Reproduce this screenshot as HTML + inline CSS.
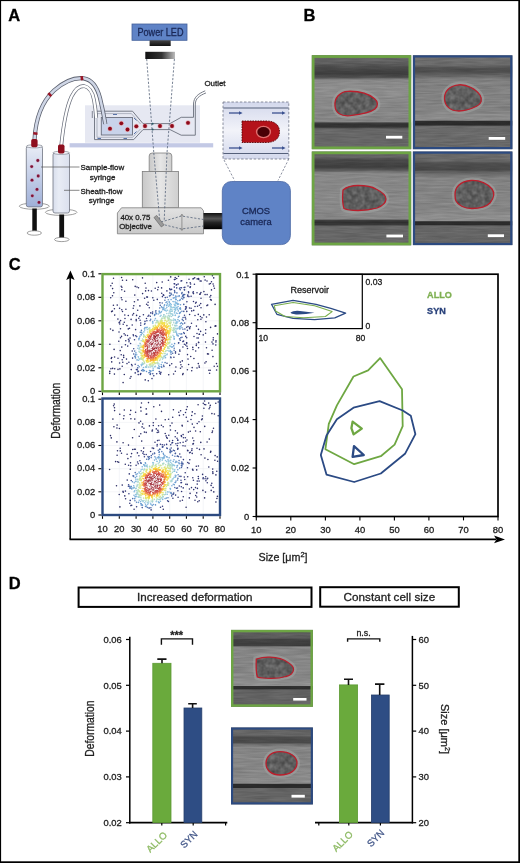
<!DOCTYPE html>
<html><head><meta charset="utf-8"><title>Figure</title>
<style>html,body{margin:0;padding:0;background:#fff;width:520px;height:863px;overflow:hidden}svg{display:block}text{font-family:"Liberation Sans", sans-serif}</style>
</head><body>
<svg width="520" height="863" viewBox="0 0 520 863" font-family='"Liberation Sans", sans-serif'>
<rect x="0" y="0" width="520" height="863" fill="#fff"/>
<defs>
<linearGradient id="lensg" x1="0" x2="1" y1="0" y2="0"><stop offset="0" stop-color="#111"/><stop offset="0.55" stop-color="#333"/><stop offset="1" stop-color="#bbb"/></linearGradient>
<linearGradient id="ledblk" x1="0" x2="0" y1="0" y2="1"><stop offset="0" stop-color="#444"/><stop offset="1" stop-color="#111"/></linearGradient>
<linearGradient id="syr1" x1="0" x2="0" y1="0" y2="1"><stop offset="0" stop-color="#e8ecf6"/><stop offset="1" stop-color="#9fb0d8"/></linearGradient>
<linearGradient id="syr2" x1="0" x2="1" y1="0" y2="0"><stop offset="0" stop-color="#d8deec"/><stop offset="0.35" stop-color="#e8ecf5"/><stop offset="1" stop-color="#dbe0ee"/></linearGradient>
<linearGradient id="objg" x1="0" x2="1" y1="0" y2="0"><stop offset="0" stop-color="#c8c8c8"/><stop offset="0.5" stop-color="#e6e6e6"/><stop offset="1" stop-color="#cfcfcf"/></linearGradient>
<linearGradient id="objb" x1="0" x2="0" y1="0" y2="1"><stop offset="0" stop-color="#e2e2e2"/><stop offset="1" stop-color="#c9c9c9"/></linearGradient>
<linearGradient id="conn" x1="0" x2="0" y1="0" y2="1"><stop offset="0" stop-color="#111"/><stop offset="0.35" stop-color="#555"/><stop offset="0.6" stop-color="#222"/><stop offset="1" stop-color="#000"/></linearGradient>
<linearGradient id="insetg" x1="0" x2="0" y1="0" y2="1"><stop offset="0" stop-color="#d3d8ec"/><stop offset="0.5" stop-color="#f2f3f9"/><stop offset="1" stop-color="#d3d8ec"/></linearGradient>
<radialGradient id="cellr" cx="0.5" cy="0.5" r="0.5"><stop offset="0" stop-color="#5a0008"/><stop offset="0.6" stop-color="#8a0a18"/><stop offset="1" stop-color="#c8404a"/></radialGradient>
</defs>
<rect x="132" y="24" width="55" height="16.3" fill="#5f83c6" stroke="#44609a" stroke-width="0.8"/>
<text x="160.5" y="35.5" font-size="10.2" text-anchor="middle" font-weight="normal" fill="#1a2856" textLength="46" lengthAdjust="spacingAndGlyphs" stroke="#1a2856" stroke-width="0.3">Power LED</text>
<rect x="149.6" y="40.3" width="21.1" height="5.7" fill="url(#ledblk)"/>
<rect x="145.3" y="51.8" width="29.7" height="7.2" fill="url(#lensg)"/>
<rect x="69.6" y="143.2" width="143.6" height="4.2" fill="#c3c9e5"/>
<rect x="85" y="105.3" width="115" height="37.5" fill="#e6e8f2"/>
<rect x="101.3" y="117.5" width="31.2" height="17.5" fill="#c9d3ea" stroke="#6a6f7c" stroke-width="0.9"/>
<path d="M94.5,111.2 L132.5,111.2 L143,123.6 L170,123.6 L181.2,117.3 L193.5,117.3 L193.5,104" stroke="#6a6f7c" stroke-width="0.9" fill="none"/>
<path d="M94.5,111.2 L94.5,139.6 L133.7,139.6 L143,129.6 L170,129.6 L181.2,135.2 L195.3,135.2 L195.3,104" stroke="#6a6f7c" stroke-width="0.9" fill="none"/>
<path d="M97,113.6 L131.4,113.6 L140.5,124 M97,113.6 L97,137.3 L132.6,137.3 L140.5,129" stroke="#8c92a0" stroke-width="0.6" fill="none"/>
<path d="M193.5,104 C193.8,97.5 197.5,94 205.2,90.8 M195.3,104 C195.6,98.5 199,95.8 206,92.9" stroke="#6a6f7c" stroke-width="0.9" fill="none"/>
<circle cx="110" cy="128.7" r="2.5" fill="#e4aab2"/><circle cx="110" cy="128.7" r="1.9" fill="#8e0a1a"/>
<circle cx="121.3" cy="123.3" r="2.5" fill="#e4aab2"/><circle cx="121.3" cy="123.3" r="1.9" fill="#8e0a1a"/>
<circle cx="127.5" cy="129.5" r="2.5" fill="#e4aab2"/><circle cx="127.5" cy="129.5" r="1.9" fill="#8e0a1a"/>
<circle cx="136.3" cy="126.3" r="2.5" fill="#e4aab2"/><circle cx="136.3" cy="126.3" r="1.9" fill="#8e0a1a"/>
<circle cx="145" cy="126" r="2.5" fill="#e4aab2"/><circle cx="145" cy="126" r="1.9" fill="#8e0a1a"/>
<circle cx="160" cy="126" r="2.5" fill="#e4aab2"/><circle cx="160" cy="126" r="1.9" fill="#8e0a1a"/>
<circle cx="172" cy="126" r="2.5" fill="#e4aab2"/><circle cx="172" cy="126" r="1.9" fill="#8e0a1a"/>
<circle cx="188" cy="122.8" r="2.5" fill="#e4aab2"/><circle cx="188" cy="122.8" r="1.9" fill="#8e0a1a"/>
<line x1="113" y1="114.5" x2="117" y2="114.5" stroke="#4a66a0" stroke-width="0.9"/>
<line x1="97.5" y1="138.5" x2="101" y2="138.5" stroke="#4a66a0" stroke-width="0.9"/>
<line x1="123.5" y1="138.5" x2="127" y2="138.5" stroke="#4a66a0" stroke-width="0.9"/>
<line x1="134" y1="118" x2="136.5" y2="120.5" stroke="#4a66a0" stroke-width="0.9"/>
<line x1="134" y1="134" x2="136.5" y2="131.5" stroke="#4a66a0" stroke-width="0.9"/>
<path d="M146.7,59 L153.8,153" stroke="#5d6a80" stroke-width="0.85" stroke-dasharray="2.2,1.6" fill="none"/>
<path d="M174.4,59 L167,153" stroke="#5d6a80" stroke-width="0.85" stroke-dasharray="2.2,1.6" fill="none"/>
<circle cx="152.6" cy="123.7" r="1" fill="#2a5a66"/><circle cx="152.6" cy="129.6" r="1" fill="#2a5a66"/>
<path d="M34.5,140 C35.5,121 40.5,103 54,90.5 C64,81.5 75,77.5 83.5,78.3 C91.5,79.5 97,86.5 100,98 C102.5,108 104,116 105.3,124" stroke="#5d6270" stroke-width="4.2" fill="none"/>
<path d="M34.5,140 C35.5,121 40.5,103 54,90.5 C64,81.5 75,77.5 83.5,78.3 C91.5,79.5 97,86.5 100,98 C102.5,108 104,116 105.3,124" stroke="#cfd6e6" stroke-width="2.6" fill="none"/>
<rect x="80.60000000000001" y="76.10000000000001" width="2.6" height="4.2" fill="#9a1424" transform="rotate(-8 81.9 78.2)"/>
<rect x="48.5" y="92.5" width="2.6" height="4.2" fill="#9a1424" transform="rotate(-45 49.8 94.6)"/>
<rect x="34.1" y="131.4" width="2.6" height="4.2" fill="#9a1424" transform="rotate(-85 35.4 133.5)"/>
<path d="M61.2,146 C63.2,126 66.2,108 71.5,96.5 C75,89.5 79.5,86 84,86 C89,87 92.5,92 94,100 C95.3,107 95.8,112 96.2,118" stroke="#6a6f7c" stroke-width="3.8" fill="none"/>
<path d="M61.2,146 C63.2,126 66.2,108 71.5,96.5 C75,89.5 79.5,86 84,86 C89,87 92.5,92 94,100 C95.3,107 95.8,112 96.2,118" stroke="#fff" stroke-width="2.3" fill="none"/>
<line x1="92.3" y1="111" x2="92.3" y2="118" stroke="#6a6f7c" stroke-width="0.8"/>
<ellipse cx="34.3" cy="206.2" rx="15" ry="3.1" fill="#fff" stroke="#777" stroke-width="0.7"/>
<rect x="32.3" y="208.5" width="4.5" height="24" fill="#111"/>
<ellipse cx="34.3" cy="233" rx="7.2" ry="2.2" fill="#fff" stroke="#777" stroke-width="0.7"/>
<rect x="26.3" y="146.3" width="16.2" height="60.6" rx="2" fill="url(#syr1)" stroke="#6f7480" stroke-width="0.8"/>
<ellipse cx="34.4" cy="146.3" rx="8.1" ry="1.6" fill="#f4f6fb" stroke="#6f7480" stroke-width="0.6"/>
<rect x="31.2" y="139" width="6.4" height="8.2" rx="1.8" fill="#8e0f1e"/>
<circle cx="37.8" cy="160.5" r="1.9" fill="#c88aa8" opacity="0.7"/><circle cx="37.8" cy="160.5" r="1.4" fill="#7e1236"/>
<circle cx="31.7" cy="166.6" r="1.9" fill="#c88aa8" opacity="0.7"/><circle cx="31.7" cy="166.6" r="1.4" fill="#7e1236"/>
<circle cx="38.2" cy="176" r="1.9" fill="#c88aa8" opacity="0.7"/><circle cx="38.2" cy="176" r="1.4" fill="#7e1236"/>
<circle cx="32" cy="180.2" r="1.9" fill="#c88aa8" opacity="0.7"/><circle cx="32" cy="180.2" r="1.4" fill="#7e1236"/>
<circle cx="37" cy="189.4" r="1.9" fill="#c88aa8" opacity="0.7"/><circle cx="37" cy="189.4" r="1.4" fill="#7e1236"/>
<circle cx="32.3" cy="195.8" r="1.9" fill="#c88aa8" opacity="0.7"/><circle cx="32.3" cy="195.8" r="1.4" fill="#7e1236"/>
<circle cx="39" cy="202.4" r="1.9" fill="#c88aa8" opacity="0.7"/><circle cx="39" cy="202.4" r="1.4" fill="#7e1236"/>
<ellipse cx="61.2" cy="212.3" rx="15.8" ry="3.1" fill="#fff" stroke="#777" stroke-width="0.7"/>
<rect x="59.3" y="214.5" width="4.8" height="24.5" fill="#111"/>
<ellipse cx="61.8" cy="239.5" rx="7.3" ry="2.1" fill="#fff" stroke="#777" stroke-width="0.7"/>
<rect x="53" y="152.8" width="16.5" height="60.2" rx="2" fill="url(#syr2)" stroke="#6f7480" stroke-width="0.8"/>
<ellipse cx="61.2" cy="152.8" rx="8.2" ry="1.6" fill="#f4f6fb" stroke="#6f7480" stroke-width="0.6"/>
<rect x="58" y="144.5" width="6.5" height="9" rx="1.8" fill="#8e0f1e"/>
<line x1="41" y1="167" x2="79.5" y2="167" stroke="#555" stroke-width="0.7"/>
<line x1="64" y1="190.3" x2="79.5" y2="190.3" stroke="#555" stroke-width="0.7"/>
<text x="80.5" y="169.7" font-size="7.95" text-anchor="start" font-weight="normal" fill="#222"  stroke="#222" stroke-width="0.3">Sample-flow</text>
<text x="102.5" y="180.2" font-size="7.95" text-anchor="middle" font-weight="normal" fill="#222"  stroke="#222" stroke-width="0.3">syringe</text>
<text x="80.5" y="193.6" font-size="7.95" text-anchor="start" font-weight="normal" fill="#222"  stroke="#222" stroke-width="0.3">Sheath-flow</text>
<text x="101.5" y="203.2" font-size="7.95" text-anchor="middle" font-weight="normal" fill="#222"  stroke="#222" stroke-width="0.3">syringe</text>
<text x="204.4" y="86" font-size="7.95" text-anchor="start" font-weight="normal" fill="#222"  stroke="#222" stroke-width="0.3">Outlet</text>
<path d="M149.2,171.5 L149.2,156 Q149.2,153 152.2,153 L168.8,153 Q171.8,153 171.8,156 L171.8,171.5 Z" fill="url(#objg)" stroke="#7d7d7d" stroke-width="0.8"/>
<rect x="142.3" y="171.5" width="36.2" height="36.3" fill="url(#objg)" stroke="#7d7d7d" stroke-width="0.8"/>
<path d="M117.4,213 L121.5,207.8 L201.2,207.8 L203.5,210.8 L203.5,233.8 L117.4,233.8 Z" fill="url(#objb)" stroke="#7d7d7d" stroke-width="0.8"/>
<path d="M153.8,153 L159.8,221 M167,153 L164.2,221" stroke="#5d6a80" stroke-width="0.85" stroke-dasharray="2.2,1.6" fill="none"/>
<path d="M161,222 L181.5,216 L203.5,219.5 M161,224 L181.5,229 L203.5,226" stroke="#5d6a80" stroke-width="0.85" stroke-dasharray="2.2,1.6" fill="none"/>
<rect x="153" y="219.5" width="12" height="3.4" fill="#9a9a9a" stroke="#666" stroke-width="0.6" transform="rotate(52 159 221.2)"/>
<path d="M181.9,214.2 L181.9,230.4 M180.4,216.5 L181.9,214.2 L183.4,216.5 M180.4,228.1 L181.9,230.4 L183.4,228.1" stroke="#8a8a8a" stroke-width="0.9" fill="none"/>
<text x="120.4" y="220.2" font-size="7.85" text-anchor="start" font-weight="normal" fill="#222"  stroke="#222" stroke-width="0.3">40x 0.75</text>
<text x="119.2" y="229.3" font-size="7.85" text-anchor="start" font-weight="normal" fill="#222"  stroke="#222" stroke-width="0.3">Objective</text>
<rect x="203.5" y="213" width="19.5" height="16.2" fill="url(#conn)"/>
<rect x="222.3" y="181.5" width="68.1" height="63.1" rx="9" fill="#5f83c6" stroke="#4a67a3" stroke-width="0.8"/>
<text x="256" y="213.7" font-size="9.4" text-anchor="middle" font-weight="normal" fill="#1a2856"  stroke="#1a2856" stroke-width="0.3">CMOS</text>
<text x="256" y="224.8" font-size="9.4" text-anchor="middle" font-weight="normal" fill="#1a2856"  stroke="#1a2856" stroke-width="0.3">camera</text>
<rect x="223" y="102" width="65.8" height="57" fill="url(#insetg)" stroke="#6e7486" stroke-width="0.8" stroke-dasharray="2.5,1.7"/>
<line x1="223.4" y1="108" x2="288.4" y2="108" stroke="#55607a" stroke-width="1.2"/>
<line x1="223.4" y1="153.5" x2="288.4" y2="153.5" stroke="#55607a" stroke-width="1.2"/>
<line x1="229" y1="113" x2="240" y2="113" stroke="#3b5190" stroke-width="1.3"/><path d="M239,111.2 L242.6,113 L239,114.8 Z" fill="#3b5190"/>
<line x1="272" y1="113" x2="283" y2="113" stroke="#3b5190" stroke-width="1.3"/><path d="M282,111.2 L285.6,113 L282,114.8 Z" fill="#3b5190"/>
<line x1="229" y1="148" x2="240" y2="148" stroke="#3b5190" stroke-width="1.3"/><path d="M239,146.2 L242.6,148 L239,149.8 Z" fill="#3b5190"/>
<line x1="272" y1="148" x2="283" y2="148" stroke="#3b5190" stroke-width="1.3"/><path d="M282,146.2 L285.6,148 L282,149.8 Z" fill="#3b5190"/>
<path d="M242,121 L266,121 C276,121 279.5,126 279.5,131.8 C279.5,137.5 276,142.5 266,142.5 L242,142.5 Z" fill="#b4121a" stroke="#5a0608" stroke-width="0.9" stroke-dasharray="1.6,1"/>
<ellipse cx="263.5" cy="132" rx="7.6" ry="6.2" fill="#e07070"/>
<ellipse cx="263.5" cy="132" rx="6.2" ry="5" fill="#4a0006"/>
<path d="M224,160 L234.6,180.5 M288.8,159 L278,180.5" stroke="#70768a" stroke-width="0.8" stroke-dasharray="2.2,1.6" fill="none"/>
<defs><filter id="nf" x="0" y="0" width="100%" height="100%" color-interpolation-filters="sRGB"><feTurbulence type="fractalNoise" baseFrequency="0.045 0.55" numOctaves="2" seed="3" stitchTiles="stitch"/><feColorMatrix type="matrix" values="0 0 0 1.6 -0.3  0 0 0 1.6 -0.3  0 0 0 1.6 -0.3  0 0 0 0 1"/></filter>
<filter id="nf2" x="0" y="0" width="100%" height="100%" color-interpolation-filters="sRGB"><feTurbulence type="fractalNoise" baseFrequency="0.2" numOctaves="2" seed="7" stitchTiles="stitch"/><feColorMatrix type="matrix" values="0 0 0 0.9 0.05  0 0 0 0.9 0.05  0 0 0 0.9 0.05  0 0 0 0 1"/></filter>
<pattern id="noisepat" patternUnits="userSpaceOnUse" width="520" height="863"><rect width="520" height="863" filter="url(#nf)"/></pattern>
<pattern id="cellpat" patternUnits="userSpaceOnUse" width="60" height="60"><rect width="60" height="60" filter="url(#nf2)"/></pattern></defs>
<defs><linearGradient id="tg1" gradientUnits="userSpaceOnUse" x1="0" y1="55.2" x2="0" y2="149.2"><stop offset="0.0298" stop-color="#646464"/><stop offset="0.0830" stop-color="#5e5e5e"/><stop offset="0.1255" stop-color="#4c4c4c"/><stop offset="0.2000" stop-color="#3c3c3c"/><stop offset="0.2372" stop-color="#525252"/><stop offset="0.2638" stop-color="#888888"/><stop offset="0.3383" stop-color="#8c8c8c"/><stop offset="0.5830" stop-color="#868686"/><stop offset="0.7053" stop-color="#848484"/><stop offset="0.7234" stop-color="#3a3a3a"/><stop offset="0.7404" stop-color="#303030"/><stop offset="0.7638" stop-color="#343434"/><stop offset="0.7851" stop-color="#666666"/><stop offset="0.9553" stop-color="#666666"/></linearGradient></defs>
<rect x="311.8" y="55.2" width="99.39999999999998" height="93.99999999999999" fill="url(#tg1)"/>
<rect x="311.8" y="55.2" width="99.39999999999998" height="93.99999999999999" fill="url(#noisepat)" opacity="0.09" style="mix-blend-mode:overlay"/>
<path d="M335,106 C334,98 340,91.5 348,91.3 C358,91 368,93 374.6,98.8 C378,101.5 378.5,106 375,109 C370,113 360,114.5 350,115.7 C341,116.5 335.5,113 335,106 Z" fill="none" stroke="#a2a6a4" stroke-width="6" opacity="0.55"/>
<path d="M335,106 C334,98 340,91.5 348,91.3 C358,91 368,93 374.6,98.8 C378,101.5 378.5,106 375,109 C370,113 360,114.5 350,115.7 C341,116.5 335.5,113 335,106 Z" fill="#505050"/>
<path d="M335,106 C334,98 340,91.5 348,91.3 C358,91 368,93 374.6,98.8 C378,101.5 378.5,106 375,109 C370,113 360,114.5 350,115.7 C341,116.5 335.5,113 335,106 Z" fill="url(#cellpat)" opacity="0.3"/>
<path d="M335,106 C334,98 340,91.5 348,91.3 C358,91 368,93 374.6,98.8 C378,101.5 378.5,106 375,109 C370,113 360,114.5 350,115.7 C341,116.5 335.5,113 335,106 Z" fill="none" stroke="#bb1e2c" stroke-width="1.3"/>
<rect x="386" y="135.8" width="16.30000000000001" height="2.799999999999983" fill="#fff"/>
<rect x="313.15000000000003" y="56.550000000000004" width="96.69999999999997" height="91.29999999999998" fill="none" stroke="#6da544" stroke-width="2.7"/>
<defs><linearGradient id="tg2" gradientUnits="userSpaceOnUse" x1="0" y1="55.3" x2="0" y2="149.2"><stop offset="0.0213" stop-color="#6e6e6e"/><stop offset="0.1033" stop-color="#6a6a6a"/><stop offset="0.1459" stop-color="#4c4c4c"/><stop offset="0.1832" stop-color="#505050"/><stop offset="0.2204" stop-color="#666666"/><stop offset="0.2577" stop-color="#808080"/><stop offset="0.6038" stop-color="#828282"/><stop offset="0.6571" stop-color="#8c8c8c"/><stop offset="0.6912" stop-color="#888888"/><stop offset="0.7050" stop-color="#2c2c2c"/><stop offset="0.7401" stop-color="#2a2a2a"/><stop offset="0.7583" stop-color="#6a6a6a"/><stop offset="0.9798" stop-color="#686868"/></linearGradient></defs>
<rect x="412.9" y="55.3" width="99.5" height="93.89999999999999" fill="url(#tg2)"/>
<rect x="412.9" y="55.3" width="99.5" height="93.89999999999999" fill="url(#noisepat)" opacity="0.09" style="mix-blend-mode:overlay"/>
<path d="M444.5,99 C444,91 450,85.5 459,84.8 C467,84.3 476,89 480,95 C483,100 481,104 477,106 C471,109 466,111 459,111 C450,111 445,106 444.5,99 Z" fill="none" stroke="#a2a6a4" stroke-width="6" opacity="0.55"/>
<path d="M444.5,99 C444,91 450,85.5 459,84.8 C467,84.3 476,89 480,95 C483,100 481,104 477,106 C471,109 466,111 459,111 C450,111 445,106 444.5,99 Z" fill="#505050"/>
<path d="M444.5,99 C444,91 450,85.5 459,84.8 C467,84.3 476,89 480,95 C483,100 481,104 477,106 C471,109 466,111 459,111 C450,111 445,106 444.5,99 Z" fill="url(#cellpat)" opacity="0.3"/>
<path d="M444.5,99 C444,91 450,85.5 459,84.8 C467,84.3 476,89 480,95 C483,100 481,104 477,106 C471,109 466,111 459,111 C450,111 445,106 444.5,99 Z" fill="none" stroke="#bb1e2c" stroke-width="1.3"/>
<rect x="488.7" y="137" width="16.5" height="2.8000000000000114" fill="#fff"/>
<rect x="414.0" y="56.4" width="97.3" height="91.69999999999999" fill="none" stroke="#2c4a80" stroke-width="2.2"/>
<defs><linearGradient id="tg3" gradientUnits="userSpaceOnUse" x1="0" y1="151.5" x2="0" y2="245.3"><stop offset="0.0245" stop-color="#666666"/><stop offset="0.0640" stop-color="#606060"/><stop offset="0.0906" stop-color="#484848"/><stop offset="0.1652" stop-color="#3e3e3e"/><stop offset="0.1972" stop-color="#565656"/><stop offset="0.2292" stop-color="#868686"/><stop offset="0.5171" stop-color="#888888"/><stop offset="0.7196" stop-color="#868686"/><stop offset="0.7356" stop-color="#3c3c3c"/><stop offset="0.7569" stop-color="#303030"/><stop offset="0.7783" stop-color="#383838"/><stop offset="0.7996" stop-color="#666666"/><stop offset="0.9542" stop-color="#666666"/></linearGradient></defs>
<rect x="311.8" y="151.5" width="99.39999999999998" height="93.80000000000001" fill="url(#tg3)"/>
<rect x="311.8" y="151.5" width="99.39999999999998" height="93.80000000000001" fill="url(#noisepat)" opacity="0.09" style="mix-blend-mode:overlay"/>
<path d="M343,190 C348,186 352,185.5 358,185.5 C366,185.5 372,186.5 376,189 C382,192 386,196 386,199 C386,203 382,206 377,208 C370,210 364,210.5 358,210.5 C352,210.5 347,210 344,208.5 C342.5,204 342.5,195 343,190 Z" fill="none" stroke="#a2a6a4" stroke-width="6" opacity="0.55"/>
<path d="M343,190 C348,186 352,185.5 358,185.5 C366,185.5 372,186.5 376,189 C382,192 386,196 386,199 C386,203 382,206 377,208 C370,210 364,210.5 358,210.5 C352,210.5 347,210 344,208.5 C342.5,204 342.5,195 343,190 Z" fill="#505050"/>
<path d="M343,190 C348,186 352,185.5 358,185.5 C366,185.5 372,186.5 376,189 C382,192 386,196 386,199 C386,203 382,206 377,208 C370,210 364,210.5 358,210.5 C352,210.5 347,210 344,208.5 C342.5,204 342.5,195 343,190 Z" fill="url(#cellpat)" opacity="0.3"/>
<path d="M343,190 C348,186 352,185.5 358,185.5 C366,185.5 372,186.5 376,189 C382,192 386,196 386,199 C386,203 382,206 377,208 C370,210 364,210.5 358,210.5 C352,210.5 347,210 344,208.5 C342.5,204 342.5,195 343,190 Z" fill="none" stroke="#bb1e2c" stroke-width="1.3"/>
<rect x="386.4" y="234.6" width="16.600000000000023" height="2.8000000000000114" fill="#fff"/>
<rect x="313.15000000000003" y="152.85" width="96.69999999999997" height="91.10000000000001" fill="none" stroke="#6da544" stroke-width="2.7"/>
<defs><linearGradient id="tg4" gradientUnits="userSpaceOnUse" x1="0" y1="151.5" x2="0" y2="245.1"><stop offset="0.0224" stop-color="#6a6a6a"/><stop offset="0.1015" stop-color="#666666"/><stop offset="0.1229" stop-color="#4e4e4e"/><stop offset="0.1976" stop-color="#484848"/><stop offset="0.2190" stop-color="#606060"/><stop offset="0.2831" stop-color="#828282"/><stop offset="0.6464" stop-color="#848484"/><stop offset="0.6891" stop-color="#8e8e8e"/><stop offset="0.7372" stop-color="#8a8a8a"/><stop offset="0.7511" stop-color="#2c2c2c"/><stop offset="0.7799" stop-color="#2a2a2a"/><stop offset="0.7959" stop-color="#666666"/><stop offset="0.9722" stop-color="#646464"/></linearGradient></defs>
<rect x="412.9" y="151.5" width="99.5" height="93.6" fill="url(#tg4)"/>
<rect x="412.9" y="151.5" width="99.5" height="93.6" fill="url(#noisepat)" opacity="0.09" style="mix-blend-mode:overlay"/>
<path d="M455,195 C454.5,188 460,181 471,180.5 C480,180 488,184 492,189 C495,193 494,198 490,203 C486,207 479,208.5 472,208.5 C464,208.5 458,205 456,201 C455,199 455,197 455,195 Z" fill="none" stroke="#a2a6a4" stroke-width="6" opacity="0.55"/>
<path d="M455,195 C454.5,188 460,181 471,180.5 C480,180 488,184 492,189 C495,193 494,198 490,203 C486,207 479,208.5 472,208.5 C464,208.5 458,205 456,201 C455,199 455,197 455,195 Z" fill="#505050"/>
<path d="M455,195 C454.5,188 460,181 471,180.5 C480,180 488,184 492,189 C495,193 494,198 490,203 C486,207 479,208.5 472,208.5 C464,208.5 458,205 456,201 C455,199 455,197 455,195 Z" fill="url(#cellpat)" opacity="0.3"/>
<path d="M455,195 C454.5,188 460,181 471,180.5 C480,180 488,184 492,189 C495,193 494,198 490,203 C486,207 479,208.5 472,208.5 C464,208.5 458,205 456,201 C455,199 455,197 455,195 Z" fill="none" stroke="#bb1e2c" stroke-width="1.3"/>
<rect x="487.8" y="234.3" width="16.19999999999999" height="2.799999999999983" fill="#fff"/>
<rect x="414.0" y="152.6" width="97.3" height="91.39999999999999" fill="none" stroke="#2c4a80" stroke-width="2.2"/>
<line x1="70.2" y1="278" x2="70.2" y2="539.3" stroke="#000" stroke-width="1.5"/>
<path d="M70.4,270.4 L74.6,280 L70.4,278 L66.2,280 Z" fill="#000"/>
<line x1="69.5" y1="539.4" x2="496" y2="539.4" stroke="#000" stroke-width="1.7"/>
<path d="M505,539.4 L494,535.6 L496.5,539.4 L494,543.2 Z" fill="#000"/>
<line x1="119.3" y1="273.6" x2="119.3" y2="391.3" stroke="#eceff4" stroke-width="0.6"/>
<line x1="136.1" y1="273.6" x2="136.1" y2="391.3" stroke="#eceff4" stroke-width="0.6"/>
<line x1="152.9" y1="273.6" x2="152.9" y2="391.3" stroke="#eceff4" stroke-width="0.6"/>
<line x1="169.7" y1="273.6" x2="169.7" y2="391.3" stroke="#eceff4" stroke-width="0.6"/>
<line x1="186.4" y1="273.6" x2="186.4" y2="391.3" stroke="#eceff4" stroke-width="0.6"/>
<line x1="203.2" y1="273.6" x2="203.2" y2="391.3" stroke="#eceff4" stroke-width="0.6"/>
<line x1="220.0" y1="273.6" x2="220.0" y2="391.3" stroke="#eceff4" stroke-width="0.6"/>
<line x1="102.5" y1="367.8" x2="219.5" y2="367.8" stroke="#eceff4" stroke-width="0.6"/>
<line x1="102.5" y1="344.3" x2="219.5" y2="344.3" stroke="#eceff4" stroke-width="0.6"/>
<line x1="102.5" y1="320.8" x2="219.5" y2="320.8" stroke="#eceff4" stroke-width="0.6"/>
<line x1="102.5" y1="297.3" x2="219.5" y2="297.3" stroke="#eceff4" stroke-width="0.6"/>
<g><circle cx="123.1" cy="382.6" r="0.78" fill="#2a2a60"/><circle cx="109.9" cy="344.3" r="0.78" fill="#2a2a60"/><circle cx="142.5" cy="277.9" r="0.78" fill="#2a2a60"/><circle cx="132.7" cy="279.7" r="0.78" fill="#2a2a61"/><circle cx="110.5" cy="329.0" r="0.78" fill="#2a2a61"/><circle cx="113.5" cy="278.3" r="0.78" fill="#2a2a61"/><circle cx="215.1" cy="304.4" r="0.78" fill="#2a2b62"/><circle cx="121.6" cy="277.5" r="0.78" fill="#2a2b62"/><circle cx="112.9" cy="330.4" r="0.78" fill="#2a2b63"/><circle cx="126.5" cy="280.3" r="0.78" fill="#2a2b63"/><circle cx="110.7" cy="297.8" r="0.78" fill="#2a2b63"/><circle cx="114.1" cy="349.4" r="0.78" fill="#2a2b63"/><circle cx="134.8" cy="295.1" r="0.78" fill="#2a2b63"/><circle cx="124.3" cy="374.5" r="0.78" fill="#2a2b63"/><circle cx="209.6" cy="373.2" r="0.78" fill="#2a2b63"/><circle cx="145.2" cy="283.2" r="0.78" fill="#2a2b63"/><circle cx="168.7" cy="374.8" r="0.78" fill="#2a2b63"/><circle cx="212.9" cy="356.6" r="0.78" fill="#2a2b63"/><circle cx="112.2" cy="283.2" r="0.78" fill="#2a2b63"/><circle cx="110.8" cy="285.8" r="0.78" fill="#2b2c64"/><circle cx="173.6" cy="374.0" r="0.78" fill="#2b2c64"/><circle cx="216.6" cy="370.0" r="0.78" fill="#2b2c64"/><circle cx="135.2" cy="286.4" r="0.78" fill="#2b2c64"/><circle cx="156.7" cy="282.6" r="0.78" fill="#2b2c64"/><circle cx="125.9" cy="301.3" r="0.78" fill="#2b2c64"/><circle cx="209.2" cy="314.7" r="0.78" fill="#2b2c64"/><circle cx="130.1" cy="378.2" r="0.78" fill="#2b2c64"/><circle cx="216.5" cy="363.6" r="0.78" fill="#2b2c64"/><circle cx="217.4" cy="366.3" r="0.78" fill="#2b2c64"/><circle cx="217.5" cy="333.9" r="0.78" fill="#2b2c64"/><circle cx="162.2" cy="282.0" r="0.78" fill="#2b2c64"/><circle cx="122.5" cy="280.2" r="0.78" fill="#2b2c64"/><circle cx="182.7" cy="374.6" r="0.78" fill="#2b2c64"/><circle cx="112.5" cy="295.7" r="0.78" fill="#2b2c64"/><circle cx="215.9" cy="326.0" r="0.78" fill="#2b2c64"/><circle cx="124.6" cy="291.3" r="0.78" fill="#2b2c64"/><circle cx="215.4" cy="325.7" r="0.78" fill="#2b2c64"/><circle cx="206.1" cy="361.7" r="0.78" fill="#2b2c64"/><circle cx="212.4" cy="275.7" r="0.78" fill="#2b2c64"/><circle cx="137.0" cy="287.0" r="0.78" fill="#2b2c65"/><circle cx="191.7" cy="370.8" r="0.78" fill="#2b2c65"/><circle cx="204.9" cy="363.0" r="0.78" fill="#2b2c65"/><circle cx="208.9" cy="370.3" r="0.78" fill="#2b2c65"/><circle cx="215.1" cy="326.3" r="0.78" fill="#2b2c65"/><circle cx="112.6" cy="288.6" r="0.78" fill="#2b2c65"/><circle cx="121.3" cy="297.7" r="0.78" fill="#2b2c65"/><circle cx="109.7" cy="373.4" r="0.78" fill="#2b2c65"/><circle cx="113.8" cy="292.7" r="0.78" fill="#2b2c65"/><circle cx="207.5" cy="353.9" r="0.78" fill="#2b2c65"/><circle cx="122.0" cy="299.7" r="0.78" fill="#2b2c65"/><circle cx="210.6" cy="327.4" r="0.78" fill="#2b2c65"/><circle cx="210.2" cy="370.3" r="0.78" fill="#2b2c65"/><circle cx="208.5" cy="354.0" r="0.78" fill="#2b2c65"/><circle cx="183.1" cy="373.5" r="0.78" fill="#2b2c65"/><circle cx="138.5" cy="287.8" r="0.78" fill="#2b2c65"/><circle cx="134.4" cy="301.7" r="0.78" fill="#2b2c65"/><circle cx="111.6" cy="311.6" r="0.78" fill="#2b2c65"/><circle cx="206.5" cy="347.7" r="0.78" fill="#2b2c65"/><circle cx="137.9" cy="299.9" r="0.78" fill="#2b2c65"/><circle cx="114.4" cy="374.1" r="0.78" fill="#2b2d66"/><circle cx="214.2" cy="366.3" r="0.78" fill="#2b2d66"/><circle cx="193.9" cy="358.5" r="0.78" fill="#2b2d66"/><circle cx="212.1" cy="350.2" r="0.78" fill="#2b2d66"/><circle cx="213.7" cy="277.9" r="0.78" fill="#2b2d66"/><circle cx="121.8" cy="289.8" r="0.78" fill="#2b2d66"/><circle cx="131.0" cy="376.6" r="0.78" fill="#2b2d66"/><circle cx="175.3" cy="371.3" r="0.78" fill="#2b2d66"/><circle cx="113.4" cy="305.3" r="0.78" fill="#2b2d66"/><circle cx="121.2" cy="286.2" r="0.78" fill="#2b2d66"/><circle cx="111.7" cy="357.5" r="0.78" fill="#2b2d66"/><circle cx="111.3" cy="358.4" r="0.78" fill="#2b2d66"/><circle cx="121.9" cy="287.3" r="0.78" fill="#2b2d66"/><circle cx="199.3" cy="367.2" r="0.78" fill="#2b2d66"/><circle cx="118.8" cy="341.2" r="0.78" fill="#2b2d66"/><circle cx="109.8" cy="371.4" r="0.78" fill="#2b2d66"/><circle cx="197.0" cy="368.0" r="0.78" fill="#2b2d66"/><circle cx="112.4" cy="311.1" r="0.78" fill="#2b2d66"/><circle cx="198.3" cy="363.6" r="0.78" fill="#2b2d66"/><circle cx="187.4" cy="369.7" r="0.78" fill="#2b2d66"/><circle cx="192.2" cy="367.6" r="0.78" fill="#2b2d66"/><circle cx="199.1" cy="366.0" r="0.78" fill="#2b2d67"/><circle cx="139.9" cy="305.9" r="0.78" fill="#2b2d67"/><circle cx="205.9" cy="321.8" r="0.78" fill="#2b2d67"/><circle cx="205.5" cy="342.0" r="0.78" fill="#2b2d67"/><circle cx="114.7" cy="315.1" r="0.78" fill="#2b2d67"/><circle cx="133.8" cy="305.8" r="0.78" fill="#2b2d67"/><circle cx="207.7" cy="305.1" r="0.78" fill="#2b2d67"/><circle cx="205.7" cy="329.8" r="0.78" fill="#2b2d67"/><circle cx="206.9" cy="305.6" r="0.78" fill="#2b2d67"/><circle cx="206.5" cy="317.0" r="0.78" fill="#2b2d67"/><circle cx="117.2" cy="305.1" r="0.78" fill="#2b2d67"/><circle cx="188.6" cy="364.5" r="0.78" fill="#2b2d67"/><circle cx="204.3" cy="276.7" r="0.78" fill="#2b2d67"/><circle cx="188.0" cy="359.1" r="0.78" fill="#2b2d67"/><circle cx="111.7" cy="361.9" r="0.78" fill="#2b2d67"/><circle cx="146.0" cy="288.1" r="0.78" fill="#2b2d67"/><circle cx="190.7" cy="356.5" r="0.78" fill="#2b2d67"/><circle cx="168.4" cy="280.2" r="0.78" fill="#2c2e68"/><circle cx="125.9" cy="309.3" r="0.78" fill="#2c2e68"/><circle cx="215.8" cy="345.0" r="0.78" fill="#2c2e68"/><circle cx="170.7" cy="276.9" r="0.78" fill="#2c2e68"/><circle cx="214.4" cy="288.2" r="0.78" fill="#2c2e68"/><circle cx="155.2" cy="288.3" r="0.78" fill="#2c2e68"/><circle cx="120.2" cy="350.6" r="0.78" fill="#2c2e68"/><circle cx="114.4" cy="308.7" r="0.78" fill="#2c2e68"/><circle cx="142.6" cy="293.6" r="0.78" fill="#2c2e68"/><circle cx="110.9" cy="368.7" r="0.78" fill="#2c2e68"/><circle cx="205.6" cy="333.2" r="0.78" fill="#2c2e68"/><circle cx="121.8" cy="347.1" r="0.78" fill="#2c2e68"/><circle cx="114.6" cy="357.0" r="0.78" fill="#2c2e68"/><circle cx="211.3" cy="300.1" r="0.78" fill="#2c2e68"/><circle cx="133.2" cy="308.3" r="0.78" fill="#2c2e68"/><circle cx="151.4" cy="291.0" r="0.78" fill="#2c2e68"/><circle cx="195.7" cy="351.0" r="0.78" fill="#2c2e68"/><circle cx="175.9" cy="367.0" r="0.78" fill="#2c2e69"/><circle cx="187.5" cy="354.6" r="0.78" fill="#2c2e69"/><circle cx="119.0" cy="332.0" r="0.78" fill="#2c2e69"/><circle cx="158.3" cy="287.2" r="0.78" fill="#2c2e69"/><circle cx="119.9" cy="368.9" r="0.78" fill="#2c2e69"/><circle cx="213.3" cy="337.8" r="0.78" fill="#2c2e69"/><circle cx="119.6" cy="308.3" r="0.78" fill="#2c2e69"/><circle cx="118.0" cy="369.4" r="0.78" fill="#2c2e69"/><circle cx="216.0" cy="340.7" r="0.78" fill="#2c2e69"/><circle cx="182.3" cy="360.9" r="0.78" fill="#2c2e69"/><circle cx="148.5" cy="290.6" r="0.78" fill="#2c2e69"/><circle cx="215.9" cy="342.0" r="0.78" fill="#2c2e69"/><circle cx="121.8" cy="309.7" r="0.78" fill="#2c2e69"/><circle cx="210.5" cy="299.6" r="0.78" fill="#2c2e69"/><circle cx="145.6" cy="290.9" r="0.78" fill="#2c2e69"/><circle cx="148.3" cy="380.7" r="0.78" fill="#2c2e69"/><circle cx="180.5" cy="368.2" r="0.78" fill="#2c2e69"/><circle cx="112.6" cy="368.4" r="0.78" fill="#2c2e69"/><circle cx="198.6" cy="347.7" r="0.78" fill="#2c2e69"/><circle cx="213.7" cy="286.0" r="0.78" fill="#2c2e69"/><circle cx="152.8" cy="297.7" r="0.78" fill="#2c2f6a"/><circle cx="210.8" cy="295.6" r="0.78" fill="#2c2f6a"/><circle cx="182.0" cy="366.8" r="0.78" fill="#2c2f6a"/><circle cx="137.7" cy="310.3" r="0.78" fill="#2c2f6a"/><circle cx="122.5" cy="311.5" r="0.78" fill="#2c2f6a"/><circle cx="196.4" cy="326.1" r="0.78" fill="#2c2f6a"/><circle cx="180.3" cy="362.1" r="0.78" fill="#2c2f6a"/><circle cx="120.5" cy="337.8" r="0.78" fill="#2c2f6a"/><circle cx="144.6" cy="298.2" r="0.78" fill="#2c2f6a"/><circle cx="203.8" cy="314.9" r="0.78" fill="#2c2f6a"/><circle cx="157.7" cy="289.7" r="0.78" fill="#2c2f6a"/><circle cx="114.7" cy="368.8" r="0.78" fill="#2c2f6a"/><circle cx="145.2" cy="379.9" r="0.78" fill="#2c2f6a"/><circle cx="213.0" cy="343.9" r="0.78" fill="#2c2f6a"/><circle cx="211.5" cy="289.9" r="0.78" fill="#2c2f6a"/><circle cx="180.9" cy="364.8" r="0.78" fill="#2c2f6a"/><circle cx="212.0" cy="342.1" r="0.78" fill="#2c2f6a"/><circle cx="213.2" cy="339.9" r="0.78" fill="#2c2f6a"/><circle cx="197.8" cy="319.8" r="0.78" fill="#2c2f6a"/><circle cx="205.1" cy="280.1" r="0.78" fill="#2c2f6a"/><circle cx="146.6" cy="304.2" r="0.78" fill="#2c2f6a"/><circle cx="117.9" cy="319.1" r="0.78" fill="#2c2f6a"/><circle cx="209.9" cy="297.0" r="0.78" fill="#2c2f6a"/><circle cx="122.2" cy="366.2" r="0.78" fill="#2c2f6a"/><circle cx="213.1" cy="284.0" r="0.78" fill="#2c2f6b"/><circle cx="200.9" cy="319.3" r="0.78" fill="#2c2f6b"/><circle cx="161.6" cy="287.9" r="0.78" fill="#2c2f6b"/><circle cx="207.0" cy="281.0" r="0.78" fill="#2c2f6b"/><circle cx="128.3" cy="315.5" r="0.78" fill="#2c2f6b"/><circle cx="153.8" cy="300.3" r="0.78" fill="#2c2f6b"/><circle cx="118.0" cy="358.3" r="0.78" fill="#2c2f6b"/><circle cx="178.5" cy="276.3" r="0.78" fill="#2c2f6b"/><circle cx="121.2" cy="354.7" r="0.78" fill="#2c2f6b"/><circle cx="193.0" cy="349.5" r="0.78" fill="#2c2f6b"/><circle cx="202.0" cy="317.7" r="0.78" fill="#2c2f6b"/><circle cx="203.2" cy="334.9" r="0.78" fill="#2c2f6b"/><circle cx="203.9" cy="291.6" r="0.78" fill="#2c2f6b"/><circle cx="148.1" cy="302.2" r="0.78" fill="#2c2f6b"/><circle cx="124.8" cy="315.0" r="0.78" fill="#2c2f6b"/><circle cx="146.7" cy="297.0" r="0.78" fill="#2c2f6b"/><circle cx="147.4" cy="297.1" r="0.78" fill="#2c2f6b"/><circle cx="211.5" cy="281.7" r="0.78" fill="#2c2f6b"/><circle cx="147.9" cy="305.3" r="0.78" fill="#2c2f6b"/><circle cx="120.5" cy="328.8" r="0.78" fill="#2c2f6b"/><circle cx="121.5" cy="336.4" r="0.78" fill="#2c2f6b"/><circle cx="132.2" cy="325.0" r="0.78" fill="#2c2f6b"/><circle cx="207.1" cy="294.6" r="0.78" fill="#2c2f6b"/><circle cx="201.0" cy="307.8" r="0.78" fill="#2c2f6b"/><circle cx="198.5" cy="329.4" r="0.78" fill="#2c2f6b"/><circle cx="195.0" cy="315.5" r="0.78" fill="#2d306c"/><circle cx="200.4" cy="316.5" r="0.78" fill="#2d306c"/><circle cx="131.1" cy="319.4" r="0.78" fill="#2d306c"/><circle cx="123.6" cy="355.4" r="0.78" fill="#2d306c"/><circle cx="201.1" cy="281.1" r="0.78" fill="#2d306c"/><circle cx="205.1" cy="294.6" r="0.78" fill="#2d306c"/><circle cx="133.6" cy="313.6" r="0.78" fill="#2d306c"/><circle cx="119.6" cy="363.0" r="0.78" fill="#2d306c"/><circle cx="209.3" cy="284.0" r="0.78" fill="#2d306c"/><circle cx="132.6" cy="315.0" r="0.78" fill="#2d306c"/><circle cx="210.4" cy="283.5" r="0.78" fill="#2d306c"/><circle cx="198.3" cy="314.4" r="0.78" fill="#2d306c"/><circle cx="129.5" cy="328.2" r="0.78" fill="#2d306c"/><circle cx="192.8" cy="347.4" r="0.78" fill="#2d306c"/><circle cx="189.0" cy="279.2" r="0.78" fill="#2d306c"/><circle cx="194.0" cy="336.5" r="0.78" fill="#2d306c"/><circle cx="194.7" cy="277.7" r="0.78" fill="#2d306c"/><circle cx="119.1" cy="322.8" r="0.78" fill="#2d306c"/><circle cx="200.6" cy="331.4" r="0.78" fill="#2d306c"/><circle cx="200.9" cy="292.6" r="0.78" fill="#2d306c"/><circle cx="126.9" cy="325.6" r="0.78" fill="#2d306c"/><circle cx="200.1" cy="281.0" r="0.78" fill="#2d306c"/><circle cx="125.0" cy="318.5" r="0.78" fill="#2d306c"/><circle cx="200.7" cy="303.6" r="0.78" fill="#2d306c"/><circle cx="198.6" cy="278.5" r="0.78" fill="#2d306c"/><circle cx="125.4" cy="344.8" r="0.78" fill="#2d306d"/><circle cx="128.3" cy="328.9" r="0.78" fill="#2d306d"/><circle cx="196.3" cy="345.5" r="0.78" fill="#2d306d"/><circle cx="127.0" cy="363.6" r="0.78" fill="#2d306d"/><circle cx="119.6" cy="322.1" r="0.78" fill="#2d306d"/><circle cx="119.8" cy="324.0" r="0.78" fill="#2d306d"/><circle cx="201.0" cy="298.2" r="0.78" fill="#2d306d"/><circle cx="123.7" cy="357.4" r="0.78" fill="#2d306d"/><circle cx="198.7" cy="342.6" r="0.78" fill="#2d306d"/><circle cx="122.8" cy="362.3" r="0.78" fill="#2d306d"/><circle cx="198.7" cy="279.5" r="0.78" fill="#2d306d"/><circle cx="200.3" cy="293.9" r="0.78" fill="#2d306d"/><circle cx="196.4" cy="344.0" r="0.78" fill="#2d306d"/><circle cx="198.5" cy="342.3" r="0.78" fill="#2d306d"/><circle cx="191.5" cy="323.2" r="0.78" fill="#2d306d"/><circle cx="193.7" cy="278.5" r="0.78" fill="#2d306d"/><circle cx="197.2" cy="278.9" r="0.78" fill="#2d306d"/><circle cx="120.6" cy="320.6" r="0.78" fill="#2d306d"/><circle cx="122.2" cy="359.8" r="0.78" fill="#2d306d"/><circle cx="127.7" cy="346.1" r="0.78" fill="#2d306d"/><circle cx="199.7" cy="294.3" r="0.78" fill="#2d316e"/><circle cx="199.4" cy="305.3" r="0.78" fill="#2d316e"/><circle cx="131.2" cy="369.6" r="0.78" fill="#2d316e"/><circle cx="126.5" cy="359.1" r="0.78" fill="#2d316e"/><circle cx="193.0" cy="278.9" r="0.78" fill="#2d316e"/><circle cx="124.1" cy="333.8" r="0.78" fill="#2d316e"/><circle cx="124.3" cy="322.3" r="0.78" fill="#2d316e"/><circle cx="197.0" cy="333.5" r="0.78" fill="#2d316e"/><circle cx="123.2" cy="324.3" r="0.78" fill="#2d316e"/><circle cx="136.6" cy="315.4" r="0.78" fill="#2d316e"/><circle cx="171.7" cy="363.7" r="0.78" fill="#2d316e"/><circle cx="149.3" cy="307.7" r="0.78" fill="#2d316e"/><circle cx="175.2" cy="277.5" r="0.78" fill="#2d316e"/><circle cx="187.5" cy="348.5" r="0.78" fill="#2d316e"/><circle cx="197.0" cy="292.7" r="0.78" fill="#2d316f"/><circle cx="199.4" cy="334.2" r="0.78" fill="#2d316f"/><circle cx="157.3" cy="299.4" r="0.78" fill="#2d316f"/><circle cx="197.0" cy="338.0" r="0.78" fill="#2d316f"/><circle cx="199.2" cy="334.3" r="0.78" fill="#2d316f"/><circle cx="198.3" cy="338.0" r="0.78" fill="#2d316f"/><circle cx="197.5" cy="306.2" r="0.78" fill="#2d316f"/><circle cx="143.4" cy="314.8" r="0.78" fill="#2d316f"/><circle cx="125.3" cy="335.1" r="0.78" fill="#2d316f"/><circle cx="169.7" cy="365.4" r="0.78" fill="#2d316f"/><circle cx="136.2" cy="320.7" r="0.78" fill="#2d316f"/><circle cx="128.9" cy="362.2" r="0.78" fill="#2d316f"/><circle cx="136.2" cy="319.5" r="0.78" fill="#2d316f"/><circle cx="196.2" cy="302.3" r="0.78" fill="#2e3270"/><circle cx="193.7" cy="310.4" r="0.78" fill="#2e3270"/><circle cx="139.8" cy="316.5" r="0.78" fill="#2e3270"/><circle cx="125.8" cy="340.7" r="0.78" fill="#2e3270"/><circle cx="195.6" cy="303.1" r="0.78" fill="#2e3270"/><circle cx="152.0" cy="378.6" r="0.78" fill="#2e3270"/><circle cx="178.9" cy="354.3" r="0.78" fill="#2e3270"/><circle cx="194.4" cy="284.2" r="0.78" fill="#2e3270"/><circle cx="195.0" cy="306.5" r="0.78" fill="#2e3270"/><circle cx="193.5" cy="301.5" r="0.78" fill="#2e3271"/><circle cx="127.5" cy="335.5" r="0.78" fill="#2e3271"/><circle cx="176.7" cy="278.5" r="0.78" fill="#2e3271"/><circle cx="161.7" cy="293.2" r="0.78" fill="#2e3271"/><circle cx="138.8" cy="318.3" r="0.78" fill="#2e3271"/><circle cx="181.7" cy="280.8" r="0.78" fill="#2e3271"/><circle cx="191.7" cy="310.9" r="0.78" fill="#2e3271"/><circle cx="187.0" cy="346.2" r="0.78" fill="#2e3271"/><circle cx="179.9" cy="351.3" r="0.78" fill="#2e3372"/><circle cx="190.3" cy="326.7" r="0.78" fill="#2e3372"/><circle cx="189.6" cy="314.5" r="0.78" fill="#2e3372"/><circle cx="174.4" cy="279.6" r="0.78" fill="#2e3372"/><circle cx="175.2" cy="279.3" r="0.78" fill="#2e3372"/><circle cx="135.6" cy="329.6" r="0.78" fill="#2e3372"/><circle cx="129.0" cy="341.7" r="0.78" fill="#2e3372"/><circle cx="190.2" cy="282.7" r="0.78" fill="#2e3372"/><circle cx="181.0" cy="281.0" r="0.78" fill="#2e3373"/><circle cx="128.4" cy="339.2" r="0.78" fill="#2e3373"/><circle cx="186.8" cy="282.8" r="0.78" fill="#2e3373"/><circle cx="129.1" cy="340.3" r="0.78" fill="#2e3373"/><circle cx="191.1" cy="308.3" r="0.78" fill="#2e3373"/><circle cx="130.6" cy="343.5" r="0.78" fill="#2e3373"/><circle cx="193.5" cy="293.6" r="0.78" fill="#2e3373"/><circle cx="189.7" cy="328.8" r="0.78" fill="#2e3373"/><circle cx="179.8" cy="350.1" r="0.78" fill="#2e3373"/><circle cx="193.3" cy="291.7" r="0.78" fill="#2e3373"/><circle cx="135.2" cy="372.9" r="0.78" fill="#2f3474"/><circle cx="130.0" cy="338.1" r="0.78" fill="#2f3474"/><circle cx="131.6" cy="364.5" r="0.78" fill="#2f3474"/><circle cx="190.6" cy="284.0" r="0.78" fill="#2f3474"/><circle cx="132.1" cy="365.7" r="0.78" fill="#2f3474"/><circle cx="140.1" cy="320.2" r="0.78" fill="#2f3474"/><circle cx="182.9" cy="347.0" r="0.78" fill="#2f3474"/><circle cx="193.0" cy="292.7" r="0.78" fill="#2f3474"/><circle cx="185.8" cy="345.1" r="0.78" fill="#2f3474"/><circle cx="160.5" cy="374.1" r="0.78" fill="#2f3474"/><circle cx="189.5" cy="327.9" r="0.78" fill="#2f3474"/><circle cx="186.7" cy="343.1" r="0.78" fill="#2f3474"/><circle cx="186.6" cy="342.9" r="0.78" fill="#2f3475"/><circle cx="133.2" cy="334.7" r="0.78" fill="#2f3475"/><circle cx="189.5" cy="308.0" r="0.78" fill="#2f3576"/><circle cx="138.2" cy="374.6" r="0.78" fill="#2f3576"/><circle cx="186.7" cy="337.7" r="0.78" fill="#2f3576"/><circle cx="190.4" cy="286.7" r="0.78" fill="#2f3577"/><circle cx="191.1" cy="296.2" r="0.78" fill="#2f3577"/><circle cx="133.5" cy="335.7" r="0.78" fill="#2f3577"/><circle cx="184.4" cy="344.3" r="0.78" fill="#2f3577"/><circle cx="190.1" cy="287.4" r="0.78" fill="#2f3577"/><circle cx="166.9" cy="290.9" r="0.78" fill="#303678"/><circle cx="163.3" cy="294.9" r="0.78" fill="#303678"/><circle cx="140.7" cy="323.0" r="0.78" fill="#303678"/><circle cx="188.0" cy="286.0" r="0.78" fill="#303679"/><circle cx="173.9" cy="357.2" r="0.78" fill="#303679"/><circle cx="188.0" cy="326.5" r="0.78" fill="#303679"/><circle cx="162.4" cy="296.6" r="0.78" fill="#303679"/><circle cx="174.2" cy="283.7" r="0.78" fill="#303679"/><circle cx="169.7" cy="288.9" r="0.78" fill="#30377a"/><circle cx="159.9" cy="373.2" r="0.78" fill="#30377a"/><circle cx="174.6" cy="283.7" r="0.78" fill="#30377a"/><circle cx="160.9" cy="372.4" r="0.78" fill="#30377a"/><circle cx="163.8" cy="295.3" r="0.78" fill="#30377a"/><circle cx="187.4" cy="330.3" r="0.78" fill="#30377a"/><circle cx="132.2" cy="351.0" r="0.78" fill="#30377a"/><circle cx="185.7" cy="336.4" r="0.78" fill="#30377b"/><circle cx="140.4" cy="374.4" r="0.78" fill="#30377b"/><circle cx="148.8" cy="315.2" r="0.78" fill="#30377b"/><circle cx="148.0" cy="316.3" r="0.78" fill="#30377b"/><circle cx="153.8" cy="375.7" r="0.78" fill="#30377b"/><circle cx="188.9" cy="296.6" r="0.78" fill="#31387c"/><circle cx="186.8" cy="311.4" r="0.78" fill="#31387c"/><circle cx="150.8" cy="312.9" r="0.78" fill="#31387c"/><circle cx="183.6" cy="341.1" r="0.78" fill="#31387c"/><circle cx="140.7" cy="325.3" r="0.78" fill="#31387c"/><circle cx="186.9" cy="301.8" r="0.78" fill="#31387c"/><circle cx="178.1" cy="284.1" r="0.78" fill="#31387d"/><circle cx="146.5" cy="318.5" r="0.78" fill="#31387d"/><circle cx="182.9" cy="341.6" r="0.78" fill="#31387d"/><circle cx="185.7" cy="319.0" r="0.78" fill="#31387d"/><circle cx="170.3" cy="289.7" r="0.78" fill="#31387d"/><circle cx="175.5" cy="353.1" r="0.78" fill="#31397e"/><circle cx="184.9" cy="287.2" r="0.78" fill="#31397e"/><circle cx="134.5" cy="339.7" r="0.78" fill="#31397e"/><circle cx="186.4" cy="307.1" r="0.78" fill="#31397e"/><circle cx="176.7" cy="284.8" r="0.78" fill="#31397e"/><circle cx="176.2" cy="285.0" r="0.78" fill="#31397e"/><circle cx="188.6" cy="292.7" r="0.78" fill="#31397e"/><circle cx="188.5" cy="291.7" r="0.78" fill="#31397e"/><circle cx="132.6" cy="358.1" r="0.78" fill="#31397e"/><circle cx="186.7" cy="327.2" r="0.78" fill="#31397e"/><circle cx="135.7" cy="335.7" r="0.78" fill="#31397e"/><circle cx="185.1" cy="317.4" r="0.78" fill="#31397f"/><circle cx="136.4" cy="369.5" r="0.78" fill="#31397f"/><circle cx="159.9" cy="302.8" r="0.78" fill="#31397f"/><circle cx="140.8" cy="373.6" r="0.78" fill="#31397f"/><circle cx="137.9" cy="371.7" r="0.78" fill="#31397f"/><circle cx="184.1" cy="287.5" r="0.78" fill="#31397f"/><circle cx="152.6" cy="312.0" r="0.78" fill="#31397f"/><circle cx="187.7" cy="296.1" r="0.78" fill="#323a80"/><circle cx="171.6" cy="289.4" r="0.78" fill="#323b80"/><circle cx="185.9" cy="308.4" r="0.78" fill="#323b81"/><circle cx="156.7" cy="373.7" r="0.78" fill="#333b81"/><circle cx="167.0" cy="363.2" r="0.78" fill="#333b81"/><circle cx="187.8" cy="295.1" r="0.78" fill="#333b81"/><circle cx="174.3" cy="287.1" r="0.78" fill="#333c82"/><circle cx="175.5" cy="351.9" r="0.78" fill="#333d82"/><circle cx="185.6" cy="306.8" r="0.78" fill="#353f84"/><circle cx="145.0" cy="321.4" r="0.78" fill="#353f84"/><circle cx="171.0" cy="357.8" r="0.78" fill="#364287"/><circle cx="185.4" cy="309.2" r="0.78" fill="#364387"/><circle cx="138.4" cy="371.3" r="0.78" fill="#374387"/><circle cx="133.7" cy="348.7" r="0.78" fill="#374388"/><circle cx="181.5" cy="287.7" r="0.78" fill="#374388"/><circle cx="137.3" cy="369.9" r="0.78" fill="#374488"/><circle cx="184.5" cy="315.3" r="0.78" fill="#374488"/><circle cx="178.7" cy="342.8" r="0.78" fill="#374488"/><circle cx="178.5" cy="343.0" r="0.78" fill="#374489"/><circle cx="150.3" cy="316.3" r="0.78" fill="#39478b"/><circle cx="180.1" cy="287.8" r="0.78" fill="#39488b"/><circle cx="184.4" cy="289.6" r="0.78" fill="#39488b"/><circle cx="184.3" cy="333.5" r="0.78" fill="#3a498d"/><circle cx="184.5" cy="289.9" r="0.78" fill="#3a498d"/><circle cx="176.7" cy="287.9" r="0.78" fill="#3a4a8d"/><circle cx="159.3" cy="371.6" r="0.78" fill="#3b4a8d"/><circle cx="135.2" cy="364.2" r="0.78" fill="#3b4a8e"/><circle cx="152.5" cy="313.6" r="0.78" fill="#3b4b8e"/><circle cx="180.3" cy="340.2" r="0.78" fill="#3c4c8f"/><circle cx="169.7" cy="293.0" r="0.78" fill="#3c4e90"/><circle cx="163.9" cy="366.5" r="0.78" fill="#3d4f91"/><circle cx="184.7" cy="323.1" r="0.78" fill="#3d4f92"/><circle cx="136.7" cy="336.6" r="0.78" fill="#3d4f92"/><circle cx="179.5" cy="288.7" r="0.78" fill="#3d5092"/><circle cx="146.9" cy="320.8" r="0.78" fill="#3e5092"/><circle cx="165.3" cy="297.6" r="0.78" fill="#3e5193"/><circle cx="184.9" cy="329.0" r="0.78" fill="#3f5394"/><circle cx="150.2" cy="374.4" r="0.78" fill="#3f5395"/><circle cx="182.0" cy="337.3" r="0.78" fill="#405596"/><circle cx="170.7" cy="357.1" r="0.78" fill="#405596"/><circle cx="180.3" cy="289.7" r="0.78" fill="#415798"/><circle cx="133.7" cy="354.0" r="0.78" fill="#425799"/><circle cx="155.9" cy="310.7" r="0.78" fill="#43599a"/><circle cx="183.8" cy="311.4" r="0.78" fill="#43599a"/><circle cx="144.9" cy="323.6" r="0.78" fill="#43599a"/><circle cx="174.5" cy="290.6" r="0.78" fill="#435a9a"/><circle cx="183.8" cy="304.4" r="0.78" fill="#445b9b"/><circle cx="183.1" cy="317.5" r="0.78" fill="#445b9c"/><circle cx="184.7" cy="294.6" r="0.78" fill="#445b9c"/><circle cx="183.7" cy="332.5" r="0.78" fill="#445b9c"/><circle cx="152.8" cy="373.7" r="0.78" fill="#455d9d"/><circle cx="144.5" cy="324.2" r="0.78" fill="#455d9d"/><circle cx="137.7" cy="367.9" r="0.78" fill="#455e9e"/><circle cx="160.3" cy="305.3" r="0.78" fill="#465f9f"/><circle cx="171.0" cy="293.3" r="0.78" fill="#465f9f"/><circle cx="180.8" cy="337.8" r="0.78" fill="#465f9f"/><circle cx="179.6" cy="338.9" r="0.78" fill="#4762a1"/><circle cx="183.2" cy="320.6" r="0.78" fill="#4863a2"/><circle cx="183.8" cy="297.4" r="0.78" fill="#4964a3"/><circle cx="150.6" cy="373.7" r="0.78" fill="#4964a3"/><circle cx="167.2" cy="297.2" r="0.78" fill="#4964a3"/><circle cx="183.8" cy="297.7" r="0.78" fill="#4965a4"/><circle cx="162.2" cy="303.0" r="0.78" fill="#4965a4"/><circle cx="183.5" cy="294.5" r="0.78" fill="#4a66a5"/><circle cx="182.1" cy="292.6" r="0.78" fill="#4a67a6"/><circle cx="174.1" cy="350.3" r="0.78" fill="#4a67a6"/><circle cx="174.7" cy="291.9" r="0.78" fill="#4a67a6"/><circle cx="155.6" cy="312.0" r="0.78" fill="#4b68a6"/><circle cx="172.7" cy="353.2" r="0.78" fill="#4b69a7"/><circle cx="183.4" cy="295.8" r="0.78" fill="#4c6aa8"/><circle cx="163.6" cy="365.3" r="0.78" fill="#4c6aa8"/><circle cx="164.9" cy="300.2" r="0.78" fill="#4e6eab"/><circle cx="169.5" cy="295.9" r="0.78" fill="#4e6eac"/><circle cx="182.7" cy="295.2" r="0.78" fill="#4e6fac"/><circle cx="181.7" cy="293.6" r="0.78" fill="#4f6fac"/><circle cx="174.7" cy="292.6" r="0.78" fill="#4f6fad"/><circle cx="171.5" cy="294.3" r="0.78" fill="#4f70ad"/><circle cx="182.3" cy="319.4" r="0.78" fill="#4f70ad"/><circle cx="134.7" cy="351.1" r="0.78" fill="#5071ae"/><circle cx="182.7" cy="299.1" r="0.78" fill="#5071ae"/><circle cx="165.1" cy="362.6" r="0.78" fill="#5173b0"/><circle cx="174.2" cy="348.3" r="0.78" fill="#5173b0"/><circle cx="170.5" cy="295.4" r="0.78" fill="#5174b0"/><circle cx="182.4" cy="296.6" r="0.78" fill="#5174b1"/><circle cx="161.7" cy="367.2" r="0.78" fill="#5275b1"/><circle cx="176.9" cy="292.9" r="0.78" fill="#5276b2"/><circle cx="150.7" cy="319.2" r="0.78" fill="#5376b2"/><circle cx="181.7" cy="333.9" r="0.78" fill="#5378b4"/><circle cx="159.7" cy="308.0" r="0.78" fill="#5478b4"/><circle cx="141.6" cy="370.5" r="0.78" fill="#5479b5"/><circle cx="140.3" cy="332.2" r="0.78" fill="#547ab5"/><circle cx="148.9" cy="372.8" r="0.78" fill="#557ab6"/><circle cx="154.6" cy="314.5" r="0.78" fill="#557ab6"/><circle cx="141.4" cy="330.4" r="0.78" fill="#557bb6"/><circle cx="182.7" cy="323.9" r="0.78" fill="#567db8"/><circle cx="143.0" cy="371.1" r="0.78" fill="#567db8"/><circle cx="171.1" cy="354.2" r="0.78" fill="#567db8"/><circle cx="182.9" cy="329.2" r="0.78" fill="#577eb9"/><circle cx="134.9" cy="356.2" r="0.78" fill="#577fb9"/><circle cx="181.9" cy="311.2" r="0.78" fill="#5880bb"/><circle cx="181.5" cy="298.2" r="0.78" fill="#5982bc"/><circle cx="135.1" cy="356.7" r="0.78" fill="#5983bd"/><circle cx="150.1" cy="320.6" r="0.78" fill="#5a84be"/><circle cx="138.1" cy="365.5" r="0.78" fill="#5a84be"/><circle cx="173.2" cy="295.1" r="0.78" fill="#5b85bf"/><circle cx="149.8" cy="372.4" r="0.78" fill="#5b86c0"/><circle cx="180.8" cy="334.0" r="0.78" fill="#5c87c0"/><circle cx="154.6" cy="315.4" r="0.78" fill="#5c89c2"/><circle cx="179.2" cy="295.7" r="0.78" fill="#5d8ac3"/><circle cx="161.4" cy="366.6" r="0.78" fill="#5e8bc4"/><circle cx="156.4" cy="313.4" r="0.78" fill="#5e8bc4"/><circle cx="135.5" cy="357.9" r="0.78" fill="#5e8cc4"/><circle cx="155.9" cy="314.0" r="0.78" fill="#5f8dc5"/><circle cx="161.5" cy="306.9" r="0.78" fill="#5f8ec6"/><circle cx="139.2" cy="366.7" r="0.78" fill="#608ec7"/><circle cx="174.6" cy="343.6" r="0.78" fill="#608fc7"/><circle cx="159.2" cy="368.5" r="0.78" fill="#6090c8"/><circle cx="179.0" cy="296.3" r="0.78" fill="#6090c8"/><circle cx="146.5" cy="371.5" r="0.78" fill="#6190c8"/><circle cx="171.8" cy="351.8" r="0.78" fill="#6192c9"/><circle cx="135.4" cy="354.9" r="0.78" fill="#6292ca"/><circle cx="143.8" cy="370.5" r="0.78" fill="#6395cc"/><circle cx="180.4" cy="299.7" r="0.78" fill="#6496cd"/><circle cx="181.4" cy="322.9" r="0.78" fill="#6496cd"/><circle cx="182.0" cy="327.8" r="0.78" fill="#6496cd"/><circle cx="173.7" cy="345.9" r="0.78" fill="#6496cd"/><circle cx="144.4" cy="370.6" r="0.78" fill="#6496cd"/><circle cx="177.0" cy="296.2" r="0.78" fill="#6497cd"/><circle cx="175.5" cy="296.1" r="0.78" fill="#6597cd"/><circle cx="142.6" cy="369.6" r="0.78" fill="#6597cd"/><circle cx="168.3" cy="299.8" r="0.78" fill="#6597ce"/><circle cx="180.4" cy="312.4" r="0.78" fill="#6598ce"/><circle cx="143.2" cy="369.9" r="0.78" fill="#6598ce"/><circle cx="170.8" cy="352.8" r="0.78" fill="#6699ce"/><circle cx="159.2" cy="311.1" r="0.78" fill="#6799cf"/><circle cx="180.1" cy="312.8" r="0.78" fill="#679acf"/><circle cx="178.2" cy="335.9" r="0.78" fill="#689acf"/><circle cx="166.0" cy="302.5" r="0.78" fill="#689bcf"/><circle cx="150.6" cy="371.4" r="0.78" fill="#699bcf"/><circle cx="179.7" cy="300.4" r="0.78" fill="#699bcf"/><circle cx="180.5" cy="304.7" r="0.78" fill="#699bcf"/><circle cx="180.6" cy="309.1" r="0.78" fill="#699bcf"/><circle cx="141.5" cy="332.4" r="0.78" fill="#699cd0"/><circle cx="135.9" cy="352.9" r="0.78" fill="#699cd0"/><circle cx="175.9" cy="297.2" r="0.78" fill="#6a9dd0"/><circle cx="145.0" cy="327.5" r="0.78" fill="#6a9dd0"/><circle cx="166.9" cy="301.9" r="0.78" fill="#6a9dd0"/><circle cx="181.2" cy="325.8" r="0.78" fill="#6a9dd0"/><circle cx="158.6" cy="368.1" r="0.78" fill="#6b9dd1"/><circle cx="179.4" cy="313.4" r="0.78" fill="#6b9ed1"/><circle cx="179.1" cy="316.4" r="0.78" fill="#6b9ed1"/><circle cx="180.3" cy="308.8" r="0.78" fill="#6c9fd1"/><circle cx="164.6" cy="304.8" r="0.78" fill="#6c9fd1"/><circle cx="180.3" cy="307.9" r="0.78" fill="#6c9fd1"/><circle cx="138.9" cy="338.5" r="0.78" fill="#6c9fd1"/><circle cx="174.2" cy="297.8" r="0.78" fill="#6c9fd1"/><circle cx="159.3" cy="311.9" r="0.78" fill="#6c9fd1"/><circle cx="179.1" cy="333.7" r="0.78" fill="#6c9fd2"/><circle cx="173.3" cy="298.1" r="0.78" fill="#6da0d2"/><circle cx="150.8" cy="370.9" r="0.78" fill="#6da0d2"/><circle cx="162.5" cy="307.9" r="0.78" fill="#6da0d2"/><circle cx="137.1" cy="359.9" r="0.78" fill="#6ea1d2"/><circle cx="152.9" cy="370.5" r="0.78" fill="#6ea1d3"/><circle cx="159.7" cy="366.7" r="0.78" fill="#6ea2d3"/><circle cx="139.9" cy="336.2" r="0.78" fill="#6fa2d3"/><circle cx="180.4" cy="323.6" r="0.78" fill="#6fa2d3"/><circle cx="164.3" cy="305.7" r="0.78" fill="#6fa2d3"/><circle cx="144.4" cy="328.8" r="0.78" fill="#6fa3d3"/><circle cx="171.1" cy="299.6" r="0.78" fill="#6fa3d3"/><circle cx="153.3" cy="370.3" r="0.78" fill="#70a3d3"/><circle cx="159.6" cy="312.1" r="0.78" fill="#70a3d4"/><circle cx="179.3" cy="320.9" r="0.78" fill="#71a4d4"/><circle cx="158.2" cy="314.0" r="0.78" fill="#71a5d4"/><circle cx="138.9" cy="339.8" r="0.78" fill="#71a5d5"/><circle cx="178.3" cy="317.2" r="0.78" fill="#72a5d5"/><circle cx="139.5" cy="338.0" r="0.78" fill="#72a6d5"/><circle cx="149.5" cy="370.5" r="0.78" fill="#72a6d5"/><circle cx="179.5" cy="308.6" r="0.78" fill="#72a6d5"/><circle cx="180.5" cy="326.8" r="0.78" fill="#72a6d5"/><circle cx="161.3" cy="364.6" r="0.78" fill="#72a6d5"/><circle cx="176.2" cy="299.2" r="0.78" fill="#72a6d5"/><circle cx="163.7" cy="307.2" r="0.78" fill="#72a6d5"/><circle cx="170.6" cy="351.2" r="0.78" fill="#72a6d5"/><circle cx="175.6" cy="299.1" r="0.78" fill="#73a7d5"/><circle cx="177.2" cy="335.4" r="0.78" fill="#73a7d5"/><circle cx="157.6" cy="368.0" r="0.78" fill="#73a7d6"/><circle cx="177.8" cy="300.8" r="0.78" fill="#74a8d6"/><circle cx="172.1" cy="346.9" r="0.78" fill="#75a9d7"/><circle cx="175.9" cy="299.7" r="0.78" fill="#75a9d7"/><circle cx="169.2" cy="301.8" r="0.78" fill="#75aad7"/><circle cx="141.1" cy="334.9" r="0.78" fill="#76aad7"/><circle cx="159.7" cy="312.9" r="0.78" fill="#76aad7"/><circle cx="141.3" cy="334.5" r="0.78" fill="#76aad7"/><circle cx="179.9" cy="328.8" r="0.78" fill="#76abd7"/><circle cx="179.8" cy="329.0" r="0.78" fill="#77abd8"/><circle cx="178.6" cy="304.1" r="0.78" fill="#77abd8"/><circle cx="145.9" cy="327.8" r="0.78" fill="#77acd8"/><circle cx="179.9" cy="328.0" r="0.78" fill="#77acd8"/><circle cx="163.8" cy="308.2" r="0.78" fill="#77acd8"/><circle cx="171.9" cy="347.1" r="0.78" fill="#78acd8"/><circle cx="136.7" cy="354.7" r="0.78" fill="#78acd8"/><circle cx="162.7" cy="309.8" r="0.78" fill="#78add8"/><circle cx="167.5" cy="303.8" r="0.78" fill="#78add8"/><circle cx="169.3" cy="302.3" r="0.78" fill="#78add8"/><circle cx="165.6" cy="357.8" r="0.78" fill="#79add9"/><circle cx="178.3" cy="310.9" r="0.78" fill="#79aed9"/><circle cx="177.9" cy="319.6" r="0.78" fill="#79aed9"/><circle cx="170.4" cy="350.5" r="0.78" fill="#79aed9"/><circle cx="142.2" cy="333.2" r="0.78" fill="#7aaed9"/><circle cx="176.9" cy="334.6" r="0.78" fill="#7aafd9"/><circle cx="161.5" cy="311.6" r="0.78" fill="#7aafda"/><circle cx="146.3" cy="327.6" r="0.78" fill="#7aafda"/><circle cx="174.3" cy="338.8" r="0.78" fill="#7bb0da"/><circle cx="179.5" cy="326.5" r="0.78" fill="#7bb0da"/><circle cx="163.8" cy="309.1" r="0.78" fill="#7bb0da"/><circle cx="160.8" cy="312.6" r="0.78" fill="#7cb1da"/><circle cx="167.0" cy="305.0" r="0.78" fill="#7cb1da"/><circle cx="174.1" cy="339.1" r="0.78" fill="#7cb1db"/><circle cx="166.6" cy="305.6" r="0.78" fill="#7cb1db"/><circle cx="177.1" cy="313.5" r="0.78" fill="#7cb2db"/><circle cx="162.2" cy="362.3" r="0.78" fill="#7db2db"/><circle cx="152.7" cy="321.5" r="0.78" fill="#7db2db"/><circle cx="177.5" cy="303.4" r="0.78" fill="#7db2db"/><circle cx="141.5" cy="365.7" r="0.78" fill="#7db2db"/><circle cx="163.7" cy="309.5" r="0.78" fill="#7db2db"/><circle cx="143.5" cy="367.5" r="0.78" fill="#7db2db"/><circle cx="155.4" cy="318.6" r="0.78" fill="#7db2db"/><circle cx="179.2" cy="327.5" r="0.78" fill="#7eb3dc"/><circle cx="178.1" cy="306.5" r="0.78" fill="#7eb3dc"/><circle cx="177.6" cy="304.4" r="0.78" fill="#7eb4dc"/><circle cx="173.0" cy="301.5" r="0.78" fill="#7fb4dc"/><circle cx="138.2" cy="345.7" r="0.78" fill="#7fb4dc"/><circle cx="144.7" cy="330.1" r="0.78" fill="#7fb5dc"/><circle cx="158.7" cy="365.9" r="0.78" fill="#80b6dd"/><circle cx="177.7" cy="309.3" r="0.78" fill="#80b6dd"/><circle cx="176.1" cy="302.5" r="0.78" fill="#81b6dd"/><circle cx="174.0" cy="301.7" r="0.78" fill="#81b6dd"/><circle cx="176.8" cy="303.5" r="0.78" fill="#81b7dd"/><circle cx="175.5" cy="302.1" r="0.78" fill="#81b7dd"/><circle cx="177.7" cy="322.0" r="0.78" fill="#81b7de"/><circle cx="176.7" cy="333.5" r="0.78" fill="#82b8de"/><circle cx="170.2" cy="303.5" r="0.78" fill="#83b9de"/><circle cx="147.2" cy="327.4" r="0.78" fill="#83b9df"/><circle cx="171.9" cy="344.2" r="0.78" fill="#83b9df"/><circle cx="176.3" cy="313.0" r="0.78" fill="#83b9df"/><circle cx="138.6" cy="360.2" r="0.78" fill="#83b9df"/><circle cx="137.9" cy="348.2" r="0.78" fill="#83b9df"/><circle cx="141.2" cy="364.5" r="0.78" fill="#84badf"/><circle cx="166.9" cy="354.8" r="0.78" fill="#84bbdf"/><circle cx="175.9" cy="303.4" r="0.78" fill="#84bbdf"/><circle cx="170.4" cy="303.8" r="0.78" fill="#85bbe0"/><circle cx="154.6" cy="320.2" r="0.78" fill="#85bbe0"/><circle cx="166.8" cy="307.5" r="0.78" fill="#86bce0"/><circle cx="164.7" cy="310.1" r="0.78" fill="#86bce0"/><circle cx="169.2" cy="304.9" r="0.78" fill="#86bce0"/><circle cx="165.9" cy="308.8" r="0.78" fill="#86bce0"/><circle cx="169.1" cy="351.2" r="0.78" fill="#86bce0"/><circle cx="143.9" cy="331.9" r="0.78" fill="#86bde0"/><circle cx="177.0" cy="307.9" r="0.78" fill="#86bde0"/><circle cx="175.4" cy="315.2" r="0.78" fill="#87bde1"/><circle cx="169.4" cy="305.0" r="0.78" fill="#87bde1"/><circle cx="176.9" cy="307.8" r="0.78" fill="#87bde1"/><circle cx="167.2" cy="354.0" r="0.78" fill="#87bde1"/><circle cx="168.4" cy="306.2" r="0.78" fill="#88bfe2"/><circle cx="175.2" cy="315.4" r="0.78" fill="#88bfe2"/><circle cx="153.2" cy="368.3" r="0.78" fill="#89c0e2"/><circle cx="177.9" cy="328.5" r="0.78" fill="#8ac1e2"/><circle cx="176.5" cy="332.3" r="0.78" fill="#8ac1e3"/><circle cx="165.3" cy="310.6" r="0.78" fill="#8bc2e3"/><circle cx="171.3" cy="304.5" r="0.78" fill="#8bc2e3"/><circle cx="177.7" cy="328.8" r="0.78" fill="#8bc2e3"/><circle cx="175.6" cy="305.2" r="0.78" fill="#8bc2e3"/><circle cx="174.0" cy="336.9" r="0.78" fill="#8bc2e3"/><circle cx="176.2" cy="307.4" r="0.78" fill="#8bc2e3"/><circle cx="175.6" cy="310.3" r="0.78" fill="#8cc3e3"/><circle cx="174.2" cy="304.3" r="0.78" fill="#8cc3e3"/><circle cx="176.5" cy="322.3" r="0.78" fill="#8cc3e3"/><circle cx="175.5" cy="305.6" r="0.78" fill="#8dc3e3"/><circle cx="173.9" cy="336.7" r="0.78" fill="#8dc3e3"/><circle cx="175.6" cy="320.2" r="0.78" fill="#8dc3e3"/><circle cx="176.4" cy="322.1" r="0.78" fill="#8dc3e3"/><circle cx="138.8" cy="345.7" r="0.78" fill="#8dc3e3"/><circle cx="175.7" cy="309.5" r="0.78" fill="#8dc3e3"/><circle cx="175.2" cy="305.4" r="0.78" fill="#8dc4e2"/><circle cx="152.5" cy="323.0" r="0.78" fill="#8ec4e2"/><circle cx="176.4" cy="322.3" r="0.78" fill="#8ec4e2"/><circle cx="170.6" cy="346.4" r="0.78" fill="#8ec4e2"/><circle cx="145.5" cy="367.1" r="0.78" fill="#8ec4e2"/><circle cx="174.5" cy="312.9" r="0.78" fill="#8ec4e2"/><circle cx="174.8" cy="305.4" r="0.78" fill="#8ec4e2"/><circle cx="170.3" cy="306.1" r="0.78" fill="#8ec4e2"/><circle cx="176.8" cy="323.5" r="0.78" fill="#8ec4e1"/><circle cx="138.2" cy="356.7" r="0.78" fill="#8fc5e1"/><circle cx="174.7" cy="311.6" r="0.78" fill="#8fc5e1"/><circle cx="175.2" cy="319.9" r="0.78" fill="#8fc5e1"/><circle cx="175.3" cy="308.5" r="0.78" fill="#8fc5e1"/><circle cx="175.0" cy="319.6" r="0.78" fill="#90c5e1"/><circle cx="171.0" cy="306.0" r="0.78" fill="#90c5e0"/><circle cx="146.5" cy="367.3" r="0.78" fill="#90c6e0"/><circle cx="152.9" cy="322.9" r="0.78" fill="#90c6e0"/><circle cx="138.5" cy="357.1" r="0.78" fill="#91c6e0"/><circle cx="166.5" cy="311.0" r="0.78" fill="#91c7df"/><circle cx="167.5" cy="310.3" r="0.78" fill="#92c7df"/><circle cx="177.1" cy="328.2" r="0.78" fill="#92c7df"/><circle cx="161.0" cy="315.4" r="0.78" fill="#92c7df"/><circle cx="170.6" cy="307.0" r="0.78" fill="#92c7df"/><circle cx="174.5" cy="307.4" r="0.78" fill="#92c7df"/><circle cx="142.6" cy="364.6" r="0.78" fill="#93c7df"/><circle cx="176.9" cy="325.8" r="0.78" fill="#93c7de"/><circle cx="163.8" cy="358.0" r="0.78" fill="#93c7de"/><circle cx="174.3" cy="309.6" r="0.78" fill="#93c8de"/><circle cx="159.0" cy="364.1" r="0.78" fill="#93c8de"/><circle cx="164.7" cy="356.6" r="0.78" fill="#94c8de"/><circle cx="139.1" cy="358.8" r="0.78" fill="#94c8de"/><circle cx="165.4" cy="355.5" r="0.78" fill="#94c8de"/><circle cx="171.5" cy="307.1" r="0.78" fill="#94c8de"/><circle cx="176.1" cy="323.7" r="0.78" fill="#94c9dd"/><circle cx="173.4" cy="307.4" r="0.78" fill="#95c9dd"/><circle cx="175.8" cy="331.8" r="0.78" fill="#95c9dd"/><circle cx="155.5" cy="366.5" r="0.78" fill="#95c9dd"/><circle cx="160.2" cy="316.3" r="0.78" fill="#95c9dd"/><circle cx="172.2" cy="307.7" r="0.78" fill="#96c9dc"/><circle cx="146.1" cy="366.7" r="0.78" fill="#97cadc"/><circle cx="170.8" cy="309.0" r="0.78" fill="#97cadc"/><circle cx="175.9" cy="330.9" r="0.78" fill="#97cadc"/><circle cx="172.8" cy="315.1" r="0.78" fill="#97cadc"/><circle cx="170.5" cy="309.6" r="0.78" fill="#97cadb"/><circle cx="175.5" cy="331.8" r="0.78" fill="#97cbdb"/><circle cx="172.4" cy="311.1" r="0.78" fill="#98cbdb"/><circle cx="171.8" cy="309.5" r="0.78" fill="#98cbdb"/><circle cx="172.5" cy="314.0" r="0.78" fill="#98cbdb"/><circle cx="172.7" cy="315.4" r="0.78" fill="#98cbdb"/><circle cx="169.4" cy="311.1" r="0.78" fill="#99cbda"/><circle cx="155.2" cy="366.4" r="0.78" fill="#99cbda"/><circle cx="154.4" cy="366.8" r="0.78" fill="#99cbda"/><circle cx="176.3" cy="329.0" r="0.78" fill="#99cbda"/><circle cx="171.5" cy="311.2" r="0.78" fill="#99ccda"/><circle cx="173.6" cy="319.0" r="0.78" fill="#9accda"/><circle cx="175.4" cy="323.3" r="0.78" fill="#9accda"/><circle cx="170.7" cy="311.3" r="0.78" fill="#9accda"/><circle cx="162.5" cy="359.1" r="0.78" fill="#9accd9"/><circle cx="146.4" cy="366.5" r="0.78" fill="#9bcdd9"/><circle cx="140.0" cy="343.3" r="0.78" fill="#9bcdd9"/><circle cx="174.9" cy="332.2" r="0.78" fill="#9cced8"/><circle cx="171.3" cy="313.9" r="0.78" fill="#9cced8"/><circle cx="175.8" cy="325.7" r="0.78" fill="#9cced8"/><circle cx="146.5" cy="366.4" r="0.78" fill="#9cced8"/><circle cx="139.8" cy="359.3" r="0.78" fill="#9cced8"/><circle cx="170.1" cy="312.8" r="0.78" fill="#9cced8"/><circle cx="148.5" cy="367.1" r="0.78" fill="#9dced8"/><circle cx="142.2" cy="363.2" r="0.78" fill="#9dced7"/><circle cx="167.9" cy="350.5" r="0.78" fill="#9dced7"/><circle cx="143.6" cy="334.5" r="0.78" fill="#9dced7"/><circle cx="170.5" cy="313.7" r="0.78" fill="#9ecfd7"/><circle cx="168.9" cy="348.4" r="0.78" fill="#9ecfd7"/><circle cx="169.8" cy="346.1" r="0.78" fill="#9ecfd7"/><circle cx="166.8" cy="313.5" r="0.78" fill="#9ecfd7"/><circle cx="173.7" cy="320.8" r="0.78" fill="#9fcfd6"/><circle cx="168.9" cy="313.3" r="0.78" fill="#9fcfd6"/><circle cx="163.8" cy="314.9" r="0.78" fill="#9fcfd6"/><circle cx="164.0" cy="314.8" r="0.78" fill="#9fcfd6"/><circle cx="164.3" cy="356.1" r="0.78" fill="#9fd0d6"/><circle cx="147.3" cy="329.5" r="0.78" fill="#9fd0d6"/><circle cx="150.1" cy="367.1" r="0.78" fill="#9fd0d6"/><circle cx="175.6" cy="328.2" r="0.78" fill="#a1d1d5"/><circle cx="171.4" cy="316.5" r="0.78" fill="#a1d1d4"/><circle cx="142.5" cy="363.0" r="0.78" fill="#a2d2d4"/><circle cx="163.9" cy="356.4" r="0.78" fill="#a2d2d4"/><circle cx="139.1" cy="349.7" r="0.78" fill="#a2d2d4"/><circle cx="152.3" cy="366.7" r="0.78" fill="#a4d3d3"/><circle cx="175.1" cy="325.9" r="0.78" fill="#a4d3d3"/><circle cx="156.8" cy="320.6" r="0.78" fill="#a4d3d3"/><circle cx="140.2" cy="343.8" r="0.78" fill="#a4d3d2"/><circle cx="173.0" cy="335.2" r="0.78" fill="#a4d3d2"/><circle cx="139.0" cy="351.6" r="0.78" fill="#a4d3d2"/><circle cx="143.6" cy="363.9" r="0.78" fill="#a4d3d2"/><circle cx="170.0" cy="315.7" r="0.78" fill="#a5d4d1"/><circle cx="139.4" cy="348.2" r="0.78" fill="#a5d4d1"/><circle cx="174.7" cy="325.4" r="0.78" fill="#a6d4d1"/><circle cx="173.7" cy="322.7" r="0.78" fill="#a6d4d1"/><circle cx="157.8" cy="363.8" r="0.78" fill="#a7d5d0"/><circle cx="168.5" cy="315.2" r="0.78" fill="#a7d5d0"/><circle cx="141.2" cy="340.8" r="0.78" fill="#a7d5d0"/><circle cx="157.3" cy="320.5" r="0.78" fill="#a7d5d0"/><circle cx="146.7" cy="365.7" r="0.78" fill="#a8d6d0"/><circle cx="174.6" cy="329.3" r="0.78" fill="#a9d6cf"/><circle cx="163.7" cy="316.2" r="0.78" fill="#aad7ce"/><circle cx="172.1" cy="320.2" r="0.78" fill="#aad7ce"/><circle cx="169.6" cy="316.6" r="0.78" fill="#abd7ce"/><circle cx="173.6" cy="332.3" r="0.78" fill="#abd8cd"/><circle cx="151.2" cy="366.3" r="0.78" fill="#acd8cd"/><circle cx="162.5" cy="357.7" r="0.78" fill="#acd8cd"/><circle cx="163.0" cy="316.8" r="0.78" fill="#acd9cc"/><circle cx="149.1" cy="328.4" r="0.78" fill="#acd9cc"/><circle cx="165.1" cy="353.6" r="0.78" fill="#add9cc"/><circle cx="174.3" cy="328.0" r="0.78" fill="#aed9cc"/><circle cx="167.9" cy="316.3" r="0.78" fill="#aedacc"/><circle cx="149.7" cy="327.9" r="0.78" fill="#aedacb"/><circle cx="174.0" cy="330.3" r="0.78" fill="#aedacb"/><circle cx="165.3" cy="316.3" r="0.78" fill="#aedacb"/><circle cx="140.4" cy="358.5" r="0.78" fill="#aedacb"/><circle cx="139.9" cy="347.4" r="0.78" fill="#afdacb"/><circle cx="171.5" cy="320.3" r="0.78" fill="#afdbcb"/><circle cx="157.6" cy="320.9" r="0.78" fill="#b0dbca"/><circle cx="148.9" cy="328.9" r="0.78" fill="#b0dbca"/><circle cx="165.8" cy="316.4" r="0.78" fill="#b0dbca"/><circle cx="143.9" cy="335.7" r="0.78" fill="#b1dcc9"/><circle cx="146.7" cy="365.0" r="0.78" fill="#b1dcc9"/><circle cx="173.8" cy="329.3" r="0.78" fill="#b2ddc8"/><circle cx="171.3" cy="337.2" r="0.78" fill="#b3ddc8"/><circle cx="150.1" cy="365.8" r="0.78" fill="#b3ddc8"/><circle cx="158.0" cy="362.7" r="0.78" fill="#b4dec7"/><circle cx="173.4" cy="330.9" r="0.78" fill="#b4dec7"/><circle cx="165.0" cy="317.0" r="0.78" fill="#b4dec6"/><circle cx="161.6" cy="318.2" r="0.78" fill="#b4dec6"/><circle cx="171.1" cy="320.8" r="0.78" fill="#b4dec6"/><circle cx="139.7" cy="352.0" r="0.78" fill="#b4dec6"/><circle cx="170.4" cy="319.8" r="0.78" fill="#b5dec5"/><circle cx="169.0" cy="318.0" r="0.78" fill="#b5dec5"/><circle cx="170.5" cy="339.8" r="0.78" fill="#b5dec5"/><circle cx="143.6" cy="336.6" r="0.78" fill="#b5dec5"/><circle cx="167.8" cy="348.1" r="0.78" fill="#b5dec4"/><circle cx="169.9" cy="342.1" r="0.78" fill="#b6dec3"/><circle cx="152.8" cy="365.5" r="0.78" fill="#b6dec2"/><circle cx="173.4" cy="327.8" r="0.78" fill="#b7dec2"/><circle cx="155.9" cy="322.9" r="0.78" fill="#b7dec1"/><circle cx="167.8" cy="348.0" r="0.78" fill="#b7dec1"/><circle cx="140.8" cy="358.4" r="0.78" fill="#b7dec1"/><circle cx="142.5" cy="339.1" r="0.78" fill="#b7dec0"/><circle cx="141.0" cy="358.7" r="0.78" fill="#b7dec0"/><circle cx="139.8" cy="352.1" r="0.78" fill="#b8dec0"/><circle cx="173.3" cy="328.8" r="0.78" fill="#b8dfbf"/><circle cx="167.4" cy="317.6" r="0.78" fill="#b8dfbf"/><circle cx="144.6" cy="363.2" r="0.78" fill="#b9dfbe"/><circle cx="172.6" cy="324.9" r="0.78" fill="#b9dfbe"/><circle cx="169.4" cy="319.1" r="0.78" fill="#b9dfbe"/><circle cx="168.9" cy="318.6" r="0.78" fill="#b9dfbe"/><circle cx="168.5" cy="318.3" r="0.78" fill="#b9dfbd"/><circle cx="169.6" cy="342.7" r="0.78" fill="#b9dfbd"/><circle cx="162.7" cy="318.2" r="0.78" fill="#b9dfbc"/><circle cx="168.1" cy="347.0" r="0.78" fill="#badfbc"/><circle cx="156.8" cy="322.3" r="0.78" fill="#badfbc"/><circle cx="167.8" cy="318.1" r="0.78" fill="#badfbb"/><circle cx="143.7" cy="336.9" r="0.78" fill="#badfba"/><circle cx="159.7" cy="360.4" r="0.78" fill="#bbdfba"/><circle cx="164.4" cy="353.5" r="0.78" fill="#bbdfb9"/><circle cx="157.2" cy="322.0" r="0.78" fill="#bbdfb9"/><circle cx="164.9" cy="317.7" r="0.78" fill="#bbdfb9"/><circle cx="141.3" cy="359.0" r="0.78" fill="#bcdfb8"/><circle cx="166.2" cy="350.5" r="0.78" fill="#bce0b7"/><circle cx="164.0" cy="318.0" r="0.78" fill="#bde0b6"/><circle cx="171.0" cy="322.4" r="0.78" fill="#bee0b4"/><circle cx="165.6" cy="351.4" r="0.78" fill="#bee0b4"/><circle cx="164.5" cy="318.2" r="0.78" fill="#c0e0b1"/><circle cx="157.3" cy="362.5" r="0.78" fill="#c0e0b0"/><circle cx="167.8" cy="346.9" r="0.78" fill="#c1e1ae"/><circle cx="158.1" cy="321.7" r="0.78" fill="#c1e1ae"/><circle cx="172.5" cy="330.2" r="0.78" fill="#c1e1ad"/><circle cx="170.5" cy="337.6" r="0.78" fill="#c1e1ad"/><circle cx="160.3" cy="359.1" r="0.78" fill="#c1e1ad"/><circle cx="141.0" cy="345.3" r="0.78" fill="#c1e1ad"/><circle cx="144.4" cy="362.5" r="0.78" fill="#c2e1ac"/><circle cx="155.8" cy="363.5" r="0.78" fill="#c2e1ac"/><circle cx="151.6" cy="365.0" r="0.78" fill="#c2e1ab"/><circle cx="141.9" cy="359.3" r="0.78" fill="#c2e1ab"/><circle cx="168.8" cy="320.1" r="0.78" fill="#c3e1aa"/><circle cx="168.2" cy="319.6" r="0.78" fill="#c3e1aa"/><circle cx="168.9" cy="343.4" r="0.78" fill="#c3e1aa"/><circle cx="170.8" cy="336.2" r="0.78" fill="#c3e1aa"/><circle cx="161.4" cy="357.5" r="0.78" fill="#c3e1a9"/><circle cx="161.2" cy="319.7" r="0.78" fill="#c4e1a9"/><circle cx="149.3" cy="364.7" r="0.78" fill="#c5e2a7"/><circle cx="153.2" cy="364.6" r="0.78" fill="#c5e2a7"/><circle cx="140.8" cy="347.3" r="0.78" fill="#c5e2a7"/><circle cx="141.4" cy="358.1" r="0.78" fill="#c5e2a6"/><circle cx="170.0" cy="322.1" r="0.78" fill="#c5e2a6"/><circle cx="153.3" cy="326.0" r="0.78" fill="#c6e2a4"/><circle cx="164.8" cy="318.8" r="0.78" fill="#c6e2a4"/><circle cx="168.7" cy="320.7" r="0.78" fill="#c7e2a1"/><circle cx="150.0" cy="364.7" r="0.78" fill="#c8e2a1"/><circle cx="170.5" cy="323.6" r="0.78" fill="#c8e2a0"/><circle cx="144.8" cy="336.0" r="0.78" fill="#c9e39f"/><circle cx="154.6" cy="363.8" r="0.78" fill="#c9e39e"/><circle cx="142.0" cy="358.8" r="0.78" fill="#c9e39e"/><circle cx="169.7" cy="339.4" r="0.78" fill="#cae39d"/><circle cx="142.6" cy="359.8" r="0.78" fill="#cae39d"/><circle cx="150.0" cy="329.3" r="0.78" fill="#cbe39b"/><circle cx="156.0" cy="362.9" r="0.78" fill="#cbe39a"/><circle cx="144.0" cy="361.4" r="0.78" fill="#cce399"/><circle cx="142.0" cy="358.5" r="0.78" fill="#cde497"/><circle cx="161.9" cy="320.1" r="0.78" fill="#cde496"/><circle cx="141.8" cy="358.1" r="0.78" fill="#cee496"/><circle cx="160.3" cy="321.0" r="0.78" fill="#cee496"/><circle cx="140.7" cy="352.7" r="0.78" fill="#cee495"/><circle cx="161.7" cy="356.3" r="0.78" fill="#d0e492"/><circle cx="161.1" cy="320.7" r="0.78" fill="#d0e491"/><circle cx="147.8" cy="332.1" r="0.78" fill="#d0e491"/><circle cx="141.2" cy="347.0" r="0.78" fill="#d0e490"/><circle cx="169.5" cy="323.3" r="0.78" fill="#d1e58f"/><circle cx="169.4" cy="339.5" r="0.78" fill="#d1e58f"/><circle cx="171.2" cy="327.8" r="0.78" fill="#d1e58f"/><circle cx="140.9" cy="349.9" r="0.78" fill="#d2e58e"/><circle cx="141.2" cy="355.6" r="0.78" fill="#d2e58e"/><circle cx="142.8" cy="340.9" r="0.78" fill="#d2e58d"/><circle cx="143.3" cy="360.1" r="0.78" fill="#d2e58d"/><circle cx="169.0" cy="322.7" r="0.78" fill="#d3e58c"/><circle cx="149.4" cy="330.3" r="0.78" fill="#d3e58c"/><circle cx="158.3" cy="322.8" r="0.78" fill="#d3e58c"/><circle cx="169.6" cy="338.3" r="0.78" fill="#d3e58b"/><circle cx="150.4" cy="364.1" r="0.78" fill="#d4e58a"/><circle cx="150.1" cy="364.0" r="0.78" fill="#d4e589"/><circle cx="153.6" cy="326.6" r="0.78" fill="#d4e589"/><circle cx="155.2" cy="325.3" r="0.78" fill="#d4e589"/><circle cx="167.2" cy="321.0" r="0.78" fill="#d4e589"/><circle cx="170.2" cy="325.4" r="0.78" fill="#d5e589"/><circle cx="165.6" cy="320.4" r="0.78" fill="#d6e686"/><circle cx="152.8" cy="363.8" r="0.78" fill="#d6e685"/><circle cx="161.5" cy="321.0" r="0.78" fill="#d6e685"/><circle cx="168.3" cy="342.9" r="0.78" fill="#d6e685"/><circle cx="169.2" cy="339.5" r="0.78" fill="#d7e685"/><circle cx="141.1" cy="353.7" r="0.78" fill="#d8e683"/><circle cx="169.4" cy="337.9" r="0.78" fill="#d9e680"/><circle cx="167.8" cy="344.1" r="0.78" fill="#d9e680"/><circle cx="164.9" cy="320.6" r="0.78" fill="#dae77f"/><circle cx="141.2" cy="353.4" r="0.78" fill="#dae77e"/><circle cx="157.6" cy="360.7" r="0.78" fill="#dae77e"/><circle cx="162.3" cy="321.0" r="0.78" fill="#dae77d"/><circle cx="160.9" cy="321.6" r="0.78" fill="#dbe77d"/><circle cx="170.7" cy="329.5" r="0.78" fill="#dbe77c"/><circle cx="162.8" cy="353.7" r="0.78" fill="#dbe77c"/><circle cx="141.5" cy="355.3" r="0.78" fill="#dbe77c"/><circle cx="170.2" cy="326.8" r="0.78" fill="#dbe77b"/><circle cx="142.0" cy="356.9" r="0.78" fill="#dce77b"/><circle cx="170.5" cy="331.7" r="0.78" fill="#dce77b"/><circle cx="155.5" cy="325.5" r="0.78" fill="#dce77a"/><circle cx="170.6" cy="330.2" r="0.78" fill="#dce77a"/><circle cx="166.8" cy="321.7" r="0.78" fill="#dce77a"/><circle cx="160.3" cy="322.1" r="0.78" fill="#dde779"/><circle cx="143.0" cy="341.4" r="0.78" fill="#dde779"/><circle cx="170.4" cy="329.4" r="0.78" fill="#dee776"/><circle cx="170.3" cy="329.3" r="0.78" fill="#dfe774"/><circle cx="161.4" cy="321.8" r="0.78" fill="#e0e773"/><circle cx="147.0" cy="362.3" r="0.78" fill="#e0e773"/><circle cx="143.7" cy="340.1" r="0.78" fill="#e1e671"/><circle cx="163.7" cy="351.8" r="0.78" fill="#e1e671"/><circle cx="168.7" cy="339.2" r="0.78" fill="#e1e670"/><circle cx="170.1" cy="330.4" r="0.78" fill="#e2e66e"/><circle cx="158.3" cy="323.9" r="0.78" fill="#e2e66e"/><circle cx="169.9" cy="328.5" r="0.78" fill="#e3e66d"/><circle cx="154.5" cy="362.4" r="0.78" fill="#e4e56a"/><circle cx="145.4" cy="336.9" r="0.78" fill="#e4e56a"/><circle cx="169.6" cy="333.4" r="0.78" fill="#e5e569"/><circle cx="151.8" cy="363.1" r="0.78" fill="#e5e569"/><circle cx="159.9" cy="323.1" r="0.78" fill="#e5e568"/><circle cx="167.6" cy="324.0" r="0.78" fill="#e5e568"/><circle cx="168.5" cy="339.3" r="0.78" fill="#e6e567"/><circle cx="168.7" cy="326.0" r="0.78" fill="#e6e466"/><circle cx="150.2" cy="330.7" r="0.78" fill="#e6e466"/><circle cx="159.9" cy="357.0" r="0.78" fill="#e7e465"/><circle cx="148.0" cy="362.3" r="0.78" fill="#e7e465"/><circle cx="168.6" cy="326.1" r="0.78" fill="#e7e464"/><circle cx="169.6" cy="330.8" r="0.78" fill="#e8e462"/><circle cx="142.4" cy="356.0" r="0.78" fill="#e8e462"/><circle cx="159.3" cy="323.8" r="0.78" fill="#e8e462"/><circle cx="169.5" cy="332.7" r="0.78" fill="#e8e462"/><circle cx="160.2" cy="356.3" r="0.78" fill="#e9e361"/><circle cx="166.5" cy="345.8" r="0.78" fill="#e9e361"/><circle cx="146.5" cy="361.4" r="0.78" fill="#e9e361"/><circle cx="166.1" cy="323.1" r="0.78" fill="#e9e361"/><circle cx="143.4" cy="358.1" r="0.78" fill="#e9e360"/><circle cx="153.1" cy="328.3" r="0.78" fill="#eae360"/><circle cx="161.2" cy="322.9" r="0.78" fill="#eae35f"/><circle cx="153.0" cy="362.5" r="0.78" fill="#eae35e"/><circle cx="141.9" cy="350.7" r="0.78" fill="#ebe35e"/><circle cx="143.5" cy="341.5" r="0.78" fill="#ebe35e"/><circle cx="164.5" cy="322.6" r="0.78" fill="#ebe35e"/><circle cx="168.8" cy="336.4" r="0.78" fill="#ebe35e"/><circle cx="142.3" cy="346.5" r="0.78" fill="#ebe35d"/><circle cx="152.7" cy="328.7" r="0.78" fill="#ebe35d"/><circle cx="167.6" cy="342.1" r="0.78" fill="#ebe35d"/><circle cx="162.5" cy="322.6" r="0.78" fill="#ebe35d"/><circle cx="151.5" cy="329.8" r="0.78" fill="#ebe35c"/><circle cx="169.1" cy="328.7" r="0.78" fill="#ece25c"/><circle cx="167.1" cy="324.5" r="0.78" fill="#ece25c"/><circle cx="169.3" cy="331.2" r="0.78" fill="#ece25c"/><circle cx="168.1" cy="326.1" r="0.78" fill="#ece25b"/><circle cx="169.1" cy="333.8" r="0.78" fill="#ece25b"/><circle cx="168.1" cy="339.6" r="0.78" fill="#ece25b"/><circle cx="142.4" cy="346.6" r="0.78" fill="#ece25b"/><circle cx="142.2" cy="347.3" r="0.78" fill="#ece25b"/><circle cx="157.6" cy="359.3" r="0.78" fill="#ede259"/><circle cx="154.3" cy="327.6" r="0.78" fill="#ede259"/><circle cx="164.3" cy="322.9" r="0.78" fill="#ede259"/><circle cx="164.6" cy="349.0" r="0.78" fill="#ede258"/><circle cx="168.2" cy="326.7" r="0.78" fill="#ede258"/><circle cx="150.2" cy="331.2" r="0.78" fill="#ede258"/><circle cx="158.8" cy="357.8" r="0.78" fill="#eee258"/><circle cx="161.3" cy="323.3" r="0.78" fill="#eee257"/><circle cx="163.9" cy="322.9" r="0.78" fill="#eee257"/><circle cx="151.1" cy="330.3" r="0.78" fill="#eee257"/><circle cx="169.0" cy="333.1" r="0.78" fill="#eee257"/><circle cx="142.1" cy="353.2" r="0.78" fill="#eee156"/><circle cx="156.8" cy="359.9" r="0.78" fill="#efe156"/><circle cx="164.3" cy="349.3" r="0.78" fill="#efe156"/><circle cx="146.7" cy="361.1" r="0.78" fill="#efe155"/><circle cx="162.0" cy="323.2" r="0.78" fill="#efe155"/><circle cx="163.8" cy="323.1" r="0.78" fill="#f0e154"/><circle cx="143.9" cy="341.2" r="0.78" fill="#f0e154"/><circle cx="152.6" cy="329.1" r="0.78" fill="#f0e154"/><circle cx="142.6" cy="355.4" r="0.78" fill="#f0e153"/><circle cx="150.1" cy="331.4" r="0.78" fill="#f0e153"/><circle cx="160.0" cy="324.1" r="0.78" fill="#f0e152"/><circle cx="160.2" cy="355.6" r="0.78" fill="#f0e152"/><circle cx="142.8" cy="355.9" r="0.78" fill="#f0e152"/><circle cx="165.3" cy="347.3" r="0.78" fill="#f1e050"/><circle cx="147.3" cy="335.1" r="0.78" fill="#f2e04f"/><circle cx="158.6" cy="325.0" r="0.78" fill="#f2e04e"/><circle cx="167.7" cy="340.1" r="0.78" fill="#f2e04e"/><circle cx="156.2" cy="326.6" r="0.78" fill="#f2e04e"/><circle cx="153.2" cy="361.9" r="0.78" fill="#f3e04e"/><circle cx="165.9" cy="345.8" r="0.78" fill="#f3e04e"/><circle cx="164.3" cy="348.9" r="0.78" fill="#f3e04d"/><circle cx="168.5" cy="334.9" r="0.78" fill="#f3e04d"/><circle cx="162.9" cy="351.2" r="0.78" fill="#f3e04d"/><circle cx="155.5" cy="327.2" r="0.78" fill="#f3e04d"/><circle cx="154.5" cy="327.9" r="0.78" fill="#f4e04c"/><circle cx="147.2" cy="335.4" r="0.78" fill="#f4e04c"/><circle cx="162.6" cy="323.6" r="0.78" fill="#f4df4b"/><circle cx="146.2" cy="360.3" r="0.78" fill="#f5df4a"/><circle cx="168.6" cy="331.8" r="0.78" fill="#f5df49"/><circle cx="149.6" cy="332.3" r="0.78" fill="#f5df49"/><circle cx="164.3" cy="323.9" r="0.78" fill="#f5df49"/><circle cx="162.9" cy="323.7" r="0.78" fill="#f5df49"/><circle cx="164.2" cy="348.8" r="0.78" fill="#f6df48"/><circle cx="143.9" cy="357.5" r="0.78" fill="#f6df48"/><circle cx="159.8" cy="355.7" r="0.78" fill="#f6df47"/><circle cx="167.4" cy="327.0" r="0.78" fill="#f7df46"/><circle cx="155.6" cy="327.3" r="0.78" fill="#f7de46"/><circle cx="157.6" cy="326.0" r="0.78" fill="#f7de46"/><circle cx="159.5" cy="325.0" r="0.78" fill="#f7de45"/><circle cx="167.2" cy="326.9" r="0.78" fill="#f7de45"/><circle cx="157.8" cy="358.2" r="0.78" fill="#f7de44"/><circle cx="166.3" cy="325.6" r="0.78" fill="#f8de43"/><circle cx="168.3" cy="330.8" r="0.78" fill="#f8de43"/><circle cx="163.2" cy="350.2" r="0.78" fill="#f9de41"/><circle cx="155.6" cy="360.2" r="0.78" fill="#f9de41"/><circle cx="148.4" cy="361.2" r="0.78" fill="#f9dd40"/><circle cx="167.5" cy="339.2" r="0.78" fill="#f9dc40"/><circle cx="165.7" cy="345.4" r="0.78" fill="#f9dc40"/><circle cx="168.2" cy="332.5" r="0.78" fill="#f9db40"/><circle cx="150.1" cy="361.6" r="0.78" fill="#f9db3f"/><circle cx="148.2" cy="334.4" r="0.78" fill="#f9da3f"/><circle cx="147.5" cy="360.6" r="0.78" fill="#f9da3f"/><circle cx="167.2" cy="327.7" r="0.78" fill="#f9da3f"/><circle cx="164.5" cy="324.8" r="0.78" fill="#f9d93f"/><circle cx="160.8" cy="353.6" r="0.78" fill="#f9d93f"/><circle cx="142.9" cy="347.8" r="0.78" fill="#f9d93f"/><circle cx="156.0" cy="359.6" r="0.78" fill="#f9d93f"/><circle cx="166.2" cy="343.8" r="0.78" fill="#f9d93f"/><circle cx="158.8" cy="356.6" r="0.78" fill="#f9d93f"/><circle cx="146.3" cy="337.5" r="0.78" fill="#f9d83e"/><circle cx="162.1" cy="324.6" r="0.78" fill="#f9d83e"/><circle cx="143.2" cy="345.7" r="0.78" fill="#f9d73e"/><circle cx="161.2" cy="353.0" r="0.78" fill="#f9d63e"/><circle cx="159.1" cy="356.1" r="0.78" fill="#f9d63e"/><circle cx="168.0" cy="333.1" r="0.78" fill="#f9d63d"/><circle cx="164.3" cy="325.0" r="0.78" fill="#f9d63d"/><circle cx="144.2" cy="357.1" r="0.78" fill="#f9d53d"/><circle cx="164.6" cy="347.3" r="0.78" fill="#f9d53d"/><circle cx="164.3" cy="325.0" r="0.78" fill="#f9d53d"/><circle cx="154.3" cy="360.7" r="0.78" fill="#f9d43d"/><circle cx="158.9" cy="356.2" r="0.78" fill="#f9d43d"/><circle cx="155.1" cy="328.2" r="0.78" fill="#f9d33c"/><circle cx="147.7" cy="360.5" r="0.78" fill="#f9d33c"/><circle cx="143.3" cy="346.0" r="0.78" fill="#f9d23c"/><circle cx="147.2" cy="360.2" r="0.78" fill="#f9d23c"/><circle cx="142.9" cy="352.0" r="0.78" fill="#f9d23c"/><circle cx="167.8" cy="332.6" r="0.78" fill="#f9d13c"/><circle cx="159.7" cy="354.9" r="0.78" fill="#f9d13b"/><circle cx="155.6" cy="359.7" r="0.78" fill="#f9d03b"/><circle cx="160.4" cy="353.9" r="0.78" fill="#f9d03b"/><circle cx="165.0" cy="325.8" r="0.78" fill="#f9d03b"/><circle cx="166.7" cy="327.9" r="0.78" fill="#f9d03b"/><circle cx="160.8" cy="353.3" r="0.78" fill="#f9d03b"/><circle cx="165.8" cy="326.6" r="0.78" fill="#f9cf3b"/><circle cx="167.6" cy="331.3" r="0.78" fill="#f9ce3a"/><circle cx="142.9" cy="350.7" r="0.78" fill="#f9ce3a"/><circle cx="158.6" cy="326.4" r="0.78" fill="#f9cc39"/><circle cx="145.6" cy="339.2" r="0.78" fill="#f9cc39"/><circle cx="143.0" cy="350.7" r="0.78" fill="#f9cb39"/><circle cx="143.2" cy="347.6" r="0.78" fill="#f9ca39"/><circle cx="167.3" cy="330.6" r="0.78" fill="#f9ca39"/><circle cx="156.2" cy="327.8" r="0.78" fill="#f9ca38"/><circle cx="155.1" cy="359.8" r="0.78" fill="#f9c938"/><circle cx="144.5" cy="342.2" r="0.78" fill="#f9c537"/><circle cx="164.1" cy="326.0" r="0.78" fill="#f9c537"/><circle cx="165.4" cy="327.0" r="0.78" fill="#f9c537"/><circle cx="143.2" cy="349.6" r="0.78" fill="#f9c436"/><circle cx="167.3" cy="333.0" r="0.78" fill="#f9c235"/><circle cx="143.6" cy="345.9" r="0.78" fill="#f9c235"/><circle cx="150.4" cy="360.8" r="0.78" fill="#f9c235"/><circle cx="163.5" cy="326.0" r="0.78" fill="#f9c135"/><circle cx="160.8" cy="326.0" r="0.78" fill="#f9c135"/><circle cx="166.7" cy="329.7" r="0.78" fill="#f9c135"/><circle cx="152.9" cy="330.4" r="0.78" fill="#f9c135"/><circle cx="167.1" cy="331.4" r="0.78" fill="#f9c135"/><circle cx="156.4" cy="358.4" r="0.78" fill="#f9c035"/><circle cx="153.4" cy="360.4" r="0.78" fill="#f9bf34"/><circle cx="154.2" cy="360.0" r="0.78" fill="#f8be34"/><circle cx="161.3" cy="326.1" r="0.78" fill="#f8bc33"/><circle cx="144.3" cy="355.7" r="0.78" fill="#f8bc33"/><circle cx="161.3" cy="326.2" r="0.78" fill="#f8bc33"/><circle cx="157.0" cy="327.8" r="0.78" fill="#f8bb33"/><circle cx="157.4" cy="327.7" r="0.78" fill="#f8bb32"/><circle cx="151.7" cy="360.6" r="0.78" fill="#f8b932"/><circle cx="157.4" cy="327.7" r="0.78" fill="#f8b932"/><circle cx="166.8" cy="337.4" r="0.78" fill="#f8b731"/><circle cx="157.5" cy="356.8" r="0.78" fill="#f8b631"/><circle cx="154.1" cy="329.8" r="0.78" fill="#f8b631"/><circle cx="155.2" cy="329.1" r="0.78" fill="#f8b530"/><circle cx="161.8" cy="350.4" r="0.78" fill="#f8b22f"/><circle cx="152.0" cy="360.3" r="0.78" fill="#f8b12f"/><circle cx="144.2" cy="344.9" r="0.78" fill="#f8b12f"/><circle cx="165.0" cy="344.6" r="0.78" fill="#f8b12f"/><circle cx="155.2" cy="358.8" r="0.78" fill="#f8b12f"/><circle cx="156.8" cy="357.4" r="0.78" fill="#f8b12f"/><circle cx="145.5" cy="340.8" r="0.78" fill="#f8b02e"/><circle cx="154.6" cy="329.7" r="0.78" fill="#f8b02e"/><circle cx="150.4" cy="360.2" r="0.78" fill="#f8af2e"/><circle cx="152.0" cy="331.7" r="0.78" fill="#f8ae2d"/><circle cx="162.5" cy="327.0" r="0.78" fill="#f8ac2d"/><circle cx="166.5" cy="332.6" r="0.78" fill="#f8ac2d"/><circle cx="158.1" cy="355.5" r="0.78" fill="#f8ac2c"/><circle cx="148.0" cy="359.3" r="0.78" fill="#f8ab2c"/><circle cx="166.5" cy="336.9" r="0.78" fill="#f8aa2c"/><circle cx="166.5" cy="333.7" r="0.78" fill="#f8aa2c"/><circle cx="148.4" cy="336.0" r="0.78" fill="#f8a92b"/><circle cx="147.8" cy="336.8" r="0.78" fill="#f8a92b"/><circle cx="144.3" cy="354.5" r="0.78" fill="#f8a92b"/><circle cx="143.9" cy="351.6" r="0.78" fill="#f8a72b"/><circle cx="143.9" cy="348.1" r="0.78" fill="#f8a72b"/><circle cx="166.1" cy="339.8" r="0.78" fill="#f8a72b"/><circle cx="166.4" cy="334.1" r="0.78" fill="#f8a52a"/><circle cx="150.6" cy="333.4" r="0.78" fill="#f8a52a"/><circle cx="147.5" cy="358.7" r="0.78" fill="#f8a52a"/><circle cx="166.0" cy="340.1" r="0.78" fill="#f8a52a"/><circle cx="165.5" cy="342.5" r="0.78" fill="#f8a52a"/><circle cx="164.1" cy="328.4" r="0.78" fill="#f8a429"/><circle cx="144.7" cy="343.7" r="0.78" fill="#f8a429"/><circle cx="165.2" cy="330.0" r="0.78" fill="#f8a229"/><circle cx="153.2" cy="359.5" r="0.78" fill="#f8a228"/><circle cx="144.0" cy="351.0" r="0.78" fill="#f8a228"/><circle cx="147.0" cy="358.2" r="0.78" fill="#f8a128"/><circle cx="155.1" cy="358.4" r="0.78" fill="#f8a128"/><circle cx="152.9" cy="359.6" r="0.78" fill="#f8a128"/><circle cx="144.2" cy="352.7" r="0.78" fill="#f8a128"/><circle cx="162.3" cy="327.7" r="0.78" fill="#f8a028"/><circle cx="165.2" cy="330.1" r="0.78" fill="#f8a028"/><circle cx="161.3" cy="350.3" r="0.78" fill="#f79f27"/><circle cx="161.5" cy="327.7" r="0.78" fill="#f79d27"/><circle cx="144.7" cy="354.7" r="0.78" fill="#f79d27"/><circle cx="160.1" cy="352.0" r="0.78" fill="#f79d27"/><circle cx="153.0" cy="359.4" r="0.78" fill="#f69927"/><circle cx="166.1" cy="335.3" r="0.78" fill="#f59827"/><circle cx="164.5" cy="329.5" r="0.78" fill="#f59827"/><circle cx="163.5" cy="328.5" r="0.78" fill="#f59727"/><circle cx="151.0" cy="359.6" r="0.78" fill="#f59727"/><circle cx="150.3" cy="334.0" r="0.78" fill="#f59727"/><circle cx="166.0" cy="338.9" r="0.78" fill="#f59627"/><circle cx="157.4" cy="328.8" r="0.78" fill="#f59627"/><circle cx="144.2" cy="351.0" r="0.78" fill="#f49527"/><circle cx="159.1" cy="353.3" r="0.78" fill="#f49326"/><circle cx="159.9" cy="328.1" r="0.78" fill="#f49226"/><circle cx="145.8" cy="356.4" r="0.78" fill="#f39026"/><circle cx="146.5" cy="339.8" r="0.78" fill="#f39026"/><circle cx="145.2" cy="355.4" r="0.78" fill="#f39026"/><circle cx="165.8" cy="339.2" r="0.78" fill="#f38f26"/><circle cx="148.3" cy="336.8" r="0.78" fill="#f38f26"/><circle cx="156.9" cy="329.2" r="0.78" fill="#f28e26"/><circle cx="164.3" cy="329.7" r="0.78" fill="#f28d26"/><circle cx="155.5" cy="357.6" r="0.78" fill="#f28d26"/><circle cx="161.2" cy="328.2" r="0.78" fill="#f28c26"/><circle cx="145.3" cy="343.1" r="0.78" fill="#f08725"/><circle cx="165.8" cy="334.5" r="0.78" fill="#f08625"/><circle cx="165.9" cy="335.5" r="0.78" fill="#f08625"/><circle cx="165.3" cy="332.1" r="0.78" fill="#f08625"/><circle cx="148.0" cy="358.3" r="0.78" fill="#f08525"/><circle cx="164.3" cy="344.5" r="0.78" fill="#f08425"/><circle cx="145.5" cy="342.6" r="0.78" fill="#ef8225"/><circle cx="165.7" cy="334.5" r="0.78" fill="#ef8225"/><circle cx="165.2" cy="341.9" r="0.78" fill="#ef8125"/><circle cx="151.2" cy="333.5" r="0.78" fill="#ef8125"/><circle cx="163.6" cy="329.5" r="0.78" fill="#ef8125"/><circle cx="149.1" cy="336.0" r="0.8" fill="#ed7c24" stroke="#fff" stroke-width="0.12"/><circle cx="146.0" cy="356.0" r="0.8" fill="#ed7b24" stroke="#fff" stroke-width="0.12"/><circle cx="162.7" cy="329.0" r="0.8" fill="#ed7b24" stroke="#fff" stroke-width="0.12"/><circle cx="150.2" cy="359.0" r="0.8" fill="#ed7b24" stroke="#fff" stroke-width="0.12"/><circle cx="150.8" cy="359.1" r="0.8" fill="#ed7a24" stroke="#fff" stroke-width="0.12"/><circle cx="153.7" cy="358.5" r="0.8" fill="#ed7924" stroke="#fff" stroke-width="0.12"/><circle cx="153.1" cy="331.9" r="0.8" fill="#ec7624" stroke="#fff" stroke-width="0.12"/><circle cx="146.2" cy="356.2" r="0.8" fill="#ec7624" stroke="#fff" stroke-width="0.12"/><circle cx="164.9" cy="342.2" r="0.8" fill="#ec7624" stroke="#fff" stroke-width="0.12"/><circle cx="158.9" cy="352.7" r="0.8" fill="#eb7524" stroke="#fff" stroke-width="0.12"/><circle cx="145.8" cy="342.4" r="0.8" fill="#eb7424" stroke="#fff" stroke-width="0.12"/><circle cx="157.7" cy="354.4" r="0.8" fill="#eb7324" stroke="#fff" stroke-width="0.12"/><circle cx="148.9" cy="336.5" r="0.8" fill="#ea7224" stroke="#fff" stroke-width="0.12"/><circle cx="165.3" cy="340.6" r="0.8" fill="#ea7123" stroke="#fff" stroke-width="0.12"/><circle cx="160.9" cy="349.8" r="0.8" fill="#ea7123" stroke="#fff" stroke-width="0.12"/><circle cx="145.3" cy="343.9" r="0.8" fill="#ea7123" stroke="#fff" stroke-width="0.12"/><circle cx="159.8" cy="351.3" r="0.8" fill="#ea6f23" stroke="#fff" stroke-width="0.12"/><circle cx="153.8" cy="331.5" r="0.8" fill="#ea6f23" stroke="#fff" stroke-width="0.12"/><circle cx="160.1" cy="350.9" r="0.8" fill="#e96f23" stroke="#fff" stroke-width="0.12"/><circle cx="162.0" cy="329.2" r="0.8" fill="#e96d23" stroke="#fff" stroke-width="0.12"/><circle cx="156.5" cy="330.0" r="0.8" fill="#e96c23" stroke="#fff" stroke-width="0.12"/><circle cx="145.0" cy="345.9" r="0.8" fill="#e96c23" stroke="#fff" stroke-width="0.12"/><circle cx="149.5" cy="335.8" r="0.8" fill="#e86b23" stroke="#fff" stroke-width="0.12"/><circle cx="165.1" cy="333.6" r="0.8" fill="#e86a23" stroke="#fff" stroke-width="0.12"/><circle cx="164.8" cy="342.3" r="0.8" fill="#e86a23" stroke="#fff" stroke-width="0.12"/><circle cx="163.1" cy="346.2" r="0.8" fill="#e86923" stroke="#fff" stroke-width="0.12"/><circle cx="145.1" cy="353.4" r="0.8" fill="#e76723" stroke="#fff" stroke-width="0.12"/><circle cx="148.7" cy="358.1" r="0.8" fill="#e76623" stroke="#fff" stroke-width="0.12"/><circle cx="145.6" cy="343.4" r="0.8" fill="#e76622" stroke="#fff" stroke-width="0.12"/><circle cx="149.2" cy="358.3" r="0.8" fill="#e76522" stroke="#fff" stroke-width="0.12"/><circle cx="163.3" cy="330.3" r="0.8" fill="#e66422" stroke="#fff" stroke-width="0.12"/><circle cx="145.4" cy="344.3" r="0.8" fill="#e66222" stroke="#fff" stroke-width="0.12"/><circle cx="151.5" cy="358.7" r="0.8" fill="#e66222" stroke="#fff" stroke-width="0.12"/><circle cx="158.7" cy="329.5" r="0.8" fill="#e55f22" stroke="#fff" stroke-width="0.12"/><circle cx="150.0" cy="335.3" r="0.8" fill="#e55f22" stroke="#fff" stroke-width="0.12"/><circle cx="145.0" cy="352.2" r="0.8" fill="#e55f22" stroke="#fff" stroke-width="0.12"/><circle cx="145.3" cy="353.3" r="0.8" fill="#e45c22" stroke="#fff" stroke-width="0.12"/><circle cx="156.5" cy="355.4" r="0.8" fill="#e45b22" stroke="#fff" stroke-width="0.12"/><circle cx="145.8" cy="343.2" r="0.8" fill="#e45b22" stroke="#fff" stroke-width="0.12"/><circle cx="159.9" cy="350.7" r="0.8" fill="#e45a21" stroke="#fff" stroke-width="0.12"/><circle cx="161.4" cy="348.6" r="0.8" fill="#e45a21" stroke="#fff" stroke-width="0.12"/><circle cx="157.8" cy="329.8" r="0.8" fill="#e35a21" stroke="#fff" stroke-width="0.12"/><circle cx="162.1" cy="329.9" r="0.8" fill="#e35721" stroke="#fff" stroke-width="0.12"/><circle cx="149.0" cy="336.8" r="0.8" fill="#e35721" stroke="#fff" stroke-width="0.12"/><circle cx="145.7" cy="343.8" r="0.8" fill="#e25621" stroke="#fff" stroke-width="0.12"/><circle cx="152.2" cy="333.2" r="0.8" fill="#e25521" stroke="#fff" stroke-width="0.12"/><circle cx="154.0" cy="331.8" r="0.8" fill="#e25521" stroke="#fff" stroke-width="0.12"/><circle cx="146.7" cy="355.9" r="0.8" fill="#e25321" stroke="#fff" stroke-width="0.12"/><circle cx="145.5" cy="344.5" r="0.8" fill="#e25321" stroke="#fff" stroke-width="0.12"/><circle cx="154.8" cy="356.9" r="0.8" fill="#e15121" stroke="#fff" stroke-width="0.12"/><circle cx="163.2" cy="330.9" r="0.8" fill="#e04f20" stroke="#fff" stroke-width="0.12"/><circle cx="157.5" cy="330.2" r="0.8" fill="#e04d20" stroke="#fff" stroke-width="0.12"/><circle cx="157.7" cy="353.4" r="0.8" fill="#e04d20" stroke="#fff" stroke-width="0.12"/><circle cx="145.2" cy="346.8" r="0.8" fill="#df4b20" stroke="#fff" stroke-width="0.12"/><circle cx="163.2" cy="331.1" r="0.8" fill="#df4a20" stroke="#fff" stroke-width="0.12"/><circle cx="163.7" cy="344.2" r="0.8" fill="#df4920" stroke="#fff" stroke-width="0.12"/><circle cx="148.7" cy="337.5" r="0.8" fill="#de4820" stroke="#fff" stroke-width="0.12"/><circle cx="145.6" cy="344.7" r="0.8" fill="#de4820" stroke="#fff" stroke-width="0.12"/><circle cx="146.1" cy="343.1" r="0.8" fill="#de4620" stroke="#fff" stroke-width="0.12"/><circle cx="146.3" cy="354.8" r="0.8" fill="#de4520" stroke="#fff" stroke-width="0.12"/><circle cx="152.3" cy="358.0" r="0.8" fill="#dd4520" stroke="#fff" stroke-width="0.12"/><circle cx="146.7" cy="341.3" r="0.8" fill="#dd4420" stroke="#fff" stroke-width="0.12"/><circle cx="159.4" cy="330.0" r="0.8" fill="#dd4420" stroke="#fff" stroke-width="0.12"/><circle cx="148.2" cy="357.1" r="0.8" fill="#dd431f" stroke="#fff" stroke-width="0.12"/><circle cx="154.0" cy="332.1" r="0.8" fill="#dd431f" stroke="#fff" stroke-width="0.12"/><circle cx="157.6" cy="330.3" r="0.8" fill="#dd431f" stroke="#fff" stroke-width="0.12"/><circle cx="149.8" cy="336.2" r="0.8" fill="#dc401f" stroke="#fff" stroke-width="0.12"/><circle cx="163.7" cy="332.2" r="0.8" fill="#dc401f" stroke="#fff" stroke-width="0.12"/><circle cx="163.5" cy="344.4" r="0.8" fill="#dc3f1f" stroke="#fff" stroke-width="0.12"/><circle cx="164.5" cy="334.5" r="0.8" fill="#db3c1f" stroke="#fff" stroke-width="0.12"/><circle cx="157.0" cy="353.9" r="0.8" fill="#da3a1f" stroke="#fff" stroke-width="0.12"/><circle cx="153.2" cy="357.4" r="0.8" fill="#da381e" stroke="#fff" stroke-width="0.12"/><circle cx="147.3" cy="355.9" r="0.8" fill="#da371e" stroke="#fff" stroke-width="0.12"/><circle cx="160.9" cy="330.4" r="0.8" fill="#d9361e" stroke="#fff" stroke-width="0.12"/><circle cx="147.0" cy="341.1" r="0.8" fill="#d9351e" stroke="#fff" stroke-width="0.12"/><circle cx="162.9" cy="331.6" r="0.8" fill="#d8331e" stroke="#fff" stroke-width="0.12"/><circle cx="150.5" cy="357.7" r="0.8" fill="#d8331e" stroke="#fff" stroke-width="0.12"/><circle cx="162.9" cy="345.3" r="0.8" fill="#d8331e" stroke="#fff" stroke-width="0.12"/><circle cx="159.0" cy="350.9" r="0.8" fill="#d8321e" stroke="#fff" stroke-width="0.12"/><circle cx="164.1" cy="333.6" r="0.8" fill="#d8311e" stroke="#fff" stroke-width="0.12"/><circle cx="157.3" cy="330.8" r="0.8" fill="#d8311e" stroke="#fff" stroke-width="0.12"/><circle cx="148.8" cy="357.0" r="0.8" fill="#d7301e" stroke="#fff" stroke-width="0.12"/><circle cx="161.2" cy="330.7" r="0.8" fill="#d72e1e" stroke="#fff" stroke-width="0.12"/><circle cx="157.8" cy="352.5" r="0.8" fill="#d72d1e" stroke="#fff" stroke-width="0.12"/><circle cx="155.0" cy="331.8" r="0.8" fill="#d72d1e" stroke="#fff" stroke-width="0.12"/><circle cx="151.7" cy="334.4" r="0.8" fill="#d72d1e" stroke="#fff" stroke-width="0.12"/><circle cx="145.9" cy="352.8" r="0.8" fill="#d62c1d" stroke="#fff" stroke-width="0.12"/><circle cx="148.2" cy="356.6" r="0.8" fill="#d62c1d" stroke="#fff" stroke-width="0.12"/><circle cx="153.3" cy="333.0" r="0.8" fill="#d62c1d" stroke="#fff" stroke-width="0.12"/><circle cx="161.1" cy="347.8" r="0.8" fill="#d52c1d" stroke="#fff" stroke-width="0.12"/><circle cx="145.6" cy="350.4" r="0.8" fill="#d52c1d" stroke="#fff" stroke-width="0.12"/><circle cx="150.8" cy="357.5" r="0.8" fill="#d52c1d" stroke="#fff" stroke-width="0.12"/><circle cx="146.9" cy="341.7" r="0.8" fill="#d52c1d" stroke="#fff" stroke-width="0.12"/><circle cx="145.8" cy="346.2" r="0.8" fill="#d52c1d" stroke="#fff" stroke-width="0.12"/><circle cx="164.5" cy="338.2" r="0.8" fill="#d42b1d" stroke="#fff" stroke-width="0.12"/><circle cx="162.8" cy="345.0" r="0.8" fill="#d42b1d" stroke="#fff" stroke-width="0.12"/><circle cx="155.5" cy="355.1" r="0.8" fill="#d42b1d" stroke="#fff" stroke-width="0.12"/><circle cx="150.8" cy="357.4" r="0.8" fill="#d42b1d" stroke="#fff" stroke-width="0.12"/><circle cx="160.0" cy="349.2" r="0.8" fill="#d42b1d" stroke="#fff" stroke-width="0.12"/><circle cx="146.3" cy="353.6" r="0.8" fill="#d32b1d" stroke="#fff" stroke-width="0.12"/><circle cx="145.8" cy="351.5" r="0.8" fill="#d32b1d" stroke="#fff" stroke-width="0.12"/><circle cx="146.3" cy="343.9" r="0.8" fill="#d32b1d" stroke="#fff" stroke-width="0.12"/><circle cx="151.4" cy="357.3" r="0.8" fill="#d22a1d" stroke="#fff" stroke-width="0.12"/><circle cx="160.5" cy="348.4" r="0.8" fill="#d22a1d" stroke="#fff" stroke-width="0.12"/><circle cx="148.2" cy="339.2" r="0.8" fill="#d22a1d" stroke="#fff" stroke-width="0.12"/><circle cx="145.7" cy="349.5" r="0.8" fill="#d22a1d" stroke="#fff" stroke-width="0.12"/><circle cx="154.9" cy="355.6" r="0.8" fill="#d22a1d" stroke="#fff" stroke-width="0.12"/><circle cx="157.6" cy="352.2" r="0.8" fill="#d22a1d" stroke="#fff" stroke-width="0.12"/><circle cx="163.5" cy="343.1" r="0.8" fill="#d22a1d" stroke="#fff" stroke-width="0.12"/><circle cx="153.2" cy="333.4" r="0.8" fill="#d12a1d" stroke="#fff" stroke-width="0.12"/><circle cx="164.3" cy="338.7" r="0.8" fill="#d0291d" stroke="#fff" stroke-width="0.12"/><circle cx="153.0" cy="356.8" r="0.8" fill="#d0291d" stroke="#fff" stroke-width="0.12"/><circle cx="159.0" cy="350.2" r="0.8" fill="#cf291d" stroke="#fff" stroke-width="0.12"/><circle cx="158.9" cy="331.0" r="0.8" fill="#cf291d" stroke="#fff" stroke-width="0.12"/><circle cx="162.9" cy="332.8" r="0.8" fill="#cf291d" stroke="#fff" stroke-width="0.12"/><circle cx="146.3" cy="352.8" r="0.8" fill="#cf291d" stroke="#fff" stroke-width="0.12"/><circle cx="154.1" cy="356.0" r="0.8" fill="#cf281c" stroke="#fff" stroke-width="0.12"/><circle cx="160.4" cy="331.1" r="0.8" fill="#cf281c" stroke="#fff" stroke-width="0.12"/><circle cx="153.3" cy="333.4" r="0.8" fill="#cf281c" stroke="#fff" stroke-width="0.12"/><circle cx="156.3" cy="331.8" r="0.8" fill="#ce281c" stroke="#fff" stroke-width="0.12"/><circle cx="147.4" cy="341.4" r="0.8" fill="#cd281c" stroke="#fff" stroke-width="0.12"/><circle cx="157.1" cy="352.6" r="0.8" fill="#cd281c" stroke="#fff" stroke-width="0.12"/><circle cx="151.7" cy="356.9" r="0.8" fill="#cd271c" stroke="#fff" stroke-width="0.12"/><circle cx="163.5" cy="334.2" r="0.8" fill="#cd271c" stroke="#fff" stroke-width="0.12"/><circle cx="154.4" cy="355.6" r="0.8" fill="#cd271c" stroke="#fff" stroke-width="0.12"/><circle cx="151.1" cy="356.9" r="0.8" fill="#cd271c" stroke="#fff" stroke-width="0.12"/><circle cx="160.2" cy="331.3" r="0.8" fill="#cd271c" stroke="#fff" stroke-width="0.12"/><circle cx="151.5" cy="335.2" r="0.8" fill="#cd271c" stroke="#fff" stroke-width="0.12"/><circle cx="147.8" cy="355.2" r="0.8" fill="#cc271c" stroke="#fff" stroke-width="0.12"/><circle cx="161.4" cy="346.7" r="0.8" fill="#cc271c" stroke="#fff" stroke-width="0.12"/><circle cx="152.0" cy="356.8" r="0.8" fill="#cb271c" stroke="#fff" stroke-width="0.12"/><circle cx="157.1" cy="352.3" r="0.8" fill="#cb261c" stroke="#fff" stroke-width="0.12"/><circle cx="158.2" cy="331.6" r="0.8" fill="#c8251c" stroke="#fff" stroke-width="0.12"/><circle cx="155.5" cy="332.5" r="0.8" fill="#c8251c" stroke="#fff" stroke-width="0.12"/><circle cx="154.9" cy="354.7" r="0.8" fill="#c7241b" stroke="#fff" stroke-width="0.12"/><circle cx="153.5" cy="355.8" r="0.8" fill="#c7241b" stroke="#fff" stroke-width="0.12"/><circle cx="163.9" cy="337.5" r="0.8" fill="#c7241b" stroke="#fff" stroke-width="0.12"/><circle cx="158.6" cy="350.1" r="0.8" fill="#c7241b" stroke="#fff" stroke-width="0.12"/><circle cx="160.9" cy="347.0" r="0.8" fill="#c7241b" stroke="#fff" stroke-width="0.12"/><circle cx="146.7" cy="352.4" r="0.8" fill="#c7241b" stroke="#fff" stroke-width="0.12"/><circle cx="147.5" cy="354.3" r="0.8" fill="#c6241b" stroke="#fff" stroke-width="0.12"/><circle cx="160.2" cy="347.9" r="0.8" fill="#c6241b" stroke="#fff" stroke-width="0.12"/><circle cx="150.7" cy="336.5" r="0.8" fill="#c6241b" stroke="#fff" stroke-width="0.12"/><circle cx="163.6" cy="335.7" r="0.8" fill="#c6241b" stroke="#fff" stroke-width="0.12"/><circle cx="161.7" cy="332.5" r="0.8" fill="#c6241b" stroke="#fff" stroke-width="0.12"/><circle cx="162.6" cy="344.0" r="0.8" fill="#c5231b" stroke="#fff" stroke-width="0.12"/><circle cx="146.3" cy="350.0" r="0.8" fill="#c5231b" stroke="#fff" stroke-width="0.12"/><circle cx="154.4" cy="354.9" r="0.8" fill="#c5231b" stroke="#fff" stroke-width="0.12"/><circle cx="157.8" cy="331.9" r="0.8" fill="#c5231b" stroke="#fff" stroke-width="0.12"/><circle cx="150.3" cy="356.1" r="0.8" fill="#c4221b" stroke="#fff" stroke-width="0.12"/><circle cx="147.7" cy="354.2" r="0.8" fill="#c4221b" stroke="#fff" stroke-width="0.12"/><circle cx="163.1" cy="334.9" r="0.8" fill="#c4221b" stroke="#fff" stroke-width="0.12"/><circle cx="153.0" cy="334.3" r="0.8" fill="#c3221b" stroke="#fff" stroke-width="0.12"/><circle cx="148.5" cy="340.0" r="0.8" fill="#c3221b" stroke="#fff" stroke-width="0.12"/><circle cx="160.5" cy="347.2" r="0.8" fill="#c2221b" stroke="#fff" stroke-width="0.12"/><circle cx="156.0" cy="332.6" r="0.8" fill="#c2221b" stroke="#fff" stroke-width="0.12"/><circle cx="163.0" cy="342.7" r="0.8" fill="#c2211b" stroke="#fff" stroke-width="0.12"/><circle cx="148.2" cy="340.6" r="0.8" fill="#c2211b" stroke="#fff" stroke-width="0.12"/><circle cx="146.7" cy="351.2" r="0.8" fill="#c2211b" stroke="#fff" stroke-width="0.12"/><circle cx="148.2" cy="354.6" r="0.8" fill="#c1211b" stroke="#fff" stroke-width="0.12"/><circle cx="148.2" cy="340.7" r="0.8" fill="#c1211b" stroke="#fff" stroke-width="0.12"/><circle cx="148.3" cy="354.7" r="0.8" fill="#c1211b" stroke="#fff" stroke-width="0.12"/><circle cx="154.3" cy="354.7" r="0.8" fill="#c1211b" stroke="#fff" stroke-width="0.12"/><circle cx="160.3" cy="347.3" r="0.8" fill="#c1211b" stroke="#fff" stroke-width="0.12"/><circle cx="161.7" cy="333.1" r="0.8" fill="#c1211b" stroke="#fff" stroke-width="0.12"/><circle cx="157.6" cy="350.7" r="0.8" fill="#c1211b" stroke="#fff" stroke-width="0.12"/><circle cx="157.9" cy="332.1" r="0.8" fill="#c1211b" stroke="#fff" stroke-width="0.12"/><circle cx="154.4" cy="333.5" r="0.8" fill="#c0211b" stroke="#fff" stroke-width="0.12"/><circle cx="162.0" cy="333.6" r="0.8" fill="#c0201a" stroke="#fff" stroke-width="0.12"/><circle cx="147.4" cy="353.1" r="0.8" fill="#c0201a" stroke="#fff" stroke-width="0.12"/><circle cx="149.6" cy="338.4" r="0.8" fill="#bf201a" stroke="#fff" stroke-width="0.12"/><circle cx="162.7" cy="343.2" r="0.8" fill="#bf201a" stroke="#fff" stroke-width="0.12"/><circle cx="153.7" cy="355.0" r="0.8" fill="#bf201a" stroke="#fff" stroke-width="0.12"/><circle cx="160.4" cy="332.5" r="0.8" fill="#bf201a" stroke="#fff" stroke-width="0.12"/><circle cx="149.8" cy="355.5" r="0.8" fill="#bf201a" stroke="#fff" stroke-width="0.12"/><circle cx="162.9" cy="335.2" r="0.8" fill="#be201a" stroke="#fff" stroke-width="0.12"/><circle cx="147.2" cy="352.5" r="0.8" fill="#be1f1a" stroke="#fff" stroke-width="0.12"/><circle cx="149.5" cy="355.3" r="0.8" fill="#be1f1a" stroke="#fff" stroke-width="0.12"/><circle cx="146.9" cy="345.7" r="0.8" fill="#be1f1a" stroke="#fff" stroke-width="0.12"/><circle cx="147.0" cy="351.6" r="0.8" fill="#bd1f1a" stroke="#fff" stroke-width="0.12"/><circle cx="154.5" cy="354.1" r="0.8" fill="#bd1f1a" stroke="#fff" stroke-width="0.12"/><circle cx="155.8" cy="352.7" r="0.8" fill="#bc1f1a" stroke="#fff" stroke-width="0.12"/><circle cx="150.7" cy="355.6" r="0.8" fill="#bc1e1a" stroke="#fff" stroke-width="0.12"/><circle cx="151.2" cy="355.6" r="0.8" fill="#bc1e1a" stroke="#fff" stroke-width="0.12"/><circle cx="162.2" cy="334.3" r="0.8" fill="#bc1e1a" stroke="#fff" stroke-width="0.12"/><circle cx="148.4" cy="340.8" r="0.8" fill="#bc1e1a" stroke="#fff" stroke-width="0.12"/><circle cx="160.4" cy="346.8" r="0.8" fill="#bb1e1a" stroke="#fff" stroke-width="0.12"/><circle cx="160.3" cy="332.7" r="0.8" fill="#bb1e1a" stroke="#fff" stroke-width="0.12"/><circle cx="156.3" cy="332.9" r="0.8" fill="#bb1e1a" stroke="#fff" stroke-width="0.12"/><circle cx="148.7" cy="354.4" r="0.8" fill="#ba1d1a" stroke="#fff" stroke-width="0.12"/><circle cx="147.7" cy="352.9" r="0.8" fill="#ba1d1a" stroke="#fff" stroke-width="0.12"/><circle cx="152.0" cy="355.3" r="0.8" fill="#ba1d1a" stroke="#fff" stroke-width="0.12"/><circle cx="162.4" cy="343.2" r="0.8" fill="#b91d1a" stroke="#fff" stroke-width="0.12"/><circle cx="147.2" cy="344.8" r="0.8" fill="#b91d1a" stroke="#fff" stroke-width="0.12"/><circle cx="153.4" cy="334.7" r="0.8" fill="#b91d1a" stroke="#fff" stroke-width="0.12"/><circle cx="158.6" cy="348.7" r="0.8" fill="#b81c19" stroke="#fff" stroke-width="0.12"/><circle cx="162.8" cy="341.8" r="0.8" fill="#b81c19" stroke="#fff" stroke-width="0.12"/><circle cx="161.6" cy="334.0" r="0.8" fill="#b71c19" stroke="#fff" stroke-width="0.12"/><circle cx="160.1" cy="333.0" r="0.8" fill="#b71c19" stroke="#fff" stroke-width="0.12"/><circle cx="147.2" cy="350.7" r="0.8" fill="#b71c19" stroke="#fff" stroke-width="0.12"/><circle cx="147.9" cy="342.6" r="0.8" fill="#b71c19" stroke="#fff" stroke-width="0.12"/><circle cx="155.2" cy="352.8" r="0.8" fill="#b71b19" stroke="#fff" stroke-width="0.12"/><circle cx="151.4" cy="355.1" r="0.8" fill="#b61b19" stroke="#fff" stroke-width="0.12"/><circle cx="151.7" cy="355.0" r="0.8" fill="#b61b19" stroke="#fff" stroke-width="0.12"/><circle cx="147.1" cy="349.0" r="0.8" fill="#b61b19" stroke="#fff" stroke-width="0.12"/><circle cx="147.6" cy="344.0" r="0.8" fill="#b51b19" stroke="#fff" stroke-width="0.12"/><circle cx="163.1" cy="339.1" r="0.8" fill="#b51b19" stroke="#fff" stroke-width="0.12"/><circle cx="157.2" cy="350.2" r="0.8" fill="#b51b19" stroke="#fff" stroke-width="0.12"/><circle cx="152.2" cy="354.9" r="0.8" fill="#b51b19" stroke="#fff" stroke-width="0.12"/><circle cx="162.8" cy="341.5" r="0.8" fill="#b51a19" stroke="#fff" stroke-width="0.12"/><circle cx="161.5" cy="334.2" r="0.8" fill="#b41a19" stroke="#fff" stroke-width="0.12"/><circle cx="154.3" cy="353.4" r="0.8" fill="#b41a19" stroke="#fff" stroke-width="0.12"/><circle cx="159.9" cy="346.9" r="0.8" fill="#b41a19" stroke="#fff" stroke-width="0.12"/><circle cx="153.9" cy="334.6" r="0.8" fill="#b41a19" stroke="#fff" stroke-width="0.12"/><circle cx="163.0" cy="339.3" r="0.8" fill="#b31a19" stroke="#fff" stroke-width="0.12"/><circle cx="161.9" cy="343.6" r="0.8" fill="#b31919" stroke="#fff" stroke-width="0.12"/><circle cx="149.9" cy="354.5" r="0.8" fill="#b31919" stroke="#fff" stroke-width="0.12"/><circle cx="150.8" cy="354.7" r="0.8" fill="#b21919" stroke="#fff" stroke-width="0.12"/><circle cx="162.9" cy="339.8" r="0.8" fill="#b21919" stroke="#fff" stroke-width="0.12"/><circle cx="155.0" cy="334.0" r="0.8" fill="#b21919" stroke="#fff" stroke-width="0.12"/><circle cx="160.0" cy="333.3" r="0.8" fill="#b21919" stroke="#fff" stroke-width="0.12"/><circle cx="153.2" cy="335.2" r="0.8" fill="#b21919" stroke="#fff" stroke-width="0.12"/><circle cx="152.0" cy="336.3" r="0.8" fill="#b21919" stroke="#fff" stroke-width="0.12"/><circle cx="160.8" cy="345.5" r="0.8" fill="#b21919" stroke="#fff" stroke-width="0.12"/><circle cx="149.9" cy="339.1" r="0.8" fill="#b21919" stroke="#fff" stroke-width="0.12"/><circle cx="150.8" cy="354.7" r="0.8" fill="#b11919" stroke="#fff" stroke-width="0.12"/><circle cx="147.5" cy="350.3" r="0.8" fill="#b11919" stroke="#fff" stroke-width="0.12"/><circle cx="147.9" cy="351.8" r="0.8" fill="#b11919" stroke="#fff" stroke-width="0.12"/><circle cx="155.7" cy="351.7" r="0.8" fill="#b11818" stroke="#fff" stroke-width="0.12"/><circle cx="150.8" cy="337.8" r="0.8" fill="#b01818" stroke="#fff" stroke-width="0.12"/><circle cx="148.9" cy="353.4" r="0.8" fill="#b01818" stroke="#fff" stroke-width="0.12"/><circle cx="152.1" cy="336.3" r="0.8" fill="#b01818" stroke="#fff" stroke-width="0.12"/><circle cx="147.9" cy="351.5" r="0.8" fill="#af1818" stroke="#fff" stroke-width="0.12"/><circle cx="161.1" cy="334.3" r="0.8" fill="#af1718" stroke="#fff" stroke-width="0.12"/><circle cx="147.7" cy="350.6" r="0.8" fill="#ae1718" stroke="#fff" stroke-width="0.12"/><circle cx="148.0" cy="343.7" r="0.8" fill="#ae1718" stroke="#fff" stroke-width="0.12"/><circle cx="162.7" cy="338.1" r="0.8" fill="#ae1718" stroke="#fff" stroke-width="0.12"/><circle cx="162.7" cy="338.9" r="0.8" fill="#ad1618" stroke="#fff" stroke-width="0.12"/><circle cx="162.5" cy="341.0" r="0.8" fill="#ac1618" stroke="#fff" stroke-width="0.12"/><circle cx="147.6" cy="346.8" r="0.8" fill="#ac1618" stroke="#fff" stroke-width="0.12"/><circle cx="156.0" cy="333.9" r="0.8" fill="#ac1618" stroke="#fff" stroke-width="0.12"/><circle cx="147.6" cy="347.9" r="0.8" fill="#ac1618" stroke="#fff" stroke-width="0.12"/><circle cx="147.6" cy="348.4" r="0.8" fill="#ab1618" stroke="#fff" stroke-width="0.12"/><circle cx="149.4" cy="340.4" r="0.8" fill="#ab1618" stroke="#fff" stroke-width="0.12"/><circle cx="159.0" cy="347.3" r="0.8" fill="#ab1518" stroke="#fff" stroke-width="0.12"/><circle cx="157.0" cy="349.5" r="0.8" fill="#ab1518" stroke="#fff" stroke-width="0.12"/><circle cx="162.6" cy="339.5" r="0.8" fill="#ab1518" stroke="#fff" stroke-width="0.12"/><circle cx="156.9" cy="349.6" r="0.8" fill="#aa1518" stroke="#fff" stroke-width="0.12"/><circle cx="162.2" cy="341.7" r="0.8" fill="#aa1518" stroke="#fff" stroke-width="0.12"/><circle cx="152.9" cy="336.0" r="0.8" fill="#a91417" stroke="#fff" stroke-width="0.12"/><circle cx="160.6" cy="334.5" r="0.8" fill="#a91417" stroke="#fff" stroke-width="0.12"/><circle cx="154.5" cy="351.9" r="0.8" fill="#a81317" stroke="#fff" stroke-width="0.12"/><circle cx="147.9" cy="348.7" r="0.8" fill="#a71317" stroke="#fff" stroke-width="0.12"/><circle cx="151.4" cy="337.8" r="0.8" fill="#a71317" stroke="#fff" stroke-width="0.12"/><circle cx="156.6" cy="349.6" r="0.8" fill="#a71317" stroke="#fff" stroke-width="0.12"/><circle cx="148.4" cy="343.8" r="0.8" fill="#a71317" stroke="#fff" stroke-width="0.12"/><circle cx="149.9" cy="340.0" r="0.8" fill="#a71317" stroke="#fff" stroke-width="0.12"/><circle cx="153.2" cy="353.0" r="0.8" fill="#a71317" stroke="#fff" stroke-width="0.12"/><circle cx="160.2" cy="334.4" r="0.8" fill="#a61317" stroke="#fff" stroke-width="0.12"/><circle cx="152.4" cy="336.7" r="0.8" fill="#a61317" stroke="#fff" stroke-width="0.12"/><circle cx="149.4" cy="352.7" r="0.8" fill="#a61317" stroke="#fff" stroke-width="0.12"/><circle cx="162.2" cy="341.0" r="0.8" fill="#a61317" stroke="#fff" stroke-width="0.12"/><circle cx="153.1" cy="336.1" r="0.8" fill="#a61217" stroke="#fff" stroke-width="0.12"/><circle cx="148.8" cy="342.6" r="0.8" fill="#a51217" stroke="#fff" stroke-width="0.12"/><circle cx="162.3" cy="338.5" r="0.8" fill="#a51217" stroke="#fff" stroke-width="0.12"/><circle cx="162.2" cy="340.6" r="0.8" fill="#a51217" stroke="#fff" stroke-width="0.12"/><circle cx="148.1" cy="348.7" r="0.8" fill="#a51217" stroke="#fff" stroke-width="0.12"/><circle cx="148.0" cy="348.1" r="0.8" fill="#a41217" stroke="#fff" stroke-width="0.12"/><circle cx="153.2" cy="352.7" r="0.8" fill="#a41217" stroke="#fff" stroke-width="0.12"/><circle cx="162.1" cy="337.8" r="0.8" fill="#a41217" stroke="#fff" stroke-width="0.12"/><circle cx="161.7" cy="342.4" r="0.8" fill="#a41217" stroke="#fff" stroke-width="0.12"/><circle cx="149.8" cy="352.8" r="0.8" fill="#a41217" stroke="#fff" stroke-width="0.12"/><circle cx="162.1" cy="337.8" r="0.8" fill="#a41117" stroke="#fff" stroke-width="0.12"/><circle cx="149.9" cy="340.4" r="0.8" fill="#a31117" stroke="#fff" stroke-width="0.12"/><circle cx="154.0" cy="351.9" r="0.8" fill="#a31117" stroke="#fff" stroke-width="0.12"/><circle cx="149.2" cy="341.9" r="0.8" fill="#a31117" stroke="#fff" stroke-width="0.12"/><circle cx="160.2" cy="345.0" r="0.8" fill="#a21117" stroke="#fff" stroke-width="0.12"/><circle cx="156.5" cy="334.4" r="0.8" fill="#a21016" stroke="#fff" stroke-width="0.12"/><circle cx="160.5" cy="344.5" r="0.8" fill="#a21016" stroke="#fff" stroke-width="0.12"/><circle cx="149.1" cy="342.3" r="0.8" fill="#a21016" stroke="#fff" stroke-width="0.12"/><circle cx="149.2" cy="351.7" r="0.8" fill="#a21016" stroke="#fff" stroke-width="0.12"/><circle cx="160.0" cy="334.7" r="0.8" fill="#a11016" stroke="#fff" stroke-width="0.12"/><circle cx="157.0" cy="348.6" r="0.8" fill="#a11016" stroke="#fff" stroke-width="0.12"/><circle cx="161.7" cy="336.9" r="0.8" fill="#a11016" stroke="#fff" stroke-width="0.12"/><circle cx="150.7" cy="352.9" r="0.8" fill="#a11016" stroke="#fff" stroke-width="0.12"/><circle cx="155.5" cy="350.3" r="0.8" fill="#a11016" stroke="#fff" stroke-width="0.12"/><circle cx="151.9" cy="352.9" r="0.8" fill="#a11016" stroke="#fff" stroke-width="0.12"/><circle cx="151.4" cy="352.9" r="0.8" fill="#a11016" stroke="#fff" stroke-width="0.12"/><circle cx="152.6" cy="336.9" r="0.8" fill="#a01016" stroke="#fff" stroke-width="0.12"/><circle cx="148.4" cy="349.1" r="0.8" fill="#a00f16" stroke="#fff" stroke-width="0.12"/><circle cx="148.8" cy="343.4" r="0.8" fill="#a00f16" stroke="#fff" stroke-width="0.12"/><circle cx="160.1" cy="344.9" r="0.8" fill="#9f0f16" stroke="#fff" stroke-width="0.12"/><circle cx="148.4" cy="346.9" r="0.8" fill="#9e0e16" stroke="#fff" stroke-width="0.12"/><circle cx="154.3" cy="351.1" r="0.8" fill="#9e0e16" stroke="#fff" stroke-width="0.12"/><circle cx="151.9" cy="352.5" r="0.8" fill="#9d0e16" stroke="#fff" stroke-width="0.12"/><circle cx="149.0" cy="350.5" r="0.8" fill="#9d0e16" stroke="#fff" stroke-width="0.12"/><circle cx="156.8" cy="334.7" r="0.8" fill="#9d0e16" stroke="#fff" stroke-width="0.12"/><circle cx="148.6" cy="345.3" r="0.8" fill="#9c0e16" stroke="#fff" stroke-width="0.12"/><circle cx="160.8" cy="336.0" r="0.8" fill="#9c0d16" stroke="#fff" stroke-width="0.12"/><circle cx="158.5" cy="334.7" r="0.8" fill="#9c0d16" stroke="#fff" stroke-width="0.12"/><circle cx="150.2" cy="340.6" r="0.8" fill="#9b0d16" stroke="#fff" stroke-width="0.12"/><circle cx="156.6" cy="348.5" r="0.8" fill="#9b0d16" stroke="#fff" stroke-width="0.12"/><circle cx="154.7" cy="335.7" r="0.8" fill="#9b0d16" stroke="#fff" stroke-width="0.12"/><circle cx="159.6" cy="335.1" r="0.8" fill="#9b0d16" stroke="#fff" stroke-width="0.12"/><circle cx="159.3" cy="335.0" r="0.8" fill="#9b0d16" stroke="#fff" stroke-width="0.12"/><circle cx="149.9" cy="351.4" r="0.8" fill="#9b0d16" stroke="#fff" stroke-width="0.12"/><circle cx="159.8" cy="344.9" r="0.8" fill="#9a0c15" stroke="#fff" stroke-width="0.12"/><circle cx="150.9" cy="351.8" r="0.8" fill="#980b15" stroke="#fff" stroke-width="0.12"/><circle cx="148.8" cy="346.5" r="0.8" fill="#980b15" stroke="#fff" stroke-width="0.12"/><circle cx="159.4" cy="345.2" r="0.8" fill="#980b15" stroke="#fff" stroke-width="0.12"/><circle cx="152.6" cy="351.4" r="0.8" fill="#960a15" stroke="#fff" stroke-width="0.12"/><circle cx="149.8" cy="350.5" r="0.8" fill="#960a15" stroke="#fff" stroke-width="0.12"/><circle cx="152.8" cy="337.5" r="0.8" fill="#960a15" stroke="#fff" stroke-width="0.12"/><circle cx="154.0" cy="350.3" r="0.8" fill="#950a15" stroke="#fff" stroke-width="0.12"/><circle cx="157.2" cy="335.2" r="0.8" fill="#950a15" stroke="#fff" stroke-width="0.12"/><circle cx="149.3" cy="348.9" r="0.8" fill="#950915" stroke="#fff" stroke-width="0.12"/><circle cx="158.8" cy="345.6" r="0.8" fill="#950915" stroke="#fff" stroke-width="0.12"/><circle cx="152.7" cy="351.1" r="0.8" fill="#940915" stroke="#fff" stroke-width="0.12"/><circle cx="158.6" cy="345.8" r="0.8" fill="#940915" stroke="#fff" stroke-width="0.12"/><circle cx="149.5" cy="343.4" r="0.8" fill="#940915" stroke="#fff" stroke-width="0.12"/><circle cx="150.4" cy="341.1" r="0.8" fill="#940915" stroke="#fff" stroke-width="0.12"/><circle cx="150.1" cy="350.5" r="0.8" fill="#940915" stroke="#fff" stroke-width="0.12"/><circle cx="153.0" cy="337.5" r="0.8" fill="#930915" stroke="#fff" stroke-width="0.12"/><circle cx="153.2" cy="350.7" r="0.8" fill="#930915" stroke="#fff" stroke-width="0.12"/><circle cx="153.9" cy="350.2" r="0.8" fill="#930915" stroke="#fff" stroke-width="0.12"/><circle cx="158.8" cy="335.4" r="0.8" fill="#930814" stroke="#fff" stroke-width="0.12"/><circle cx="151.3" cy="339.7" r="0.8" fill="#930814" stroke="#fff" stroke-width="0.12"/><circle cx="150.3" cy="341.3" r="0.8" fill="#930814" stroke="#fff" stroke-width="0.12"/><circle cx="157.0" cy="347.3" r="0.8" fill="#930814" stroke="#fff" stroke-width="0.12"/><circle cx="160.4" cy="343.0" r="0.8" fill="#920814" stroke="#fff" stroke-width="0.12"/><circle cx="161.3" cy="339.8" r="0.8" fill="#920814" stroke="#fff" stroke-width="0.12"/><circle cx="152.9" cy="350.7" r="0.8" fill="#920814" stroke="#fff" stroke-width="0.12"/><circle cx="151.9" cy="351.0" r="0.8" fill="#910814" stroke="#fff" stroke-width="0.12"/><circle cx="154.6" cy="336.4" r="0.8" fill="#910814" stroke="#fff" stroke-width="0.12"/><circle cx="152.1" cy="350.9" r="0.8" fill="#910814" stroke="#fff" stroke-width="0.12"/><circle cx="160.9" cy="337.9" r="0.8" fill="#910714" stroke="#fff" stroke-width="0.12"/><circle cx="150.0" cy="349.8" r="0.8" fill="#910714" stroke="#fff" stroke-width="0.12"/><circle cx="159.7" cy="336.1" r="0.8" fill="#910714" stroke="#fff" stroke-width="0.12"/><circle cx="149.4" cy="346.7" r="0.8" fill="#900714" stroke="#fff" stroke-width="0.12"/><circle cx="158.3" cy="335.6" r="0.8" fill="#900714" stroke="#fff" stroke-width="0.12"/><circle cx="151.8" cy="350.7" r="0.8" fill="#8f0714" stroke="#fff" stroke-width="0.12"/><circle cx="160.7" cy="337.7" r="0.8" fill="#8f0714" stroke="#fff" stroke-width="0.12"/><circle cx="149.4" cy="346.4" r="0.8" fill="#8f0614" stroke="#fff" stroke-width="0.12"/><circle cx="160.8" cy="338.1" r="0.8" fill="#8f0614" stroke="#fff" stroke-width="0.12"/><circle cx="149.8" cy="348.9" r="0.8" fill="#8f0614" stroke="#fff" stroke-width="0.12"/><circle cx="150.4" cy="341.7" r="0.8" fill="#8f0614" stroke="#fff" stroke-width="0.12"/><circle cx="149.9" cy="349.1" r="0.8" fill="#8f0614" stroke="#fff" stroke-width="0.12"/><circle cx="152.2" cy="338.7" r="0.8" fill="#8f0614" stroke="#fff" stroke-width="0.12"/><circle cx="160.9" cy="338.2" r="0.8" fill="#8f0614" stroke="#fff" stroke-width="0.12"/><circle cx="149.5" cy="346.5" r="0.8" fill="#8e0614" stroke="#fff" stroke-width="0.12"/><circle cx="153.0" cy="350.2" r="0.8" fill="#8e0614" stroke="#fff" stroke-width="0.12"/><circle cx="158.2" cy="345.7" r="0.8" fill="#8e0614" stroke="#fff" stroke-width="0.12"/><circle cx="160.8" cy="338.2" r="0.8" fill="#8e0614" stroke="#fff" stroke-width="0.12"/><circle cx="149.5" cy="346.1" r="0.8" fill="#8e0614" stroke="#fff" stroke-width="0.12"/><circle cx="149.5" cy="346.5" r="0.8" fill="#8e0614" stroke="#fff" stroke-width="0.12"/><circle cx="156.8" cy="335.8" r="0.8" fill="#8d0514" stroke="#fff" stroke-width="0.12"/><circle cx="150.8" cy="341.1" r="0.8" fill="#8d0514" stroke="#fff" stroke-width="0.12"/><circle cx="160.3" cy="337.3" r="0.8" fill="#8c0514" stroke="#fff" stroke-width="0.12"/><circle cx="158.6" cy="336.0" r="0.8" fill="#8c0514" stroke="#fff" stroke-width="0.12"/><circle cx="152.5" cy="350.1" r="0.8" fill="#8c0514" stroke="#fff" stroke-width="0.12"/><circle cx="149.9" cy="343.6" r="0.8" fill="#8c0514" stroke="#fff" stroke-width="0.12"/><circle cx="150.1" cy="348.5" r="0.8" fill="#8c0514" stroke="#fff" stroke-width="0.12"/><circle cx="159.9" cy="337.2" r="0.8" fill="#8c0514" stroke="#fff" stroke-width="0.12"/><circle cx="154.8" cy="339.0" r="0.8" fill="#8c0514" stroke="#fff" stroke-width="0.12"/><circle cx="153.3" cy="344.8" r="0.8" fill="#8c0514" stroke="#fff" stroke-width="0.12"/><circle cx="155.0" cy="337.5" r="0.8" fill="#8c0514" stroke="#fff" stroke-width="0.12"/><circle cx="153.7" cy="342.4" r="0.8" fill="#8c0514" stroke="#fff" stroke-width="0.12"/><circle cx="155.6" cy="347.1" r="0.8" fill="#8c0514" stroke="#fff" stroke-width="0.12"/><circle cx="154.2" cy="340.4" r="0.8" fill="#8c0514" stroke="#fff" stroke-width="0.12"/><circle cx="153.3" cy="338.7" r="0.8" fill="#8c0514" stroke="#fff" stroke-width="0.12"/><circle cx="154.2" cy="345.2" r="0.8" fill="#8c0514" stroke="#fff" stroke-width="0.12"/><circle cx="159.5" cy="342.8" r="0.8" fill="#8c0514" stroke="#fff" stroke-width="0.12"/><circle cx="155.9" cy="342.2" r="0.8" fill="#8c0514" stroke="#fff" stroke-width="0.12"/><circle cx="156.4" cy="343.5" r="0.8" fill="#8c0514" stroke="#fff" stroke-width="0.12"/><circle cx="153.1" cy="348.3" r="0.8" fill="#8c0514" stroke="#fff" stroke-width="0.12"/><circle cx="153.7" cy="349.3" r="0.8" fill="#8c0514" stroke="#fff" stroke-width="0.12"/><circle cx="149.9" cy="345.8" r="0.8" fill="#8c0514" stroke="#fff" stroke-width="0.12"/><circle cx="155.3" cy="343.0" r="0.8" fill="#8c0514" stroke="#fff" stroke-width="0.12"/><circle cx="154.7" cy="344.7" r="0.8" fill="#8c0514" stroke="#fff" stroke-width="0.12"/><circle cx="160.5" cy="339.6" r="0.8" fill="#8c0514" stroke="#fff" stroke-width="0.12"/><circle cx="155.9" cy="343.3" r="0.8" fill="#8c0514" stroke="#fff" stroke-width="0.12"/><circle cx="153.1" cy="342.0" r="0.8" fill="#8c0514" stroke="#fff" stroke-width="0.12"/><circle cx="150.9" cy="344.3" r="0.8" fill="#8c0514" stroke="#fff" stroke-width="0.12"/><circle cx="157.2" cy="342.4" r="0.8" fill="#8c0514" stroke="#fff" stroke-width="0.12"/><circle cx="159.9" cy="337.6" r="0.8" fill="#8c0514" stroke="#fff" stroke-width="0.12"/><circle cx="152.4" cy="348.6" r="0.8" fill="#8c0514" stroke="#fff" stroke-width="0.12"/><circle cx="158.7" cy="338.2" r="0.8" fill="#8c0514" stroke="#fff" stroke-width="0.12"/><circle cx="152.2" cy="347.0" r="0.8" fill="#8c0514" stroke="#fff" stroke-width="0.12"/><circle cx="152.6" cy="346.1" r="0.8" fill="#8c0514" stroke="#fff" stroke-width="0.12"/><circle cx="156.6" cy="341.2" r="0.8" fill="#8c0514" stroke="#fff" stroke-width="0.12"/><circle cx="160.2" cy="341.7" r="0.8" fill="#8c0514" stroke="#fff" stroke-width="0.12"/><circle cx="155.2" cy="345.0" r="0.8" fill="#8c0514" stroke="#fff" stroke-width="0.12"/><circle cx="153.1" cy="347.5" r="0.8" fill="#8c0514" stroke="#fff" stroke-width="0.12"/><circle cx="151.7" cy="348.0" r="0.8" fill="#8c0514" stroke="#fff" stroke-width="0.12"/><circle cx="158.9" cy="339.1" r="0.8" fill="#8c0514" stroke="#fff" stroke-width="0.12"/><circle cx="158.6" cy="340.1" r="0.8" fill="#8c0514" stroke="#fff" stroke-width="0.12"/><circle cx="156.0" cy="343.1" r="0.8" fill="#8c0514" stroke="#fff" stroke-width="0.12"/><circle cx="154.9" cy="340.5" r="0.8" fill="#8c0514" stroke="#fff" stroke-width="0.12"/><circle cx="155.7" cy="337.6" r="0.8" fill="#8c0514" stroke="#fff" stroke-width="0.12"/><circle cx="156.0" cy="337.9" r="0.8" fill="#8c0514" stroke="#fff" stroke-width="0.12"/><circle cx="157.7" cy="338.9" r="0.8" fill="#8c0514" stroke="#fff" stroke-width="0.12"/><circle cx="159.0" cy="338.8" r="0.8" fill="#8c0514" stroke="#fff" stroke-width="0.12"/><circle cx="153.3" cy="344.1" r="0.8" fill="#8c0514" stroke="#fff" stroke-width="0.12"/><circle cx="153.9" cy="338.0" r="0.8" fill="#8c0514" stroke="#fff" stroke-width="0.12"/><circle cx="156.7" cy="342.1" r="0.8" fill="#8c0514" stroke="#fff" stroke-width="0.12"/><circle cx="152.7" cy="339.5" r="0.8" fill="#8c0514" stroke="#fff" stroke-width="0.12"/><circle cx="154.0" cy="338.8" r="0.8" fill="#8c0514" stroke="#fff" stroke-width="0.12"/><circle cx="158.9" cy="340.3" r="0.8" fill="#8c0514" stroke="#fff" stroke-width="0.12"/><circle cx="151.8" cy="345.1" r="0.8" fill="#8c0514" stroke="#fff" stroke-width="0.12"/><circle cx="158.4" cy="343.8" r="0.8" fill="#8c0514" stroke="#fff" stroke-width="0.12"/><circle cx="159.6" cy="342.2" r="0.8" fill="#8c0514" stroke="#fff" stroke-width="0.12"/><circle cx="152.4" cy="345.5" r="0.8" fill="#8c0514" stroke="#fff" stroke-width="0.12"/><circle cx="152.9" cy="342.3" r="0.8" fill="#8c0514" stroke="#fff" stroke-width="0.12"/><circle cx="150.3" cy="343.1" r="0.8" fill="#8c0514" stroke="#fff" stroke-width="0.12"/><circle cx="159.4" cy="341.8" r="0.8" fill="#8c0514" stroke="#fff" stroke-width="0.12"/><circle cx="156.4" cy="342.2" r="0.8" fill="#8c0514" stroke="#fff" stroke-width="0.12"/><circle cx="154.8" cy="342.9" r="0.8" fill="#8c0514" stroke="#fff" stroke-width="0.12"/><circle cx="160.4" cy="339.0" r="0.8" fill="#8c0514" stroke="#fff" stroke-width="0.12"/><circle cx="156.2" cy="340.0" r="0.8" fill="#8c0514" stroke="#fff" stroke-width="0.12"/><circle cx="151.9" cy="348.3" r="0.8" fill="#8c0514" stroke="#fff" stroke-width="0.12"/><circle cx="150.7" cy="347.2" r="0.8" fill="#8c0514" stroke="#fff" stroke-width="0.12"/><circle cx="152.9" cy="346.9" r="0.8" fill="#8c0514" stroke="#fff" stroke-width="0.12"/><circle cx="159.8" cy="342.6" r="0.8" fill="#8c0514" stroke="#fff" stroke-width="0.12"/><circle cx="151.9" cy="340.4" r="0.8" fill="#8c0514" stroke="#fff" stroke-width="0.12"/><circle cx="152.7" cy="340.7" r="0.8" fill="#8c0514" stroke="#fff" stroke-width="0.12"/><circle cx="151.9" cy="342.0" r="0.8" fill="#8c0514" stroke="#fff" stroke-width="0.12"/><circle cx="154.7" cy="346.6" r="0.8" fill="#8c0514" stroke="#fff" stroke-width="0.12"/><circle cx="160.3" cy="340.8" r="0.8" fill="#8c0514" stroke="#fff" stroke-width="0.12"/><circle cx="150.6" cy="348.0" r="0.8" fill="#8c0514" stroke="#fff" stroke-width="0.12"/><circle cx="154.0" cy="345.4" r="0.8" fill="#8c0514" stroke="#fff" stroke-width="0.12"/><circle cx="160.0" cy="338.9" r="0.8" fill="#8c0514" stroke="#fff" stroke-width="0.12"/><circle cx="156.5" cy="339.1" r="0.8" fill="#8c0514" stroke="#fff" stroke-width="0.12"/><circle cx="157.9" cy="337.2" r="0.8" fill="#8c0514" stroke="#fff" stroke-width="0.12"/><circle cx="150.9" cy="343.4" r="0.8" fill="#8c0514" stroke="#fff" stroke-width="0.12"/><circle cx="159.6" cy="342.0" r="0.8" fill="#8c0514" stroke="#fff" stroke-width="0.12"/><circle cx="154.8" cy="346.6" r="0.8" fill="#8c0514" stroke="#fff" stroke-width="0.12"/><circle cx="151.2" cy="347.1" r="0.8" fill="#8c0514" stroke="#fff" stroke-width="0.12"/><circle cx="155.0" cy="340.3" r="0.8" fill="#8c0514" stroke="#fff" stroke-width="0.12"/><circle cx="154.2" cy="344.2" r="0.8" fill="#8c0514" stroke="#fff" stroke-width="0.12"/><circle cx="157.8" cy="342.8" r="0.8" fill="#8c0514" stroke="#fff" stroke-width="0.12"/><circle cx="157.0" cy="338.1" r="0.8" fill="#8c0514" stroke="#fff" stroke-width="0.12"/><circle cx="157.5" cy="340.2" r="0.8" fill="#8c0514" stroke="#fff" stroke-width="0.12"/><circle cx="151.8" cy="347.2" r="0.8" fill="#8c0514" stroke="#fff" stroke-width="0.12"/><circle cx="154.5" cy="342.9" r="0.8" fill="#8c0514" stroke="#fff" stroke-width="0.12"/><circle cx="158.4" cy="337.1" r="0.8" fill="#8c0514" stroke="#fff" stroke-width="0.12"/><circle cx="160.0" cy="342.9" r="0.8" fill="#8c0514" stroke="#fff" stroke-width="0.12"/><circle cx="151.7" cy="340.2" r="0.8" fill="#8c0514" stroke="#fff" stroke-width="0.12"/><circle cx="153.2" cy="341.3" r="0.8" fill="#8c0514" stroke="#fff" stroke-width="0.12"/><circle cx="159.5" cy="339.5" r="0.8" fill="#8c0514" stroke="#fff" stroke-width="0.12"/><circle cx="154.8" cy="348.5" r="0.8" fill="#8c0514" stroke="#fff" stroke-width="0.12"/><circle cx="159.0" cy="339.6" r="0.8" fill="#8c0514" stroke="#fff" stroke-width="0.12"/><circle cx="150.6" cy="348.3" r="0.8" fill="#8c0514" stroke="#fff" stroke-width="0.12"/><circle cx="153.6" cy="343.6" r="0.8" fill="#8c0514" stroke="#fff" stroke-width="0.12"/><circle cx="156.2" cy="338.4" r="0.8" fill="#8c0514" stroke="#fff" stroke-width="0.12"/><circle cx="158.2" cy="340.7" r="0.8" fill="#8c0514" stroke="#fff" stroke-width="0.12"/><circle cx="159.6" cy="338.9" r="0.8" fill="#8c0514" stroke="#fff" stroke-width="0.12"/><circle cx="155.9" cy="341.2" r="0.8" fill="#8c0514" stroke="#fff" stroke-width="0.12"/><circle cx="157.8" cy="345.0" r="0.8" fill="#8c0514" stroke="#fff" stroke-width="0.12"/><circle cx="160.1" cy="340.7" r="0.8" fill="#8c0514" stroke="#fff" stroke-width="0.12"/><circle cx="154.5" cy="348.2" r="0.8" fill="#8c0514" stroke="#fff" stroke-width="0.12"/><circle cx="156.7" cy="338.2" r="0.8" fill="#8c0514" stroke="#fff" stroke-width="0.12"/><circle cx="151.7" cy="347.8" r="0.8" fill="#8c0514" stroke="#fff" stroke-width="0.12"/><circle cx="151.2" cy="342.2" r="0.8" fill="#8c0514" stroke="#fff" stroke-width="0.12"/><circle cx="155.3" cy="342.3" r="0.8" fill="#8c0514" stroke="#fff" stroke-width="0.12"/><circle cx="160.8" cy="340.2" r="0.8" fill="#8c0514" stroke="#fff" stroke-width="0.12"/><circle cx="159.9" cy="340.2" r="0.8" fill="#8c0514" stroke="#fff" stroke-width="0.12"/><circle cx="158.6" cy="337.1" r="0.8" fill="#8c0514" stroke="#fff" stroke-width="0.12"/><circle cx="154.4" cy="344.6" r="0.8" fill="#8c0514" stroke="#fff" stroke-width="0.12"/><circle cx="156.0" cy="344.4" r="0.8" fill="#8c0514" stroke="#fff" stroke-width="0.12"/><circle cx="150.9" cy="347.7" r="0.8" fill="#8c0514" stroke="#fff" stroke-width="0.12"/><circle cx="154.8" cy="346.6" r="0.8" fill="#8c0514" stroke="#fff" stroke-width="0.12"/><circle cx="159.4" cy="337.7" r="0.8" fill="#8c0514" stroke="#fff" stroke-width="0.12"/><circle cx="151.5" cy="341.6" r="0.8" fill="#8c0514" stroke="#fff" stroke-width="0.12"/><circle cx="159.6" cy="343.6" r="0.8" fill="#8c0514" stroke="#fff" stroke-width="0.12"/><circle cx="159.9" cy="340.1" r="0.8" fill="#8c0514" stroke="#fff" stroke-width="0.12"/><circle cx="154.5" cy="341.8" r="0.8" fill="#8c0514" stroke="#fff" stroke-width="0.12"/><circle cx="157.2" cy="336.6" r="0.8" fill="#8c0514" stroke="#fff" stroke-width="0.12"/><circle cx="155.3" cy="341.2" r="0.8" fill="#8c0514" stroke="#fff" stroke-width="0.12"/><circle cx="154.5" cy="338.3" r="0.8" fill="#8c0514" stroke="#fff" stroke-width="0.12"/><circle cx="152.6" cy="339.8" r="0.8" fill="#8c0514" stroke="#fff" stroke-width="0.12"/><circle cx="158.3" cy="341.9" r="0.8" fill="#8c0514" stroke="#fff" stroke-width="0.12"/><circle cx="153.5" cy="338.1" r="0.8" fill="#8c0514" stroke="#fff" stroke-width="0.12"/><circle cx="156.8" cy="338.4" r="0.8" fill="#8c0514" stroke="#fff" stroke-width="0.12"/><circle cx="157.0" cy="344.2" r="0.8" fill="#8c0514" stroke="#fff" stroke-width="0.12"/><circle cx="154.6" cy="340.6" r="0.8" fill="#8c0514" stroke="#fff" stroke-width="0.12"/><circle cx="155.6" cy="336.6" r="0.8" fill="#8c0514" stroke="#fff" stroke-width="0.12"/><circle cx="154.1" cy="339.1" r="0.8" fill="#8c0514" stroke="#fff" stroke-width="0.12"/><circle cx="154.0" cy="344.6" r="0.8" fill="#8c0514" stroke="#fff" stroke-width="0.12"/><circle cx="152.8" cy="338.8" r="0.8" fill="#8c0514" stroke="#fff" stroke-width="0.12"/><circle cx="159.0" cy="342.5" r="0.8" fill="#8c0514" stroke="#fff" stroke-width="0.12"/><circle cx="150.5" cy="343.8" r="0.8" fill="#8c0514" stroke="#fff" stroke-width="0.12"/><circle cx="156.1" cy="339.7" r="0.8" fill="#8c0514" stroke="#fff" stroke-width="0.12"/><circle cx="155.2" cy="347.0" r="0.8" fill="#8c0514" stroke="#fff" stroke-width="0.12"/><circle cx="160.3" cy="341.5" r="0.8" fill="#8c0514" stroke="#fff" stroke-width="0.12"/><circle cx="152.4" cy="343.4" r="0.8" fill="#8c0514" stroke="#fff" stroke-width="0.12"/><circle cx="159.3" cy="343.9" r="0.8" fill="#8c0514" stroke="#fff" stroke-width="0.12"/><circle cx="160.1" cy="341.2" r="0.8" fill="#8c0514" stroke="#fff" stroke-width="0.12"/><circle cx="151.5" cy="344.7" r="0.8" fill="#8c0514" stroke="#fff" stroke-width="0.12"/><circle cx="158.3" cy="342.5" r="0.8" fill="#8c0514" stroke="#fff" stroke-width="0.12"/><circle cx="154.5" cy="344.4" r="0.8" fill="#8c0514" stroke="#fff" stroke-width="0.12"/><circle cx="152.8" cy="344.1" r="0.8" fill="#8c0514" stroke="#fff" stroke-width="0.12"/><circle cx="156.6" cy="345.1" r="0.8" fill="#8c0514" stroke="#fff" stroke-width="0.12"/><circle cx="151.8" cy="343.6" r="0.8" fill="#8c0514" stroke="#fff" stroke-width="0.12"/><circle cx="154.0" cy="342.1" r="0.8" fill="#8c0514" stroke="#fff" stroke-width="0.12"/><circle cx="158.3" cy="338.4" r="0.8" fill="#8c0514" stroke="#fff" stroke-width="0.12"/><circle cx="154.3" cy="346.0" r="0.8" fill="#8c0514" stroke="#fff" stroke-width="0.12"/><circle cx="152.0" cy="347.2" r="0.8" fill="#8c0514" stroke="#fff" stroke-width="0.12"/><circle cx="154.1" cy="340.5" r="0.8" fill="#8c0514" stroke="#fff" stroke-width="0.12"/><circle cx="157.8" cy="336.2" r="0.8" fill="#8c0514" stroke="#fff" stroke-width="0.12"/><circle cx="155.8" cy="337.9" r="0.8" fill="#8c0514" stroke="#fff" stroke-width="0.12"/><circle cx="159.4" cy="342.8" r="0.8" fill="#8c0514" stroke="#fff" stroke-width="0.12"/><circle cx="151.8" cy="341.3" r="0.8" fill="#8c0514" stroke="#fff" stroke-width="0.12"/><circle cx="155.0" cy="346.0" r="0.55" fill="#fff"/><circle cx="159.3" cy="348.0" r="0.55" fill="#fff"/><circle cx="159.9" cy="343.1" r="0.55" fill="#fff"/><circle cx="155.9" cy="342.5" r="0.55" fill="#fff"/><circle cx="151.1" cy="347.3" r="0.55" fill="#fff"/><circle cx="160.0" cy="343.1" r="0.55" fill="#fff"/><circle cx="154.4" cy="342.9" r="0.55" fill="#fff"/><circle cx="151.9" cy="340.5" r="0.55" fill="#fff"/><circle cx="151.0" cy="347.6" r="0.55" fill="#fff"/><circle cx="148.7" cy="349.3" r="0.55" fill="#fff"/><circle cx="151.5" cy="342.7" r="0.55" fill="#fff"/><circle cx="151.6" cy="339.7" r="0.55" fill="#fff"/><circle cx="156.3" cy="333.9" r="0.55" fill="#fff"/><circle cx="150.0" cy="348.8" r="0.55" fill="#fff"/><circle cx="149.5" cy="354.7" r="0.55" fill="#fff"/><circle cx="151.7" cy="337.9" r="0.55" fill="#fff"/><circle cx="148.6" cy="348.3" r="0.55" fill="#fff"/><circle cx="156.8" cy="343.6" r="0.55" fill="#fff"/><circle cx="149.4" cy="348.5" r="0.55" fill="#fff"/><circle cx="149.1" cy="339.8" r="0.55" fill="#fff"/><circle cx="160.4" cy="340.0" r="0.55" fill="#fff"/><circle cx="157.1" cy="339.0" r="0.55" fill="#fff"/><circle cx="154.0" cy="347.3" r="0.55" fill="#fff"/><circle cx="160.0" cy="334.4" r="0.55" fill="#fff"/><circle cx="154.0" cy="344.1" r="0.55" fill="#fff"/><circle cx="152.3" cy="346.3" r="0.55" fill="#fff"/><circle cx="150.9" cy="352.8" r="0.55" fill="#fff"/><circle cx="158.4" cy="338.6" r="0.55" fill="#fff"/><circle cx="150.3" cy="353.3" r="0.55" fill="#fff"/><circle cx="159.4" cy="334.3" r="0.55" fill="#fff"/><circle cx="160.0" cy="342.7" r="0.55" fill="#fff"/><circle cx="156.0" cy="345.0" r="0.55" fill="#fff"/><circle cx="150.9" cy="348.2" r="0.55" fill="#fff"/><circle cx="154.1" cy="341.9" r="0.55" fill="#fff"/><circle cx="150.2" cy="347.5" r="0.55" fill="#fff"/><circle cx="155.9" cy="349.6" r="0.55" fill="#fff"/><circle cx="156.6" cy="339.8" r="0.55" fill="#fff"/><circle cx="158.9" cy="338.9" r="0.55" fill="#fff"/><circle cx="160.8" cy="337.9" r="0.55" fill="#fff"/><circle cx="155.7" cy="346.7" r="0.55" fill="#fff"/><circle cx="155.3" cy="344.9" r="0.55" fill="#fff"/><circle cx="161.6" cy="344.9" r="0.55" fill="#fff"/><circle cx="160.0" cy="335.2" r="0.55" fill="#fff"/><circle cx="152.0" cy="355.7" r="0.55" fill="#fff"/><circle cx="153.6" cy="350.6" r="0.55" fill="#fff"/><circle cx="148.9" cy="346.2" r="0.55" fill="#fff"/><circle cx="157.5" cy="342.2" r="0.55" fill="#fff"/><circle cx="152.2" cy="351.2" r="0.55" fill="#fff"/><circle cx="159.7" cy="342.7" r="0.55" fill="#fff"/><circle cx="157.6" cy="348.9" r="0.55" fill="#fff"/><circle cx="150.0" cy="349.6" r="0.55" fill="#fff"/><circle cx="159.6" cy="346.2" r="0.55" fill="#fff"/><circle cx="158.8" cy="340.3" r="0.55" fill="#fff"/><circle cx="148.0" cy="343.3" r="0.55" fill="#fff"/><circle cx="154.3" cy="351.2" r="0.55" fill="#fff"/><circle cx="160.7" cy="338.9" r="0.55" fill="#fff"/><circle cx="154.0" cy="334.6" r="0.55" fill="#fff"/><circle cx="150.6" cy="354.6" r="0.55" fill="#fff"/><circle cx="152.6" cy="338.5" r="0.55" fill="#fff"/><circle cx="161.7" cy="338.7" r="0.55" fill="#fff"/><circle cx="158.9" cy="340.0" r="0.55" fill="#fff"/><circle cx="153.6" cy="350.5" r="0.55" fill="#fff"/><circle cx="150.0" cy="341.6" r="0.55" fill="#fff"/><circle cx="158.5" cy="337.0" r="0.55" fill="#fff"/><circle cx="152.6" cy="352.3" r="0.55" fill="#fff"/><circle cx="152.5" cy="345.2" r="0.55" fill="#fff"/><circle cx="148.5" cy="348.1" r="0.55" fill="#fff"/><circle cx="150.3" cy="340.8" r="0.55" fill="#fff"/><circle cx="158.8" cy="341.9" r="0.55" fill="#fff"/><circle cx="160.0" cy="336.9" r="0.55" fill="#fff"/><circle cx="146.7" cy="350.0" r="0.55" fill="#fff"/><circle cx="160.0" cy="339.3" r="0.55" fill="#fff"/><circle cx="159.9" cy="342.3" r="0.55" fill="#fff"/><circle cx="156.3" cy="341.3" r="0.55" fill="#fff"/><circle cx="156.6" cy="342.9" r="0.55" fill="#fff"/><circle cx="160.1" cy="345.6" r="0.55" fill="#fff"/><circle cx="153.1" cy="340.8" r="0.55" fill="#fff"/><circle cx="152.5" cy="336.2" r="0.55" fill="#fff"/><circle cx="159.2" cy="344.0" r="0.55" fill="#fff"/><circle cx="161.0" cy="338.6" r="0.55" fill="#fff"/><circle cx="157.3" cy="350.3" r="0.55" fill="#fff"/><circle cx="161.4" cy="341.3" r="0.55" fill="#fff"/><circle cx="158.0" cy="338.8" r="0.55" fill="#fff"/><circle cx="150.6" cy="343.8" r="0.55" fill="#fff"/><circle cx="154.1" cy="344.0" r="0.55" fill="#fff"/><circle cx="154.5" cy="342.5" r="0.55" fill="#fff"/><circle cx="151.7" cy="347.4" r="0.55" fill="#fff"/><circle cx="148.1" cy="343.6" r="0.55" fill="#fff"/><circle cx="152.1" cy="345.3" r="0.55" fill="#fff"/><circle cx="149.1" cy="346.0" r="0.55" fill="#fff"/><circle cx="156.8" cy="349.6" r="0.55" fill="#fff"/><circle cx="154.4" cy="351.1" r="0.55" fill="#fff"/><circle cx="159.2" cy="335.8" r="0.55" fill="#fff"/><circle cx="157.2" cy="336.7" r="0.55" fill="#fff"/><circle cx="156.8" cy="339.4" r="0.55" fill="#fff"/><circle cx="159.4" cy="340.0" r="0.55" fill="#fff"/><circle cx="152.6" cy="342.1" r="0.55" fill="#fff"/><circle cx="152.1" cy="337.1" r="0.55" fill="#fff"/><circle cx="159.9" cy="340.4" r="0.55" fill="#fff"/><circle cx="152.0" cy="352.0" r="0.55" fill="#fff"/><circle cx="151.4" cy="340.6" r="0.55" fill="#fff"/><circle cx="163.0" cy="338.8" r="0.55" fill="#fff"/><circle cx="155.8" cy="338.8" r="0.55" fill="#fff"/><circle cx="150.0" cy="352.9" r="0.55" fill="#fff"/><circle cx="152.9" cy="337.7" r="0.55" fill="#fff"/><circle cx="152.6" cy="335.3" r="0.55" fill="#fff"/><circle cx="156.4" cy="337.5" r="0.55" fill="#fff"/><circle cx="148.8" cy="343.1" r="0.55" fill="#fff"/><circle cx="158.8" cy="345.9" r="0.55" fill="#fff"/><circle cx="150.5" cy="340.9" r="0.55" fill="#fff"/><circle cx="150.5" cy="346.3" r="0.55" fill="#fff"/><circle cx="159.0" cy="341.5" r="0.55" fill="#fff"/><circle cx="150.5" cy="345.3" r="0.55" fill="#fff"/><circle cx="150.5" cy="349.0" r="0.55" fill="#fff"/><circle cx="148.8" cy="344.2" r="0.55" fill="#fff"/><circle cx="148.9" cy="345.3" r="0.55" fill="#fff"/><circle cx="152.9" cy="345.2" r="0.55" fill="#fff"/><circle cx="155.6" cy="342.7" r="0.55" fill="#fff"/><circle cx="160.1" cy="341.1" r="0.55" fill="#fff"/><circle cx="148.6" cy="353.7" r="0.55" fill="#fff"/><circle cx="153.5" cy="343.7" r="0.55" fill="#fff"/><circle cx="159.8" cy="336.4" r="0.55" fill="#fff"/><circle cx="158.2" cy="345.0" r="0.55" fill="#fff"/><circle cx="158.3" cy="337.2" r="0.55" fill="#fff"/><circle cx="153.1" cy="351.4" r="0.55" fill="#fff"/><circle cx="159.3" cy="338.3" r="0.55" fill="#fff"/><circle cx="158.3" cy="345.6" r="0.55" fill="#fff"/><circle cx="154.7" cy="345.9" r="0.55" fill="#fff"/><circle cx="153.0" cy="341.5" r="0.55" fill="#fff"/><circle cx="153.3" cy="339.3" r="0.55" fill="#fff"/><circle cx="152.8" cy="354.3" r="0.55" fill="#fff"/><circle cx="151.0" cy="347.3" r="0.55" fill="#fff"/><circle cx="149.3" cy="342.5" r="0.55" fill="#fff"/><circle cx="153.6" cy="344.9" r="0.55" fill="#fff"/><circle cx="152.6" cy="346.5" r="0.55" fill="#fff"/><circle cx="152.4" cy="336.2" r="0.55" fill="#fff"/><circle cx="147.0" cy="344.1" r="0.55" fill="#fff"/><circle cx="161.9" cy="339.0" r="0.55" fill="#fff"/><circle cx="161.5" cy="341.8" r="0.55" fill="#fff"/><circle cx="151.1" cy="341.6" r="0.55" fill="#fff"/><circle cx="154.5" cy="340.8" r="0.55" fill="#fff"/><circle cx="159.7" cy="339.3" r="0.55" fill="#fff"/><circle cx="161.1" cy="336.8" r="0.55" fill="#fff"/></g>
<rect x="102.5" y="274.1" width="117.5" height="117.2" fill="none" stroke="#6da544" stroke-width="2.4"/>
<line x1="98.4" y1="391.3" x2="101.3" y2="391.3" stroke="#000" stroke-width="1.1"/>
<text x="95.2" y="394.0" font-size="9.4" text-anchor="end" font-weight="normal" fill="#222"  stroke="#222" stroke-width="0.3">0</text>
<line x1="98.4" y1="367.8" x2="101.3" y2="367.8" stroke="#000" stroke-width="1.1"/>
<text x="95.2" y="370.5" font-size="9.4" text-anchor="end" font-weight="normal" fill="#222"  stroke="#222" stroke-width="0.3">0.02</text>
<line x1="98.4" y1="344.3" x2="101.3" y2="344.3" stroke="#000" stroke-width="1.1"/>
<text x="95.2" y="347.0" font-size="9.4" text-anchor="end" font-weight="normal" fill="#222"  stroke="#222" stroke-width="0.3">0.04</text>
<line x1="98.4" y1="320.8" x2="101.3" y2="320.8" stroke="#000" stroke-width="1.1"/>
<text x="95.2" y="323.5" font-size="9.4" text-anchor="end" font-weight="normal" fill="#222"  stroke="#222" stroke-width="0.3">0.06</text>
<line x1="98.4" y1="297.3" x2="101.3" y2="297.3" stroke="#000" stroke-width="1.1"/>
<text x="95.2" y="300.0" font-size="9.4" text-anchor="end" font-weight="normal" fill="#222"  stroke="#222" stroke-width="0.3">0.08</text>
<line x1="98.4" y1="273.8" x2="101.3" y2="273.8" stroke="#000" stroke-width="1.1"/>
<text x="95.2" y="276.5" font-size="9.4" text-anchor="end" font-weight="normal" fill="#222"  stroke="#222" stroke-width="0.3">0.1</text>
<line x1="102.5" y1="392.5" x2="102.5" y2="395.1" stroke="#000" stroke-width="1.1"/>
<line x1="119.3" y1="392.5" x2="119.3" y2="395.1" stroke="#000" stroke-width="1.1"/>
<line x1="136.1" y1="392.5" x2="136.1" y2="395.1" stroke="#000" stroke-width="1.1"/>
<line x1="152.9" y1="392.5" x2="152.9" y2="395.1" stroke="#000" stroke-width="1.1"/>
<line x1="169.7" y1="392.5" x2="169.7" y2="395.1" stroke="#000" stroke-width="1.1"/>
<line x1="186.4" y1="392.5" x2="186.4" y2="395.1" stroke="#000" stroke-width="1.1"/>
<line x1="203.2" y1="392.5" x2="203.2" y2="395.1" stroke="#000" stroke-width="1.1"/>
<line x1="220.0" y1="392.5" x2="220.0" y2="395.1" stroke="#000" stroke-width="1.1"/>
<line x1="119.3" y1="399.0" x2="119.3" y2="515.0" stroke="#eceff4" stroke-width="0.6"/>
<line x1="136.1" y1="399.0" x2="136.1" y2="515.0" stroke="#eceff4" stroke-width="0.6"/>
<line x1="152.9" y1="399.0" x2="152.9" y2="515.0" stroke="#eceff4" stroke-width="0.6"/>
<line x1="169.7" y1="399.0" x2="169.7" y2="515.0" stroke="#eceff4" stroke-width="0.6"/>
<line x1="186.4" y1="399.0" x2="186.4" y2="515.0" stroke="#eceff4" stroke-width="0.6"/>
<line x1="203.2" y1="399.0" x2="203.2" y2="515.0" stroke="#eceff4" stroke-width="0.6"/>
<line x1="220.0" y1="399.0" x2="220.0" y2="515.0" stroke="#eceff4" stroke-width="0.6"/>
<line x1="102.5" y1="491.8" x2="219.5" y2="491.8" stroke="#eceff4" stroke-width="0.6"/>
<line x1="102.5" y1="468.7" x2="219.5" y2="468.7" stroke="#eceff4" stroke-width="0.6"/>
<line x1="102.5" y1="445.5" x2="219.5" y2="445.5" stroke="#eceff4" stroke-width="0.6"/>
<line x1="102.5" y1="422.4" x2="219.5" y2="422.4" stroke="#eceff4" stroke-width="0.6"/>
<g><circle cx="109.6" cy="469.5" r="0.78" fill="#2a2a60"/><circle cx="119.9" cy="506.9" r="0.78" fill="#2a2a60"/><circle cx="186.1" cy="507.3" r="0.78" fill="#2a2a61"/><circle cx="159.7" cy="405.1" r="0.78" fill="#2a2a61"/><circle cx="161.5" cy="411.4" r="0.78" fill="#2a2b62"/><circle cx="116.5" cy="485.7" r="0.78" fill="#2a2b62"/><circle cx="218.2" cy="415.7" r="0.78" fill="#2a2b62"/><circle cx="153.8" cy="406.8" r="0.78" fill="#2a2b62"/><circle cx="218.2" cy="402.0" r="0.78" fill="#2a2b62"/><circle cx="132.6" cy="437.7" r="0.78" fill="#2a2b62"/><circle cx="148.5" cy="402.6" r="0.78" fill="#2a2b62"/><circle cx="110.5" cy="435.6" r="0.78" fill="#2a2b62"/><circle cx="111.3" cy="437.9" r="0.78" fill="#2a2b62"/><circle cx="173.4" cy="409.7" r="0.78" fill="#2a2b62"/><circle cx="215.9" cy="502.0" r="0.78" fill="#2a2b62"/><circle cx="112.9" cy="419.1" r="0.78" fill="#2a2b62"/><circle cx="134.3" cy="429.5" r="0.78" fill="#2a2b63"/><circle cx="141.5" cy="403.0" r="0.78" fill="#2a2b63"/><circle cx="116.9" cy="441.9" r="0.78" fill="#2a2b63"/><circle cx="213.5" cy="428.2" r="0.78" fill="#2a2b63"/><circle cx="209.3" cy="439.1" r="0.78" fill="#2a2b63"/><circle cx="123.1" cy="442.8" r="0.78" fill="#2b2c64"/><circle cx="207.1" cy="442.0" r="0.78" fill="#2b2c64"/><circle cx="124.3" cy="410.0" r="0.78" fill="#2b2c64"/><circle cx="204.7" cy="426.4" r="0.78" fill="#2b2c64"/><circle cx="212.1" cy="432.5" r="0.78" fill="#2b2c64"/><circle cx="212.5" cy="431.1" r="0.78" fill="#2b2c64"/><circle cx="114.2" cy="404.1" r="0.78" fill="#2b2c64"/><circle cx="198.1" cy="404.8" r="0.78" fill="#2b2c64"/><circle cx="216.9" cy="498.5" r="0.78" fill="#2b2c64"/><circle cx="200.3" cy="431.7" r="0.78" fill="#2b2c64"/><circle cx="119.4" cy="428.5" r="0.78" fill="#2b2c64"/><circle cx="217.4" cy="496.4" r="0.78" fill="#2b2c64"/><circle cx="204.6" cy="497.9" r="0.78" fill="#2b2c64"/><circle cx="215.8" cy="403.2" r="0.78" fill="#2b2c64"/><circle cx="130.7" cy="410.4" r="0.78" fill="#2b2c65"/><circle cx="214.4" cy="414.0" r="0.78" fill="#2b2c65"/><circle cx="141.7" cy="441.1" r="0.78" fill="#2b2c65"/><circle cx="113.9" cy="426.7" r="0.78" fill="#2b2c65"/><circle cx="128.5" cy="445.1" r="0.78" fill="#2b2c65"/><circle cx="123.6" cy="418.8" r="0.78" fill="#2b2c65"/><circle cx="204.9" cy="458.1" r="0.78" fill="#2b2c65"/><circle cx="115.6" cy="461.6" r="0.78" fill="#2b2c65"/><circle cx="113.6" cy="405.7" r="0.78" fill="#2b2c65"/><circle cx="217.6" cy="461.3" r="0.78" fill="#2b2c65"/><circle cx="119.8" cy="414.3" r="0.78" fill="#2b2c65"/><circle cx="172.7" cy="417.3" r="0.78" fill="#2b2c65"/><circle cx="155.9" cy="419.0" r="0.78" fill="#2b2c65"/><circle cx="187.3" cy="406.8" r="0.78" fill="#2b2c65"/><circle cx="114.6" cy="410.6" r="0.78" fill="#2b2c65"/><circle cx="119.2" cy="494.5" r="0.78" fill="#2b2c65"/><circle cx="200.8" cy="442.4" r="0.78" fill="#2b2c65"/><circle cx="201.1" cy="454.8" r="0.78" fill="#2b2c65"/><circle cx="210.8" cy="451.4" r="0.78" fill="#2b2c65"/><circle cx="207.9" cy="459.5" r="0.78" fill="#2b2c65"/><circle cx="130.9" cy="418.7" r="0.78" fill="#2b2c65"/><circle cx="135.6" cy="412.2" r="0.78" fill="#2b2c65"/><circle cx="217.2" cy="456.9" r="0.78" fill="#2b2c65"/><circle cx="140.8" cy="407.4" r="0.78" fill="#2b2d66"/><circle cx="165.2" cy="419.7" r="0.78" fill="#2b2d66"/><circle cx="116.9" cy="428.0" r="0.78" fill="#2b2d66"/><circle cx="114.5" cy="407.8" r="0.78" fill="#2b2d66"/><circle cx="146.7" cy="414.1" r="0.78" fill="#2b2d66"/><circle cx="117.1" cy="425.1" r="0.78" fill="#2b2d66"/><circle cx="210.5" cy="452.3" r="0.78" fill="#2b2d66"/><circle cx="204.0" cy="448.9" r="0.78" fill="#2b2d66"/><circle cx="118.7" cy="462.3" r="0.78" fill="#2b2d66"/><circle cx="139.2" cy="436.3" r="0.78" fill="#2b2d66"/><circle cx="124.0" cy="415.7" r="0.78" fill="#2b2d66"/><circle cx="211.9" cy="413.6" r="0.78" fill="#2b2d66"/><circle cx="117.6" cy="461.8" r="0.78" fill="#2b2d66"/><circle cx="208.8" cy="467.0" r="0.78" fill="#2b2d66"/><circle cx="168.6" cy="419.3" r="0.78" fill="#2b2d66"/><circle cx="134.8" cy="419.1" r="0.78" fill="#2b2d66"/><circle cx="146.2" cy="408.9" r="0.78" fill="#2b2d66"/><circle cx="146.1" cy="414.3" r="0.78" fill="#2b2d66"/><circle cx="216.8" cy="471.3" r="0.78" fill="#2b2d66"/><circle cx="215.1" cy="455.6" r="0.78" fill="#2b2d66"/><circle cx="130.1" cy="414.5" r="0.78" fill="#2b2d66"/><circle cx="141.0" cy="411.1" r="0.78" fill="#2b2d67"/><circle cx="182.1" cy="425.3" r="0.78" fill="#2b2d67"/><circle cx="198.4" cy="466.0" r="0.78" fill="#2b2d67"/><circle cx="214.9" cy="460.2" r="0.78" fill="#2b2d67"/><circle cx="213.8" cy="491.9" r="0.78" fill="#2b2d67"/><circle cx="215.9" cy="474.9" r="0.78" fill="#2b2d67"/><circle cx="172.0" cy="423.1" r="0.78" fill="#2b2d67"/><circle cx="182.3" cy="426.0" r="0.78" fill="#2b2d67"/><circle cx="205.5" cy="492.1" r="0.78" fill="#2b2d67"/><circle cx="202.4" cy="416.0" r="0.78" fill="#2b2d67"/><circle cx="117.1" cy="455.2" r="0.78" fill="#2b2d67"/><circle cx="197.8" cy="501.8" r="0.78" fill="#2b2d67"/><circle cx="117.5" cy="450.7" r="0.78" fill="#2b2d67"/><circle cx="194.9" cy="413.8" r="0.78" fill="#2b2d67"/><circle cx="189.3" cy="497.9" r="0.78" fill="#2c2e68"/><circle cx="178.8" cy="412.2" r="0.78" fill="#2c2e68"/><circle cx="195.6" cy="431.0" r="0.78" fill="#2c2e68"/><circle cx="199.2" cy="500.7" r="0.78" fill="#2c2e68"/><circle cx="125.3" cy="464.2" r="0.78" fill="#2c2e68"/><circle cx="120.2" cy="448.3" r="0.78" fill="#2c2e68"/><circle cx="192.3" cy="411.9" r="0.78" fill="#2c2e68"/><circle cx="202.2" cy="418.9" r="0.78" fill="#2c2e68"/><circle cx="182.4" cy="500.2" r="0.78" fill="#2c2e68"/><circle cx="179.4" cy="415.4" r="0.78" fill="#2c2e68"/><circle cx="180.6" cy="410.7" r="0.78" fill="#2c2e68"/><circle cx="140.8" cy="433.8" r="0.78" fill="#2c2e68"/><circle cx="180.1" cy="501.0" r="0.78" fill="#2c2e68"/><circle cx="199.5" cy="449.4" r="0.78" fill="#2c2e68"/><circle cx="139.0" cy="422.9" r="0.78" fill="#2c2e68"/><circle cx="140.6" cy="421.2" r="0.78" fill="#2c2e68"/><circle cx="201.6" cy="419.7" r="0.78" fill="#2c2e68"/><circle cx="170.2" cy="425.7" r="0.78" fill="#2c2e68"/><circle cx="186.4" cy="409.5" r="0.78" fill="#2c2e68"/><circle cx="211.2" cy="490.4" r="0.78" fill="#2c2e68"/><circle cx="196.3" cy="466.3" r="0.78" fill="#2c2e68"/><circle cx="212.7" cy="469.1" r="0.78" fill="#2c2e69"/><circle cx="213.1" cy="487.5" r="0.78" fill="#2c2e69"/><circle cx="121.5" cy="453.3" r="0.78" fill="#2c2e69"/><circle cx="120.3" cy="450.9" r="0.78" fill="#2c2e69"/><circle cx="195.0" cy="500.3" r="0.78" fill="#2c2e69"/><circle cx="202.9" cy="490.4" r="0.78" fill="#2c2e69"/><circle cx="122.2" cy="485.1" r="0.78" fill="#2c2e69"/><circle cx="204.6" cy="401.0" r="0.78" fill="#2c2e69"/><circle cx="127.1" cy="454.2" r="0.78" fill="#2c2e69"/><circle cx="146.2" cy="432.4" r="0.78" fill="#2c2e69"/><circle cx="194.0" cy="427.4" r="0.78" fill="#2c2e69"/><circle cx="187.8" cy="421.2" r="0.78" fill="#2c2e69"/><circle cx="199.0" cy="421.8" r="0.78" fill="#2c2e69"/><circle cx="153.3" cy="422.7" r="0.78" fill="#2c2e69"/><circle cx="190.2" cy="431.2" r="0.78" fill="#2c2e69"/><circle cx="197.2" cy="423.5" r="0.78" fill="#2c2e69"/><circle cx="192.3" cy="424.1" r="0.78" fill="#2c2f6a"/><circle cx="142.7" cy="424.0" r="0.78" fill="#2c2f6a"/><circle cx="144.4" cy="432.1" r="0.78" fill="#2c2f6a"/><circle cx="191.7" cy="415.5" r="0.78" fill="#2c2f6a"/><circle cx="212.8" cy="471.9" r="0.78" fill="#2c2f6a"/><circle cx="149.4" cy="425.9" r="0.78" fill="#2c2f6a"/><circle cx="191.0" cy="419.5" r="0.78" fill="#2c2f6a"/><circle cx="212.9" cy="473.4" r="0.78" fill="#2c2f6a"/><circle cx="183.3" cy="496.7" r="0.78" fill="#2c2f6a"/><circle cx="127.9" cy="458.6" r="0.78" fill="#2c2f6a"/><circle cx="163.2" cy="426.8" r="0.78" fill="#2c2f6a"/><circle cx="192.7" cy="438.0" r="0.78" fill="#2c2f6a"/><circle cx="132.7" cy="449.5" r="0.78" fill="#2c2f6a"/><circle cx="196.7" cy="469.9" r="0.78" fill="#2c2f6a"/><circle cx="161.4" cy="425.3" r="0.78" fill="#2c2f6a"/><circle cx="188.4" cy="432.1" r="0.78" fill="#2c2f6a"/><circle cx="203.3" cy="403.2" r="0.78" fill="#2c2f6a"/><circle cx="183.5" cy="414.7" r="0.78" fill="#2c2f6a"/><circle cx="142.1" cy="426.9" r="0.78" fill="#2c2f6b"/><circle cx="163.3" cy="509.3" r="0.78" fill="#2c2f6b"/><circle cx="186.3" cy="417.2" r="0.78" fill="#2c2f6b"/><circle cx="170.5" cy="430.0" r="0.78" fill="#2c2f6b"/><circle cx="203.9" cy="408.2" r="0.78" fill="#2c2f6b"/><circle cx="197.0" cy="448.2" r="0.78" fill="#2c2f6b"/><circle cx="185.5" cy="412.5" r="0.78" fill="#2c2f6b"/><circle cx="134.3" cy="449.3" r="0.78" fill="#2c2f6b"/><circle cx="211.8" cy="483.3" r="0.78" fill="#2c2f6b"/><circle cx="143.9" cy="428.2" r="0.78" fill="#2c2f6b"/><circle cx="175.4" cy="430.8" r="0.78" fill="#2c2f6b"/><circle cx="193.8" cy="440.8" r="0.78" fill="#2c2f6b"/><circle cx="135.3" cy="449.2" r="0.78" fill="#2c2f6b"/><circle cx="211.1" cy="485.4" r="0.78" fill="#2c2f6b"/><circle cx="190.1" cy="493.4" r="0.78" fill="#2c2f6b"/><circle cx="193.0" cy="470.2" r="0.78" fill="#2c2f6b"/><circle cx="208.7" cy="403.1" r="0.78" fill="#2c2f6b"/><circle cx="209.1" cy="408.8" r="0.78" fill="#2c2f6b"/><circle cx="128.6" cy="465.3" r="0.78" fill="#2c2f6b"/><circle cx="192.6" cy="469.4" r="0.78" fill="#2c2f6b"/><circle cx="210.3" cy="405.4" r="0.78" fill="#2c2f6b"/><circle cx="131.6" cy="453.6" r="0.78" fill="#2d306c"/><circle cx="130.9" cy="456.7" r="0.78" fill="#2d306c"/><circle cx="152.1" cy="431.1" r="0.78" fill="#2d306c"/><circle cx="209.8" cy="407.2" r="0.78" fill="#2d306c"/><circle cx="196.7" cy="497.0" r="0.78" fill="#2d306c"/><circle cx="134.1" cy="509.2" r="0.78" fill="#2d306c"/><circle cx="153.3" cy="425.5" r="0.78" fill="#2d306c"/><circle cx="143.7" cy="448.1" r="0.78" fill="#2d306c"/><circle cx="204.5" cy="404.5" r="0.78" fill="#2d306c"/><circle cx="152.4" cy="430.1" r="0.78" fill="#2d306c"/><circle cx="158.6" cy="425.8" r="0.78" fill="#2d306d"/><circle cx="130.5" cy="462.7" r="0.78" fill="#2d306d"/><circle cx="125.6" cy="498.7" r="0.78" fill="#2d306d"/><circle cx="195.7" cy="495.5" r="0.78" fill="#2d306d"/><circle cx="192.8" cy="477.8" r="0.78" fill="#2d306d"/><circle cx="205.7" cy="404.7" r="0.78" fill="#2d306d"/><circle cx="193.4" cy="443.6" r="0.78" fill="#2d306d"/><circle cx="189.8" cy="459.7" r="0.78" fill="#2d306d"/><circle cx="189.4" cy="489.0" r="0.78" fill="#2d316e"/><circle cx="196.7" cy="492.9" r="0.78" fill="#2d316e"/><circle cx="165.2" cy="433.5" r="0.78" fill="#2d316e"/><circle cx="157.2" cy="432.5" r="0.78" fill="#2d316e"/><circle cx="192.2" cy="453.4" r="0.78" fill="#2d316e"/><circle cx="158.6" cy="432.1" r="0.78" fill="#2d316e"/><circle cx="123.0" cy="491.4" r="0.78" fill="#2d316e"/><circle cx="130.8" cy="465.7" r="0.78" fill="#2d316e"/><circle cx="192.9" cy="444.1" r="0.78" fill="#2d316e"/><circle cx="193.4" cy="480.2" r="0.78" fill="#2d316e"/><circle cx="187.7" cy="476.8" r="0.78" fill="#2d316e"/><circle cx="197.4" cy="488.4" r="0.78" fill="#2d316e"/><circle cx="123.3" cy="492.3" r="0.78" fill="#2d316e"/><circle cx="191.5" cy="487.6" r="0.78" fill="#2d316e"/><circle cx="124.8" cy="495.9" r="0.78" fill="#2d316e"/><circle cx="157.9" cy="430.4" r="0.78" fill="#2d316f"/><circle cx="202.6" cy="474.4" r="0.78" fill="#2d316f"/><circle cx="156.3" cy="428.9" r="0.78" fill="#2d316f"/><circle cx="193.7" cy="489.6" r="0.78" fill="#2d316f"/><circle cx="137.4" cy="452.9" r="0.78" fill="#2d316f"/><circle cx="130.3" cy="469.3" r="0.78" fill="#2d316f"/><circle cx="177.4" cy="433.1" r="0.78" fill="#2d316f"/><circle cx="195.5" cy="487.6" r="0.78" fill="#2d316f"/><circle cx="155.0" cy="442.3" r="0.78" fill="#2e3270"/><circle cx="198.3" cy="476.5" r="0.78" fill="#2e3270"/><circle cx="207.3" cy="482.8" r="0.78" fill="#2e3270"/><circle cx="189.0" cy="463.4" r="0.78" fill="#2e3270"/><circle cx="130.9" cy="505.6" r="0.78" fill="#2e3270"/><circle cx="178.1" cy="497.2" r="0.78" fill="#2e3270"/><circle cx="197.2" cy="484.1" r="0.78" fill="#2e3270"/><circle cx="187.2" cy="484.4" r="0.78" fill="#2e3270"/><circle cx="189.6" cy="452.7" r="0.78" fill="#2e3270"/><circle cx="191.8" cy="450.4" r="0.78" fill="#2e3270"/><circle cx="190.3" cy="452.3" r="0.78" fill="#2e3270"/><circle cx="192.0" cy="448.8" r="0.78" fill="#2e3270"/><circle cx="166.1" cy="435.9" r="0.78" fill="#2e3270"/><circle cx="168.8" cy="435.2" r="0.78" fill="#2e3270"/><circle cx="141.3" cy="450.8" r="0.78" fill="#2e3270"/><circle cx="129.3" cy="473.9" r="0.78" fill="#2e3271"/><circle cx="197.2" cy="481.1" r="0.78" fill="#2e3271"/><circle cx="187.9" cy="450.7" r="0.78" fill="#2e3271"/><circle cx="187.6" cy="450.4" r="0.78" fill="#2e3271"/><circle cx="198.4" cy="478.6" r="0.78" fill="#2e3271"/><circle cx="207.7" cy="478.2" r="0.78" fill="#2e3271"/><circle cx="157.5" cy="440.6" r="0.78" fill="#2e3271"/><circle cx="183.1" cy="434.6" r="0.78" fill="#2e3271"/><circle cx="187.0" cy="440.0" r="0.78" fill="#2e3271"/><circle cx="199.1" cy="481.1" r="0.78" fill="#2e3372"/><circle cx="205.7" cy="476.8" r="0.78" fill="#2e3372"/><circle cx="129.8" cy="503.3" r="0.78" fill="#2e3372"/><circle cx="181.6" cy="491.5" r="0.78" fill="#2e3372"/><circle cx="207.0" cy="479.0" r="0.78" fill="#2e3372"/><circle cx="187.5" cy="467.7" r="0.78" fill="#2e3372"/><circle cx="127.2" cy="480.1" r="0.78" fill="#2e3372"/><circle cx="185.8" cy="484.2" r="0.78" fill="#2e3372"/><circle cx="205.9" cy="480.7" r="0.78" fill="#2e3372"/><circle cx="159.0" cy="440.2" r="0.78" fill="#2e3372"/><circle cx="185.1" cy="446.0" r="0.78" fill="#2e3373"/><circle cx="187.8" cy="462.5" r="0.78" fill="#2e3373"/><circle cx="185.3" cy="437.8" r="0.78" fill="#2e3373"/><circle cx="131.7" cy="505.3" r="0.78" fill="#2e3373"/><circle cx="166.7" cy="437.5" r="0.78" fill="#2e3373"/><circle cx="138.9" cy="455.7" r="0.78" fill="#2e3373"/><circle cx="203.2" cy="477.8" r="0.78" fill="#2e3373"/><circle cx="185.2" cy="472.8" r="0.78" fill="#2e3373"/><circle cx="205.1" cy="478.8" r="0.78" fill="#2e3373"/><circle cx="203.1" cy="478.7" r="0.78" fill="#2e3373"/><circle cx="185.8" cy="441.3" r="0.78" fill="#2e3373"/><circle cx="181.3" cy="435.5" r="0.78" fill="#2f3474"/><circle cx="183.2" cy="487.9" r="0.78" fill="#2f3474"/><circle cx="143.4" cy="451.7" r="0.78" fill="#2f3474"/><circle cx="167.3" cy="438.3" r="0.78" fill="#2f3474"/><circle cx="183.0" cy="445.7" r="0.78" fill="#2f3475"/><circle cx="152.2" cy="448.0" r="0.78" fill="#2f3475"/><circle cx="125.4" cy="491.1" r="0.78" fill="#2f3475"/><circle cx="175.2" cy="436.8" r="0.78" fill="#2f3475"/><circle cx="184.8" cy="479.5" r="0.78" fill="#2f3475"/><circle cx="181.5" cy="436.4" r="0.78" fill="#2f3475"/><circle cx="183.4" cy="437.8" r="0.78" fill="#2f3475"/><circle cx="184.3" cy="477.0" r="0.78" fill="#2f3475"/><circle cx="142.9" cy="453.2" r="0.78" fill="#2f3577"/><circle cx="183.1" cy="442.3" r="0.78" fill="#2f3577"/><circle cx="160.5" cy="507.3" r="0.78" fill="#303678"/><circle cx="137.6" cy="462.0" r="0.78" fill="#303678"/><circle cx="177.0" cy="438.3" r="0.78" fill="#303678"/><circle cx="172.9" cy="498.3" r="0.78" fill="#303679"/><circle cx="157.2" cy="444.6" r="0.78" fill="#303679"/><circle cx="136.1" cy="465.2" r="0.78" fill="#303679"/><circle cx="153.6" cy="448.4" r="0.78" fill="#30377a"/><circle cx="162.5" cy="506.2" r="0.78" fill="#30377a"/><circle cx="130.2" cy="500.4" r="0.78" fill="#30377a"/><circle cx="181.3" cy="486.7" r="0.78" fill="#30377a"/><circle cx="169.5" cy="441.1" r="0.78" fill="#30377a"/><circle cx="175.6" cy="495.1" r="0.78" fill="#30377a"/><circle cx="180.2" cy="442.7" r="0.78" fill="#30377a"/><circle cx="172.6" cy="440.5" r="0.78" fill="#30377a"/><circle cx="177.7" cy="440.1" r="0.78" fill="#30377b"/><circle cx="177.8" cy="440.2" r="0.78" fill="#30377b"/><circle cx="136.6" cy="506.8" r="0.78" fill="#30377b"/><circle cx="144.1" cy="454.5" r="0.78" fill="#30377b"/><circle cx="151.1" cy="509.9" r="0.78" fill="#30377b"/><circle cx="150.6" cy="451.5" r="0.78" fill="#31387c"/><circle cx="168.4" cy="501.5" r="0.78" fill="#31387c"/><circle cx="177.9" cy="490.8" r="0.78" fill="#31387c"/><circle cx="177.9" cy="443.2" r="0.78" fill="#31387c"/><circle cx="157.1" cy="446.0" r="0.78" fill="#31387d"/><circle cx="177.9" cy="448.4" r="0.78" fill="#31387d"/><circle cx="160.4" cy="444.3" r="0.78" fill="#31387d"/><circle cx="172.6" cy="442.5" r="0.78" fill="#31387d"/><circle cx="177.3" cy="445.6" r="0.78" fill="#31387d"/><circle cx="179.8" cy="454.0" r="0.78" fill="#31397e"/><circle cx="181.5" cy="482.5" r="0.78" fill="#31397e"/><circle cx="171.9" cy="443.0" r="0.78" fill="#31397e"/><circle cx="177.7" cy="449.2" r="0.78" fill="#31397e"/><circle cx="175.9" cy="443.8" r="0.78" fill="#31397e"/><circle cx="139.9" cy="460.8" r="0.78" fill="#31397e"/><circle cx="146.2" cy="454.5" r="0.78" fill="#31397f"/><circle cx="166.6" cy="444.4" r="0.78" fill="#31397f"/><circle cx="183.4" cy="459.6" r="0.78" fill="#31397f"/><circle cx="138.2" cy="463.8" r="0.78" fill="#31397f"/><circle cx="181.0" cy="482.8" r="0.78" fill="#31397f"/><circle cx="162.3" cy="444.8" r="0.78" fill="#323a80"/><circle cx="164.3" cy="445.0" r="0.78" fill="#333c82"/><circle cx="179.3" cy="486.0" r="0.78" fill="#333d82"/><circle cx="170.7" cy="444.7" r="0.78" fill="#333d82"/><circle cx="128.9" cy="493.7" r="0.78" fill="#343d83"/><circle cx="181.0" cy="480.2" r="0.78" fill="#343f84"/><circle cx="180.9" cy="457.0" r="0.78" fill="#354085"/><circle cx="144.4" cy="456.8" r="0.78" fill="#354085"/><circle cx="180.9" cy="476.4" r="0.78" fill="#364287"/><circle cx="177.5" cy="488.0" r="0.78" fill="#374387"/><circle cx="128.6" cy="484.8" r="0.78" fill="#38468a"/><circle cx="167.6" cy="500.8" r="0.78" fill="#39478a"/><circle cx="173.5" cy="494.1" r="0.78" fill="#39488b"/><circle cx="128.4" cy="486.2" r="0.78" fill="#39488b"/><circle cx="162.7" cy="446.8" r="0.78" fill="#3c4d90"/><circle cx="162.8" cy="446.9" r="0.78" fill="#3d4e91"/><circle cx="176.4" cy="488.3" r="0.78" fill="#3d4e91"/><circle cx="162.3" cy="447.1" r="0.78" fill="#3d5092"/><circle cx="173.7" cy="493.1" r="0.78" fill="#3e5092"/><circle cx="171.7" cy="495.9" r="0.78" fill="#3e5193"/><circle cx="171.2" cy="448.0" r="0.78" fill="#3e5193"/><circle cx="174.5" cy="450.8" r="0.78" fill="#3f5395"/><circle cx="166.7" cy="448.0" r="0.78" fill="#3f5395"/><circle cx="142.2" cy="507.6" r="0.78" fill="#405495"/><circle cx="182.9" cy="464.1" r="0.78" fill="#405496"/><circle cx="173.4" cy="450.2" r="0.78" fill="#415698"/><circle cx="167.3" cy="448.5" r="0.78" fill="#415698"/><circle cx="148.0" cy="456.5" r="0.78" fill="#425798"/><circle cx="182.7" cy="463.2" r="0.78" fill="#425799"/><circle cx="178.5" cy="456.6" r="0.78" fill="#42599a"/><circle cx="175.5" cy="453.2" r="0.78" fill="#435a9a"/><circle cx="170.0" cy="449.3" r="0.78" fill="#435a9b"/><circle cx="140.7" cy="462.9" r="0.78" fill="#435a9b"/><circle cx="172.2" cy="494.3" r="0.78" fill="#445c9c"/><circle cx="133.1" cy="475.7" r="0.78" fill="#455d9d"/><circle cx="152.7" cy="454.1" r="0.78" fill="#455d9d"/><circle cx="177.5" cy="456.0" r="0.78" fill="#455d9d"/><circle cx="175.3" cy="453.6" r="0.78" fill="#455e9e"/><circle cx="131.2" cy="480.5" r="0.78" fill="#455e9e"/><circle cx="170.4" cy="450.2" r="0.78" fill="#46609f"/><circle cx="182.0" cy="465.9" r="0.78" fill="#4660a0"/><circle cx="181.5" cy="467.5" r="0.78" fill="#4761a1"/><circle cx="159.7" cy="449.3" r="0.78" fill="#4761a1"/><circle cx="177.3" cy="456.2" r="0.78" fill="#4762a1"/><circle cx="154.5" cy="453.0" r="0.78" fill="#4762a1"/><circle cx="181.8" cy="462.1" r="0.78" fill="#4762a1"/><circle cx="150.9" cy="507.8" r="0.78" fill="#4862a2"/><circle cx="179.3" cy="476.2" r="0.78" fill="#4862a2"/><circle cx="159.8" cy="449.4" r="0.78" fill="#4863a2"/><circle cx="182.0" cy="463.6" r="0.78" fill="#4864a3"/><circle cx="149.4" cy="456.7" r="0.78" fill="#4864a3"/><circle cx="171.8" cy="451.4" r="0.78" fill="#4964a3"/><circle cx="149.3" cy="508.0" r="0.78" fill="#4965a4"/><circle cx="158.3" cy="450.3" r="0.78" fill="#4965a4"/><circle cx="151.3" cy="455.6" r="0.78" fill="#4965a4"/><circle cx="149.0" cy="508.0" r="0.78" fill="#4a66a5"/><circle cx="129.6" cy="486.3" r="0.78" fill="#4a66a5"/><circle cx="181.8" cy="463.7" r="0.78" fill="#4a67a5"/><circle cx="170.7" cy="451.8" r="0.78" fill="#4c6aa8"/><circle cx="148.4" cy="457.8" r="0.78" fill="#4c6aa8"/><circle cx="154.6" cy="453.6" r="0.78" fill="#4d6ba9"/><circle cx="181.4" cy="465.6" r="0.78" fill="#4d6ba9"/><circle cx="141.3" cy="463.3" r="0.78" fill="#4d6caa"/><circle cx="169.8" cy="452.0" r="0.78" fill="#4e6eab"/><circle cx="135.2" cy="472.6" r="0.78" fill="#4e6eab"/><circle cx="132.7" cy="498.6" r="0.78" fill="#4e6fac"/><circle cx="174.8" cy="487.5" r="0.78" fill="#4f70ad"/><circle cx="181.3" cy="463.6" r="0.78" fill="#4f70ad"/><circle cx="129.9" cy="488.0" r="0.78" fill="#4f70ad"/><circle cx="133.6" cy="476.0" r="0.78" fill="#5071ae"/><circle cx="146.7" cy="459.3" r="0.78" fill="#5072ae"/><circle cx="133.5" cy="476.4" r="0.78" fill="#5072af"/><circle cx="170.4" cy="452.8" r="0.78" fill="#5173af"/><circle cx="147.3" cy="507.5" r="0.78" fill="#5276b2"/><circle cx="130.2" cy="488.0" r="0.78" fill="#5479b5"/><circle cx="174.9" cy="456.3" r="0.78" fill="#557ab6"/><circle cx="177.6" cy="480.0" r="0.78" fill="#557bb7"/><circle cx="149.3" cy="458.5" r="0.78" fill="#557cb7"/><circle cx="177.9" cy="478.4" r="0.78" fill="#567cb7"/><circle cx="171.1" cy="493.4" r="0.78" fill="#567db8"/><circle cx="179.1" cy="460.6" r="0.78" fill="#577eb9"/><circle cx="159.3" cy="451.9" r="0.78" fill="#577eb9"/><circle cx="151.2" cy="457.6" r="0.78" fill="#587fba"/><circle cx="161.8" cy="451.6" r="0.78" fill="#5880ba"/><circle cx="168.0" cy="497.8" r="0.78" fill="#5880bb"/><circle cx="179.7" cy="468.1" r="0.78" fill="#5880bb"/><circle cx="134.9" cy="500.8" r="0.78" fill="#5881bb"/><circle cx="172.5" cy="455.3" r="0.78" fill="#5981bc"/><circle cx="178.1" cy="474.8" r="0.78" fill="#5982bc"/><circle cx="136.6" cy="502.3" r="0.78" fill="#5a84be"/><circle cx="159.1" cy="452.5" r="0.78" fill="#5a84be"/><circle cx="148.6" cy="459.5" r="0.78" fill="#5b85bf"/><circle cx="141.2" cy="505.1" r="0.78" fill="#5e8bc3"/><circle cx="132.4" cy="481.7" r="0.78" fill="#5e8bc4"/><circle cx="131.1" cy="486.6" r="0.78" fill="#5f8ec6"/><circle cx="155.5" cy="504.9" r="0.78" fill="#608ec7"/><circle cx="170.9" cy="492.5" r="0.78" fill="#608fc7"/><circle cx="131.2" cy="486.5" r="0.78" fill="#6190c8"/><circle cx="163.3" cy="453.2" r="0.78" fill="#6292ca"/><circle cx="145.5" cy="506.4" r="0.78" fill="#6293ca"/><circle cx="179.2" cy="463.8" r="0.78" fill="#6394cb"/><circle cx="178.9" cy="462.8" r="0.78" fill="#6394cb"/><circle cx="142.5" cy="505.3" r="0.78" fill="#6496cd"/><circle cx="175.6" cy="482.3" r="0.78" fill="#6496cd"/><circle cx="174.3" cy="484.8" r="0.78" fill="#6496cd"/><circle cx="176.0" cy="481.0" r="0.78" fill="#6597cd"/><circle cx="131.4" cy="488.3" r="0.78" fill="#6597cd"/><circle cx="154.9" cy="456.7" r="0.78" fill="#6598ce"/><circle cx="142.0" cy="504.8" r="0.78" fill="#6799cf"/><circle cx="175.1" cy="482.6" r="0.78" fill="#689acf"/><circle cx="134.5" cy="498.5" r="0.78" fill="#689bcf"/><circle cx="146.6" cy="506.1" r="0.78" fill="#689bcf"/><circle cx="177.8" cy="469.8" r="0.78" fill="#689bcf"/><circle cx="152.2" cy="505.4" r="0.78" fill="#689bcf"/><circle cx="134.7" cy="498.7" r="0.78" fill="#699cd0"/><circle cx="166.4" cy="498.1" r="0.78" fill="#699cd0"/><circle cx="145.3" cy="462.8" r="0.78" fill="#699cd0"/><circle cx="163.6" cy="454.6" r="0.78" fill="#699cd0"/><circle cx="131.8" cy="488.9" r="0.78" fill="#699cd0"/><circle cx="159.3" cy="454.8" r="0.78" fill="#6a9dd0"/><circle cx="138.5" cy="502.4" r="0.78" fill="#6a9dd0"/><circle cx="136.1" cy="474.4" r="0.78" fill="#6b9dd1"/><circle cx="176.9" cy="462.1" r="0.78" fill="#6c9fd1"/><circle cx="164.9" cy="455.5" r="0.78" fill="#6ca0d2"/><circle cx="145.6" cy="463.2" r="0.78" fill="#6ea1d3"/><circle cx="176.0" cy="461.4" r="0.78" fill="#6ea2d3"/><circle cx="174.0" cy="459.7" r="0.78" fill="#6ea2d3"/><circle cx="159.2" cy="502.8" r="0.78" fill="#6ea2d3"/><circle cx="153.5" cy="504.5" r="0.78" fill="#6fa2d3"/><circle cx="140.8" cy="503.5" r="0.78" fill="#6fa2d3"/><circle cx="141.2" cy="503.7" r="0.78" fill="#6fa2d3"/><circle cx="173.3" cy="484.3" r="0.78" fill="#70a3d4"/><circle cx="143.7" cy="464.7" r="0.78" fill="#70a3d4"/><circle cx="177.5" cy="465.6" r="0.78" fill="#70a3d4"/><circle cx="176.7" cy="472.3" r="0.78" fill="#70a3d4"/><circle cx="155.7" cy="458.0" r="0.78" fill="#70a4d4"/><circle cx="135.3" cy="477.6" r="0.78" fill="#70a4d4"/><circle cx="166.4" cy="456.7" r="0.78" fill="#71a5d4"/><circle cx="165.1" cy="498.6" r="0.78" fill="#72a5d5"/><circle cx="169.1" cy="457.7" r="0.78" fill="#72a6d5"/><circle cx="167.2" cy="457.1" r="0.78" fill="#72a6d5"/><circle cx="177.2" cy="465.8" r="0.78" fill="#72a6d5"/><circle cx="158.5" cy="456.7" r="0.78" fill="#72a6d5"/><circle cx="175.9" cy="475.6" r="0.78" fill="#74a8d6"/><circle cx="134.0" cy="495.3" r="0.78" fill="#74a8d6"/><circle cx="175.6" cy="476.9" r="0.78" fill="#75a9d6"/><circle cx="158.8" cy="502.4" r="0.78" fill="#75a9d7"/><circle cx="158.6" cy="457.2" r="0.78" fill="#76aad7"/><circle cx="176.8" cy="467.2" r="0.78" fill="#76aad7"/><circle cx="157.5" cy="457.8" r="0.78" fill="#76aad7"/><circle cx="170.5" cy="489.1" r="0.78" fill="#76abd7"/><circle cx="164.4" cy="457.0" r="0.78" fill="#76abd7"/><circle cx="133.0" cy="487.9" r="0.78" fill="#76abd7"/><circle cx="175.4" cy="462.5" r="0.78" fill="#76abd7"/><circle cx="142.2" cy="466.7" r="0.78" fill="#77abd8"/><circle cx="134.2" cy="482.7" r="0.78" fill="#77abd8"/><circle cx="171.9" cy="485.8" r="0.78" fill="#77acd8"/><circle cx="137.5" cy="473.7" r="0.78" fill="#78acd8"/><circle cx="163.9" cy="457.1" r="0.78" fill="#78add8"/><circle cx="159.6" cy="457.3" r="0.78" fill="#79add9"/><circle cx="169.0" cy="492.0" r="0.78" fill="#79add9"/><circle cx="151.0" cy="504.4" r="0.78" fill="#79aed9"/><circle cx="154.5" cy="460.1" r="0.78" fill="#7aafd9"/><circle cx="135.2" cy="496.6" r="0.78" fill="#7bafda"/><circle cx="133.7" cy="485.7" r="0.78" fill="#7bb0da"/><circle cx="156.2" cy="459.2" r="0.78" fill="#7bb0da"/><circle cx="135.3" cy="496.7" r="0.78" fill="#7cb1db"/><circle cx="163.4" cy="457.7" r="0.78" fill="#7db2db"/><circle cx="162.8" cy="457.7" r="0.78" fill="#7db2db"/><circle cx="144.9" cy="465.1" r="0.78" fill="#7db2db"/><circle cx="160.5" cy="501.2" r="0.78" fill="#7db2db"/><circle cx="161.1" cy="457.8" r="0.78" fill="#7db3db"/><circle cx="170.2" cy="488.5" r="0.78" fill="#7eb3db"/><circle cx="145.6" cy="504.2" r="0.78" fill="#7eb3dc"/><circle cx="173.2" cy="461.4" r="0.78" fill="#7eb4dc"/><circle cx="136.7" cy="476.4" r="0.78" fill="#7eb4dc"/><circle cx="175.2" cy="475.3" r="0.78" fill="#7eb4dc"/><circle cx="144.5" cy="465.6" r="0.78" fill="#7fb4dc"/><circle cx="133.8" cy="487.9" r="0.78" fill="#7fb4dc"/><circle cx="135.9" cy="479.2" r="0.78" fill="#7fb5dd"/><circle cx="158.9" cy="458.7" r="0.78" fill="#80b6dd"/><circle cx="163.9" cy="458.4" r="0.78" fill="#81b6dd"/><circle cx="140.5" cy="501.6" r="0.78" fill="#81b6dd"/><circle cx="139.0" cy="472.1" r="0.78" fill="#81b7dd"/><circle cx="135.4" cy="481.4" r="0.78" fill="#81b7de"/><circle cx="147.7" cy="504.2" r="0.78" fill="#81b7de"/><circle cx="170.8" cy="460.3" r="0.78" fill="#81b7de"/><circle cx="162.7" cy="499.5" r="0.78" fill="#82b8de"/><circle cx="134.2" cy="491.8" r="0.78" fill="#82b8de"/><circle cx="167.2" cy="494.2" r="0.78" fill="#82b8de"/><circle cx="158.3" cy="501.7" r="0.78" fill="#83b9df"/><circle cx="168.0" cy="459.6" r="0.78" fill="#84badf"/><circle cx="162.6" cy="458.9" r="0.78" fill="#85bbdf"/><circle cx="134.3" cy="487.4" r="0.78" fill="#85bbe0"/><circle cx="160.4" cy="459.2" r="0.78" fill="#86bce0"/><circle cx="139.3" cy="500.2" r="0.78" fill="#86bde0"/><circle cx="134.6" cy="490.8" r="0.78" fill="#89bfe2"/><circle cx="174.1" cy="477.4" r="0.78" fill="#89c0e2"/><circle cx="147.1" cy="465.1" r="0.78" fill="#8ac1e3"/><circle cx="174.6" cy="465.6" r="0.78" fill="#8ac1e3"/><circle cx="136.5" cy="496.5" r="0.78" fill="#8ac1e3"/><circle cx="141.2" cy="469.8" r="0.78" fill="#8bc2e3"/><circle cx="169.9" cy="461.1" r="0.78" fill="#8bc2e3"/><circle cx="174.8" cy="469.8" r="0.78" fill="#8bc2e3"/><circle cx="150.5" cy="503.2" r="0.78" fill="#8cc3e3"/><circle cx="144.9" cy="466.5" r="0.78" fill="#8cc3e3"/><circle cx="135.7" cy="494.6" r="0.78" fill="#8cc3e3"/><circle cx="168.2" cy="460.7" r="0.78" fill="#8dc3e3"/><circle cx="162.2" cy="460.2" r="0.78" fill="#8ec4e2"/><circle cx="152.7" cy="462.8" r="0.78" fill="#8ec4e2"/><circle cx="156.2" cy="501.6" r="0.78" fill="#8ec4e2"/><circle cx="144.8" cy="502.7" r="0.78" fill="#8ec4e2"/><circle cx="159.7" cy="460.4" r="0.78" fill="#8ec4e2"/><circle cx="174.1" cy="465.5" r="0.78" fill="#8ec4e2"/><circle cx="146.2" cy="465.9" r="0.78" fill="#8ec4e2"/><circle cx="174.6" cy="471.2" r="0.78" fill="#8ec4e2"/><circle cx="165.5" cy="460.5" r="0.78" fill="#8fc5e1"/><circle cx="156.9" cy="461.2" r="0.78" fill="#8fc5e1"/><circle cx="174.5" cy="471.2" r="0.78" fill="#8fc5e1"/><circle cx="139.4" cy="473.1" r="0.78" fill="#91c6e0"/><circle cx="167.5" cy="491.9" r="0.78" fill="#91c6e0"/><circle cx="148.3" cy="503.1" r="0.78" fill="#91c6e0"/><circle cx="143.1" cy="501.7" r="0.78" fill="#91c6e0"/><circle cx="173.2" cy="478.7" r="0.78" fill="#91c7df"/><circle cx="173.5" cy="465.0" r="0.78" fill="#92c7df"/><circle cx="140.6" cy="471.3" r="0.78" fill="#93c7df"/><circle cx="157.2" cy="461.5" r="0.78" fill="#93c7df"/><circle cx="142.3" cy="469.3" r="0.78" fill="#93c7de"/><circle cx="153.5" cy="462.9" r="0.78" fill="#94c8de"/><circle cx="136.3" cy="494.8" r="0.78" fill="#94c8de"/><circle cx="170.8" cy="462.5" r="0.78" fill="#94c8de"/><circle cx="142.0" cy="500.8" r="0.78" fill="#94c8dd"/><circle cx="172.1" cy="481.0" r="0.78" fill="#94c9dd"/><circle cx="159.9" cy="461.3" r="0.78" fill="#96cadc"/><circle cx="135.6" cy="488.6" r="0.78" fill="#97cadc"/><circle cx="136.9" cy="481.4" r="0.78" fill="#97cadb"/><circle cx="162.7" cy="498.0" r="0.78" fill="#98cbdb"/><circle cx="168.3" cy="461.9" r="0.78" fill="#98cbdb"/><circle cx="166.6" cy="461.6" r="0.78" fill="#98cbdb"/><circle cx="171.8" cy="463.7" r="0.78" fill="#98cbdb"/><circle cx="172.7" cy="464.8" r="0.78" fill="#98cbda"/><circle cx="152.3" cy="502.0" r="0.78" fill="#99ccda"/><circle cx="146.8" cy="466.4" r="0.78" fill="#9accd9"/><circle cx="138.1" cy="496.8" r="0.78" fill="#9acdd9"/><circle cx="138.5" cy="497.3" r="0.78" fill="#9acdd9"/><circle cx="159.8" cy="499.6" r="0.78" fill="#9bcdd9"/><circle cx="137.6" cy="479.4" r="0.78" fill="#9ccdd8"/><circle cx="172.4" cy="479.1" r="0.78" fill="#9cced8"/><circle cx="147.3" cy="502.3" r="0.78" fill="#9cced8"/><circle cx="165.6" cy="494.2" r="0.78" fill="#9cced8"/><circle cx="142.9" cy="500.7" r="0.78" fill="#9cced8"/><circle cx="141.1" cy="499.4" r="0.78" fill="#9dcfd7"/><circle cx="172.5" cy="465.5" r="0.78" fill="#9ecfd7"/><circle cx="136.3" cy="488.3" r="0.78" fill="#9fd0d6"/><circle cx="172.0" cy="465.0" r="0.78" fill="#a0d0d5"/><circle cx="160.6" cy="499.0" r="0.78" fill="#a0d0d5"/><circle cx="171.1" cy="481.7" r="0.78" fill="#a0d0d5"/><circle cx="136.3" cy="490.6" r="0.78" fill="#a0d1d5"/><circle cx="136.8" cy="493.2" r="0.78" fill="#a2d1d4"/><circle cx="159.2" cy="462.6" r="0.78" fill="#a2d2d4"/><circle cx="163.2" cy="496.8" r="0.78" fill="#a2d2d4"/><circle cx="168.9" cy="463.2" r="0.78" fill="#a3d3d3"/><circle cx="173.2" cy="471.2" r="0.78" fill="#a4d3d2"/><circle cx="158.8" cy="499.5" r="0.78" fill="#a4d3d2"/><circle cx="148.8" cy="501.9" r="0.78" fill="#a4d3d2"/><circle cx="171.5" cy="480.3" r="0.78" fill="#a4d3d2"/><circle cx="152.4" cy="501.3" r="0.78" fill="#a4d3d2"/><circle cx="137.1" cy="485.3" r="0.78" fill="#a5d4d2"/><circle cx="136.9" cy="486.6" r="0.78" fill="#a5d4d2"/><circle cx="147.5" cy="466.9" r="0.78" fill="#a5d4d1"/><circle cx="137.1" cy="492.9" r="0.78" fill="#a6d4d1"/><circle cx="145.7" cy="501.3" r="0.78" fill="#a6d5d1"/><circle cx="143.9" cy="500.5" r="0.78" fill="#a6d5d1"/><circle cx="156.6" cy="500.1" r="0.78" fill="#a6d5d1"/><circle cx="172.9" cy="469.4" r="0.78" fill="#a7d5d0"/><circle cx="164.7" cy="494.7" r="0.78" fill="#a7d5d0"/><circle cx="172.0" cy="466.3" r="0.78" fill="#a7d5d0"/><circle cx="153.2" cy="464.4" r="0.78" fill="#a7d5d0"/><circle cx="137.6" cy="493.9" r="0.78" fill="#a8d6d0"/><circle cx="161.4" cy="497.9" r="0.78" fill="#a8d6d0"/><circle cx="152.8" cy="501.0" r="0.78" fill="#a8d6cf"/><circle cx="137.2" cy="492.3" r="0.78" fill="#a9d6cf"/><circle cx="168.3" cy="463.6" r="0.78" fill="#a9d6cf"/><circle cx="163.8" cy="463.2" r="0.78" fill="#a9d7cf"/><circle cx="139.8" cy="497.2" r="0.78" fill="#a9d7cf"/><circle cx="170.5" cy="464.7" r="0.78" fill="#a9d7cf"/><circle cx="165.7" cy="492.8" r="0.78" fill="#aad7ce"/><circle cx="172.5" cy="468.3" r="0.78" fill="#aad7ce"/><circle cx="170.8" cy="481.0" r="0.78" fill="#aad7ce"/><circle cx="149.7" cy="466.2" r="0.78" fill="#abd7ce"/><circle cx="162.9" cy="496.5" r="0.78" fill="#abd8ce"/><circle cx="138.2" cy="481.3" r="0.78" fill="#acd9cd"/><circle cx="151.1" cy="501.1" r="0.78" fill="#acd9cd"/><circle cx="137.6" cy="485.0" r="0.78" fill="#acd9cd"/><circle cx="144.5" cy="469.1" r="0.78" fill="#acd9cc"/><circle cx="138.0" cy="482.6" r="0.78" fill="#add9cc"/><circle cx="163.4" cy="463.6" r="0.78" fill="#add9cc"/><circle cx="138.4" cy="494.8" r="0.78" fill="#add9cc"/><circle cx="162.8" cy="463.6" r="0.78" fill="#add9cc"/><circle cx="139.3" cy="496.1" r="0.78" fill="#aedacb"/><circle cx="139.6" cy="476.1" r="0.78" fill="#afdacb"/><circle cx="137.8" cy="493.0" r="0.78" fill="#afdacb"/><circle cx="168.4" cy="464.2" r="0.78" fill="#afdacb"/><circle cx="158.2" cy="463.7" r="0.78" fill="#afdacb"/><circle cx="172.4" cy="472.5" r="0.78" fill="#afdbcb"/><circle cx="170.7" cy="465.8" r="0.78" fill="#b0dbca"/><circle cx="169.3" cy="464.7" r="0.78" fill="#b0dbca"/><circle cx="157.9" cy="499.2" r="0.78" fill="#b1dcc9"/><circle cx="140.9" cy="473.7" r="0.78" fill="#b2dcc9"/><circle cx="161.2" cy="497.5" r="0.78" fill="#b2dcc9"/><circle cx="144.4" cy="469.5" r="0.78" fill="#b2dcc9"/><circle cx="138.0" cy="484.8" r="0.78" fill="#b2ddc9"/><circle cx="140.8" cy="497.4" r="0.78" fill="#b2ddc8"/><circle cx="143.8" cy="470.1" r="0.78" fill="#b2ddc8"/><circle cx="140.8" cy="474.0" r="0.78" fill="#b4dec7"/><circle cx="168.4" cy="485.3" r="0.78" fill="#b4dec6"/><circle cx="156.1" cy="464.4" r="0.78" fill="#b5dec4"/><circle cx="144.8" cy="469.5" r="0.78" fill="#b6dec2"/><circle cx="149.7" cy="466.9" r="0.78" fill="#b6dec2"/><circle cx="138.0" cy="491.6" r="0.78" fill="#b7dec1"/><circle cx="152.2" cy="465.8" r="0.78" fill="#b8dfbf"/><circle cx="163.8" cy="494.6" r="0.78" fill="#b8dfbf"/><circle cx="171.1" cy="467.8" r="0.78" fill="#b8dfbe"/><circle cx="139.2" cy="479.2" r="0.78" fill="#b8dfbe"/><circle cx="169.6" cy="465.9" r="0.78" fill="#b9dfbd"/><circle cx="141.6" cy="473.3" r="0.78" fill="#b9dfbc"/><circle cx="138.0" cy="490.2" r="0.78" fill="#badfbc"/><circle cx="139.7" cy="495.3" r="0.78" fill="#badfbb"/><circle cx="165.6" cy="464.8" r="0.78" fill="#badfbb"/><circle cx="168.7" cy="483.8" r="0.78" fill="#badfbb"/><circle cx="138.1" cy="490.1" r="0.78" fill="#badfba"/><circle cx="139.2" cy="479.8" r="0.78" fill="#bbdfb9"/><circle cx="162.9" cy="464.8" r="0.78" fill="#bcdfb8"/><circle cx="167.7" cy="465.3" r="0.78" fill="#bce0b7"/><circle cx="148.3" cy="500.4" r="0.78" fill="#bde0b5"/><circle cx="146.3" cy="500.0" r="0.78" fill="#bde0b5"/><circle cx="138.3" cy="490.0" r="0.78" fill="#bde0b5"/><circle cx="152.9" cy="465.8" r="0.78" fill="#bde0b5"/><circle cx="170.3" cy="467.3" r="0.78" fill="#bee0b4"/><circle cx="139.6" cy="478.4" r="0.78" fill="#bee0b3"/><circle cx="168.2" cy="465.7" r="0.78" fill="#bfe0b2"/><circle cx="165.6" cy="490.8" r="0.78" fill="#bfe0b1"/><circle cx="154.3" cy="499.4" r="0.78" fill="#c1e1ae"/><circle cx="159.7" cy="497.6" r="0.78" fill="#c2e1ac"/><circle cx="170.6" cy="468.5" r="0.78" fill="#c3e1aa"/><circle cx="140.0" cy="494.8" r="0.78" fill="#c4e1a9"/><circle cx="152.3" cy="499.7" r="0.78" fill="#c4e1a8"/><circle cx="155.4" cy="465.4" r="0.78" fill="#c5e2a6"/><circle cx="167.6" cy="466.1" r="0.78" fill="#c5e2a6"/><circle cx="160.6" cy="465.4" r="0.78" fill="#c6e2a4"/><circle cx="140.0" cy="478.3" r="0.78" fill="#c7e2a3"/><circle cx="159.1" cy="465.3" r="0.78" fill="#c7e2a3"/><circle cx="138.9" cy="487.4" r="0.78" fill="#c7e2a2"/><circle cx="143.6" cy="498.1" r="0.78" fill="#c7e2a2"/><circle cx="157.0" cy="498.3" r="0.78" fill="#c8e2a1"/><circle cx="170.6" cy="477.1" r="0.78" fill="#c8e2a1"/><circle cx="139.0" cy="490.9" r="0.78" fill="#c8e2a0"/><circle cx="160.9" cy="465.6" r="0.78" fill="#c8e2a0"/><circle cx="167.3" cy="485.5" r="0.78" fill="#c9e39f"/><circle cx="141.0" cy="495.5" r="0.78" fill="#c9e39e"/><circle cx="142.8" cy="472.7" r="0.78" fill="#c9e39e"/><circle cx="171.0" cy="473.7" r="0.78" fill="#c9e39e"/><circle cx="165.4" cy="490.4" r="0.78" fill="#cae39d"/><circle cx="170.2" cy="469.0" r="0.78" fill="#cae39c"/><circle cx="141.0" cy="476.0" r="0.78" fill="#cbe39b"/><circle cx="167.8" cy="484.2" r="0.78" fill="#cbe39a"/><circle cx="169.8" cy="468.4" r="0.78" fill="#cbe39a"/><circle cx="170.8" cy="474.1" r="0.78" fill="#cce398"/><circle cx="152.4" cy="466.8" r="0.78" fill="#cde497"/><circle cx="162.6" cy="494.7" r="0.78" fill="#cde497"/><circle cx="140.9" cy="495.0" r="0.78" fill="#cee496"/><circle cx="147.1" cy="469.4" r="0.78" fill="#cee495"/><circle cx="155.1" cy="466.0" r="0.78" fill="#cee495"/><circle cx="170.6" cy="475.7" r="0.78" fill="#cee494"/><circle cx="167.4" cy="484.8" r="0.78" fill="#cfe494"/><circle cx="143.5" cy="472.2" r="0.78" fill="#cfe494"/><circle cx="165.9" cy="488.7" r="0.78" fill="#cfe493"/><circle cx="162.3" cy="494.9" r="0.78" fill="#cfe492"/><circle cx="170.2" cy="477.2" r="0.78" fill="#d0e492"/><circle cx="139.3" cy="488.1" r="0.78" fill="#d0e492"/><circle cx="140.1" cy="479.9" r="0.78" fill="#d0e491"/><circle cx="170.5" cy="471.8" r="0.78" fill="#d0e491"/><circle cx="159.1" cy="497.1" r="0.78" fill="#d1e58f"/><circle cx="170.3" cy="471.0" r="0.78" fill="#d1e58f"/><circle cx="151.6" cy="467.4" r="0.78" fill="#d1e58e"/><circle cx="140.5" cy="478.1" r="0.78" fill="#d2e58e"/><circle cx="139.7" cy="483.1" r="0.78" fill="#d2e58e"/><circle cx="167.3" cy="467.2" r="0.78" fill="#d2e58d"/><circle cx="139.7" cy="491.4" r="0.78" fill="#d2e58d"/><circle cx="139.6" cy="486.0" r="0.78" fill="#d3e58c"/><circle cx="168.1" cy="467.7" r="0.78" fill="#d3e58c"/><circle cx="146.6" cy="469.9" r="0.78" fill="#d3e58c"/><circle cx="140.2" cy="492.7" r="0.78" fill="#d4e589"/><circle cx="140.2" cy="480.2" r="0.78" fill="#d5e588"/><circle cx="145.5" cy="498.4" r="0.78" fill="#d5e588"/><circle cx="168.8" cy="468.5" r="0.78" fill="#d5e687"/><circle cx="160.4" cy="496.2" r="0.78" fill="#d6e687"/><circle cx="167.2" cy="484.5" r="0.78" fill="#d6e687"/><circle cx="165.1" cy="467.1" r="0.78" fill="#d7e684"/><circle cx="168.0" cy="482.4" r="0.78" fill="#d8e683"/><circle cx="170.2" cy="474.4" r="0.78" fill="#d8e683"/><circle cx="156.5" cy="466.2" r="0.78" fill="#d8e682"/><circle cx="167.7" cy="483.0" r="0.78" fill="#d8e682"/><circle cx="166.3" cy="486.6" r="0.78" fill="#d9e77f"/><circle cx="164.5" cy="467.2" r="0.78" fill="#d9e77f"/><circle cx="148.6" cy="498.9" r="0.78" fill="#dae77e"/><circle cx="140.0" cy="484.5" r="0.78" fill="#dbe77c"/><circle cx="141.5" cy="476.6" r="0.78" fill="#dbe77b"/><circle cx="146.4" cy="498.2" r="0.78" fill="#dee777"/><circle cx="146.6" cy="470.5" r="0.78" fill="#dee777"/><circle cx="145.7" cy="497.9" r="0.78" fill="#dfe775"/><circle cx="169.3" cy="471.1" r="0.78" fill="#dfe774"/><circle cx="169.7" cy="475.7" r="0.78" fill="#dfe774"/><circle cx="163.1" cy="492.8" r="0.78" fill="#e0e773"/><circle cx="152.5" cy="498.3" r="0.78" fill="#e0e773"/><circle cx="164.3" cy="467.7" r="0.78" fill="#e0e672"/><circle cx="146.2" cy="470.9" r="0.78" fill="#e1e671"/><circle cx="149.7" cy="469.1" r="0.78" fill="#e1e671"/><circle cx="141.3" cy="493.4" r="0.78" fill="#e1e671"/><circle cx="169.6" cy="474.2" r="0.78" fill="#e1e670"/><circle cx="165.3" cy="488.2" r="0.78" fill="#e2e66e"/><circle cx="156.2" cy="497.3" r="0.78" fill="#e3e66d"/><circle cx="145.7" cy="497.5" r="0.78" fill="#e3e56c"/><circle cx="166.5" cy="468.6" r="0.78" fill="#e3e56c"/><circle cx="169.3" cy="476.6" r="0.78" fill="#e4e56b"/><circle cx="169.4" cy="474.6" r="0.78" fill="#e4e56b"/><circle cx="149.4" cy="498.3" r="0.78" fill="#e4e56a"/><circle cx="165.8" cy="468.5" r="0.78" fill="#e4e56a"/><circle cx="159.5" cy="467.2" r="0.78" fill="#e5e56a"/><circle cx="168.7" cy="471.0" r="0.78" fill="#e5e569"/><circle cx="142.3" cy="494.5" r="0.78" fill="#e5e569"/><circle cx="164.2" cy="490.3" r="0.78" fill="#e5e569"/><circle cx="169.1" cy="476.3" r="0.78" fill="#e6e567"/><circle cx="168.5" cy="478.7" r="0.78" fill="#e8e463"/><circle cx="161.8" cy="468.0" r="0.78" fill="#e8e463"/><circle cx="140.7" cy="486.0" r="0.78" fill="#e9e361"/><circle cx="140.8" cy="488.1" r="0.78" fill="#e9e360"/><circle cx="141.2" cy="480.8" r="0.78" fill="#eae35e"/><circle cx="165.5" cy="469.1" r="0.78" fill="#eae35e"/><circle cx="141.4" cy="479.8" r="0.78" fill="#ebe35d"/><circle cx="159.2" cy="467.6" r="0.78" fill="#ebe35c"/><circle cx="152.3" cy="497.6" r="0.78" fill="#ebe35c"/><circle cx="148.6" cy="497.8" r="0.78" fill="#ece25b"/><circle cx="144.0" cy="473.7" r="0.78" fill="#ece25b"/><circle cx="146.0" cy="471.8" r="0.78" fill="#ece25a"/><circle cx="147.7" cy="497.6" r="0.78" fill="#ede259"/><circle cx="158.8" cy="495.7" r="0.78" fill="#ede259"/><circle cx="158.5" cy="467.7" r="0.78" fill="#ede259"/><circle cx="165.4" cy="469.3" r="0.78" fill="#ede259"/><circle cx="167.2" cy="470.5" r="0.78" fill="#eee257"/><circle cx="142.3" cy="493.2" r="0.78" fill="#eee257"/><circle cx="148.3" cy="497.6" r="0.78" fill="#efe156"/><circle cx="155.6" cy="467.8" r="0.78" fill="#efe156"/><circle cx="152.2" cy="497.4" r="0.78" fill="#efe155"/><circle cx="147.6" cy="497.4" r="0.78" fill="#efe155"/><circle cx="143.0" cy="494.3" r="0.78" fill="#efe155"/><circle cx="165.4" cy="469.6" r="0.78" fill="#efe154"/><circle cx="157.1" cy="496.2" r="0.78" fill="#f0e154"/><circle cx="165.5" cy="469.7" r="0.78" fill="#f0e153"/><circle cx="165.9" cy="484.7" r="0.78" fill="#f0e153"/><circle cx="168.1" cy="472.5" r="0.78" fill="#f1e152"/><circle cx="168.1" cy="477.9" r="0.78" fill="#f1e051"/><circle cx="142.8" cy="493.6" r="0.78" fill="#f2e04f"/><circle cx="168.1" cy="477.3" r="0.78" fill="#f2e04f"/><circle cx="143.6" cy="474.8" r="0.78" fill="#f2e04f"/><circle cx="162.0" cy="492.7" r="0.78" fill="#f2e04e"/><circle cx="144.0" cy="474.3" r="0.78" fill="#f3e04e"/><circle cx="141.8" cy="491.1" r="0.78" fill="#f3e04e"/><circle cx="168.2" cy="473.7" r="0.78" fill="#f3e04d"/><circle cx="154.5" cy="468.3" r="0.78" fill="#f3e04d"/><circle cx="150.6" cy="469.8" r="0.78" fill="#f3e04d"/><circle cx="143.0" cy="476.1" r="0.78" fill="#f3e04c"/><circle cx="149.3" cy="497.4" r="0.78" fill="#f3e04c"/><circle cx="164.1" cy="488.8" r="0.78" fill="#f4e04c"/><circle cx="168.2" cy="474.5" r="0.78" fill="#f4e04c"/><circle cx="143.2" cy="475.7" r="0.78" fill="#f4e04c"/><circle cx="142.3" cy="478.2" r="0.78" fill="#f5df49"/><circle cx="167.8" cy="477.7" r="0.78" fill="#f5df49"/><circle cx="151.8" cy="497.1" r="0.78" fill="#f5df48"/><circle cx="166.7" cy="471.2" r="0.78" fill="#f6df48"/><circle cx="153.5" cy="468.8" r="0.78" fill="#f6df47"/><circle cx="167.6" cy="472.8" r="0.78" fill="#f7df46"/><circle cx="167.9" cy="474.1" r="0.78" fill="#f7de45"/><circle cx="167.1" cy="480.1" r="0.78" fill="#f7de45"/><circle cx="167.9" cy="474.2" r="0.78" fill="#f7de45"/><circle cx="143.0" cy="476.4" r="0.78" fill="#f8de44"/><circle cx="163.3" cy="469.7" r="0.78" fill="#f8de44"/><circle cx="167.8" cy="477.2" r="0.78" fill="#f8de44"/><circle cx="155.2" cy="468.4" r="0.78" fill="#f8de44"/><circle cx="167.0" cy="480.0" r="0.78" fill="#f8de43"/><circle cx="145.7" cy="495.9" r="0.78" fill="#f9de42"/><circle cx="167.7" cy="474.1" r="0.78" fill="#f9de41"/><circle cx="144.2" cy="474.6" r="0.78" fill="#f9de41"/><circle cx="153.5" cy="469.0" r="0.78" fill="#f9dc40"/><circle cx="167.1" cy="479.1" r="0.78" fill="#f9db40"/><circle cx="165.5" cy="470.9" r="0.78" fill="#f9db3f"/><circle cx="150.3" cy="470.4" r="0.78" fill="#f9da3f"/><circle cx="157.0" cy="495.6" r="0.78" fill="#f9da3f"/><circle cx="157.0" cy="468.5" r="0.78" fill="#f9d93f"/><circle cx="156.4" cy="495.7" r="0.78" fill="#f9d93f"/><circle cx="142.2" cy="490.5" r="0.78" fill="#f9d73e"/><circle cx="141.9" cy="482.9" r="0.78" fill="#f9d73e"/><circle cx="165.1" cy="485.1" r="0.78" fill="#f9d63e"/><circle cx="145.2" cy="473.8" r="0.78" fill="#f9d53d"/><circle cx="156.3" cy="468.6" r="0.78" fill="#f9d53d"/><circle cx="156.3" cy="468.7" r="0.78" fill="#f9d43d"/><circle cx="153.6" cy="469.3" r="0.78" fill="#f9d23c"/><circle cx="165.9" cy="471.9" r="0.78" fill="#f9d13c"/><circle cx="149.0" cy="496.6" r="0.78" fill="#f9d13b"/><circle cx="142.0" cy="485.1" r="0.78" fill="#f9d03b"/><circle cx="163.5" cy="488.9" r="0.78" fill="#f9d03b"/><circle cx="150.9" cy="470.4" r="0.78" fill="#f9cf3b"/><circle cx="154.3" cy="496.0" r="0.78" fill="#f9cf3b"/><circle cx="162.8" cy="470.4" r="0.78" fill="#f9cf3b"/><circle cx="144.4" cy="494.1" r="0.78" fill="#f9ce3a"/><circle cx="159.4" cy="494.0" r="0.78" fill="#f9cc39"/><circle cx="158.1" cy="469.1" r="0.78" fill="#f9cc39"/><circle cx="154.8" cy="469.1" r="0.78" fill="#f9cb39"/><circle cx="144.0" cy="475.7" r="0.78" fill="#f9ca39"/><circle cx="149.0" cy="496.4" r="0.78" fill="#f9ca39"/><circle cx="157.7" cy="494.8" r="0.78" fill="#f9ca38"/><circle cx="147.0" cy="472.7" r="0.78" fill="#f9c938"/><circle cx="164.8" cy="484.9" r="0.78" fill="#f9c838"/><circle cx="145.8" cy="495.1" r="0.78" fill="#f9c637"/><circle cx="157.0" cy="495.0" r="0.78" fill="#f9c637"/><circle cx="143.2" cy="491.6" r="0.78" fill="#f9c336"/><circle cx="162.4" cy="470.7" r="0.78" fill="#f9c336"/><circle cx="157.2" cy="494.8" r="0.78" fill="#f9c336"/><circle cx="162.4" cy="470.8" r="0.78" fill="#f9c236"/><circle cx="160.5" cy="470.0" r="0.78" fill="#f9c236"/><circle cx="164.1" cy="486.4" r="0.78" fill="#f9c235"/><circle cx="159.9" cy="469.9" r="0.78" fill="#f9c135"/><circle cx="163.8" cy="471.5" r="0.78" fill="#f9c035"/><circle cx="166.5" cy="474.9" r="0.78" fill="#f9bf34"/><circle cx="166.6" cy="476.3" r="0.78" fill="#f8be34"/><circle cx="165.6" cy="473.1" r="0.78" fill="#f8be34"/><circle cx="166.5" cy="476.6" r="0.78" fill="#f8be34"/><circle cx="152.1" cy="495.9" r="0.78" fill="#f8bd34"/><circle cx="160.5" cy="492.6" r="0.78" fill="#f8bd33"/><circle cx="159.7" cy="469.9" r="0.78" fill="#f8bd33"/><circle cx="155.3" cy="469.5" r="0.78" fill="#f8bd33"/><circle cx="166.4" cy="477.0" r="0.78" fill="#f8bb32"/><circle cx="151.3" cy="495.9" r="0.78" fill="#f8ba32"/><circle cx="159.9" cy="493.0" r="0.78" fill="#f8b932"/><circle cx="158.9" cy="469.8" r="0.78" fill="#f8b932"/><circle cx="162.7" cy="471.4" r="0.78" fill="#f8b832"/><circle cx="162.7" cy="489.4" r="0.78" fill="#f8b832"/><circle cx="166.2" cy="477.0" r="0.78" fill="#f8b631"/><circle cx="159.3" cy="470.1" r="0.78" fill="#f8b530"/><circle cx="162.5" cy="489.5" r="0.78" fill="#f8b530"/><circle cx="162.0" cy="490.5" r="0.78" fill="#f8b530"/><circle cx="156.5" cy="469.7" r="0.78" fill="#f8b430"/><circle cx="164.7" cy="472.9" r="0.78" fill="#f8b430"/><circle cx="143.4" cy="478.8" r="0.78" fill="#f8b32f"/><circle cx="160.4" cy="492.3" r="0.78" fill="#f8b22f"/><circle cx="142.7" cy="485.0" r="0.78" fill="#f8b22f"/><circle cx="166.0" cy="476.7" r="0.78" fill="#f8b12f"/><circle cx="155.9" cy="469.8" r="0.78" fill="#f8af2e"/><circle cx="143.1" cy="488.5" r="0.78" fill="#f8ad2d"/><circle cx="149.4" cy="472.1" r="0.78" fill="#f8ad2d"/><circle cx="143.9" cy="491.5" r="0.78" fill="#f8ac2c"/><circle cx="160.8" cy="491.6" r="0.78" fill="#f8ab2c"/><circle cx="165.4" cy="474.8" r="0.78" fill="#f8aa2c"/><circle cx="163.5" cy="486.6" r="0.78" fill="#f8a92b"/><circle cx="156.9" cy="470.1" r="0.78" fill="#f8a82b"/><circle cx="164.8" cy="482.2" r="0.78" fill="#f8a82b"/><circle cx="149.6" cy="495.4" r="0.78" fill="#f8a72b"/><circle cx="155.8" cy="470.1" r="0.78" fill="#f8a72a"/><circle cx="161.9" cy="471.8" r="0.78" fill="#f8a72a"/><circle cx="150.6" cy="471.7" r="0.78" fill="#f8a62a"/><circle cx="165.6" cy="477.7" r="0.78" fill="#f8a62a"/><circle cx="144.2" cy="491.7" r="0.78" fill="#f8a62a"/><circle cx="164.7" cy="482.6" r="0.78" fill="#f8a62a"/><circle cx="163.4" cy="486.6" r="0.78" fill="#f8a62a"/><circle cx="155.5" cy="470.2" r="0.78" fill="#f8a62a"/><circle cx="162.9" cy="472.3" r="0.78" fill="#f8a62a"/><circle cx="145.3" cy="475.5" r="0.78" fill="#f8a52a"/><circle cx="162.5" cy="472.2" r="0.78" fill="#f8a52a"/><circle cx="150.9" cy="495.3" r="0.78" fill="#f8a52a"/><circle cx="145.7" cy="475.0" r="0.78" fill="#f8a329"/><circle cx="143.1" cy="482.3" r="0.78" fill="#f8a329"/><circle cx="147.4" cy="494.7" r="0.78" fill="#f8a329"/><circle cx="165.4" cy="476.7" r="0.78" fill="#f8a228"/><circle cx="149.9" cy="472.2" r="0.78" fill="#f8a128"/><circle cx="152.7" cy="471.0" r="0.78" fill="#f8a128"/><circle cx="145.3" cy="493.0" r="0.78" fill="#f8a128"/><circle cx="165.4" cy="476.6" r="0.78" fill="#f8a028"/><circle cx="146.2" cy="493.8" r="0.78" fill="#f8a028"/><circle cx="157.4" cy="470.5" r="0.78" fill="#f79d27"/><circle cx="165.3" cy="477.6" r="0.78" fill="#f79c27"/><circle cx="165.0" cy="475.7" r="0.78" fill="#f69b27"/><circle cx="164.7" cy="481.6" r="0.78" fill="#f69a27"/><circle cx="157.7" cy="493.5" r="0.78" fill="#f69927"/><circle cx="160.6" cy="491.3" r="0.78" fill="#f59827"/><circle cx="165.1" cy="479.0" r="0.78" fill="#f59627"/><circle cx="148.9" cy="494.8" r="0.78" fill="#f49527"/><circle cx="152.4" cy="494.8" r="0.78" fill="#f49426"/><circle cx="148.6" cy="494.7" r="0.78" fill="#f39026"/><circle cx="163.9" cy="474.2" r="0.78" fill="#f28d26"/><circle cx="164.9" cy="476.7" r="0.78" fill="#f28d26"/><circle cx="145.7" cy="492.9" r="0.78" fill="#f28c26"/><circle cx="157.3" cy="493.4" r="0.78" fill="#f18926"/><circle cx="161.6" cy="489.5" r="0.78" fill="#f18926"/><circle cx="150.4" cy="494.8" r="0.78" fill="#f18825"/><circle cx="143.4" cy="483.2" r="0.78" fill="#f18725"/><circle cx="143.4" cy="484.6" r="0.78" fill="#f08625"/><circle cx="159.0" cy="492.3" r="0.78" fill="#ef8025"/><circle cx="146.1" cy="475.3" r="0.78" fill="#ee7f25"/><circle cx="148.7" cy="473.3" r="0.78" fill="#ee7e25"/><circle cx="164.6" cy="479.9" r="0.78" fill="#ee7d25"/><circle cx="144.5" cy="490.6" r="0.8" fill="#ee7d24" stroke="#fff" stroke-width="0.12"/><circle cx="152.9" cy="494.3" r="0.8" fill="#ed7c24" stroke="#fff" stroke-width="0.12"/><circle cx="144.7" cy="491.0" r="0.8" fill="#ed7c24" stroke="#fff" stroke-width="0.12"/><circle cx="147.7" cy="474.0" r="0.8" fill="#ed7b24" stroke="#fff" stroke-width="0.12"/><circle cx="155.8" cy="470.9" r="0.8" fill="#ed7b24" stroke="#fff" stroke-width="0.12"/><circle cx="146.5" cy="493.2" r="0.8" fill="#ed7a24" stroke="#fff" stroke-width="0.12"/><circle cx="162.0" cy="488.3" r="0.8" fill="#ed7a24" stroke="#fff" stroke-width="0.12"/><circle cx="154.8" cy="493.9" r="0.8" fill="#ed7924" stroke="#fff" stroke-width="0.12"/><circle cx="143.6" cy="483.8" r="0.8" fill="#ec7824" stroke="#fff" stroke-width="0.12"/><circle cx="149.4" cy="494.4" r="0.8" fill="#ec7724" stroke="#fff" stroke-width="0.12"/><circle cx="155.7" cy="493.6" r="0.8" fill="#ec7724" stroke="#fff" stroke-width="0.12"/><circle cx="160.4" cy="490.8" r="0.8" fill="#eb7524" stroke="#fff" stroke-width="0.12"/><circle cx="145.2" cy="476.8" r="0.8" fill="#eb7524" stroke="#fff" stroke-width="0.12"/><circle cx="164.5" cy="478.0" r="0.8" fill="#eb7424" stroke="#fff" stroke-width="0.12"/><circle cx="159.9" cy="491.3" r="0.8" fill="#eb7424" stroke="#fff" stroke-width="0.12"/><circle cx="160.2" cy="491.0" r="0.8" fill="#eb7324" stroke="#fff" stroke-width="0.12"/><circle cx="163.0" cy="474.2" r="0.8" fill="#ea7224" stroke="#fff" stroke-width="0.12"/><circle cx="146.7" cy="475.0" r="0.8" fill="#ea7123" stroke="#fff" stroke-width="0.12"/><circle cx="156.4" cy="471.1" r="0.8" fill="#ea7023" stroke="#fff" stroke-width="0.12"/><circle cx="158.2" cy="471.4" r="0.8" fill="#ea7023" stroke="#fff" stroke-width="0.12"/><circle cx="164.1" cy="481.5" r="0.8" fill="#e96e23" stroke="#fff" stroke-width="0.12"/><circle cx="153.2" cy="494.0" r="0.8" fill="#e96d23" stroke="#fff" stroke-width="0.12"/><circle cx="143.8" cy="485.9" r="0.8" fill="#e96d23" stroke="#fff" stroke-width="0.12"/><circle cx="163.7" cy="482.9" r="0.8" fill="#e86b23" stroke="#fff" stroke-width="0.12"/><circle cx="154.8" cy="493.7" r="0.8" fill="#e86b23" stroke="#fff" stroke-width="0.12"/><circle cx="143.9" cy="481.2" r="0.8" fill="#e86b23" stroke="#fff" stroke-width="0.12"/><circle cx="163.3" cy="474.9" r="0.8" fill="#e86823" stroke="#fff" stroke-width="0.12"/><circle cx="164.2" cy="477.3" r="0.8" fill="#e86823" stroke="#fff" stroke-width="0.12"/><circle cx="159.5" cy="491.4" r="0.8" fill="#e76723" stroke="#fff" stroke-width="0.12"/><circle cx="163.0" cy="474.6" r="0.8" fill="#e76623" stroke="#fff" stroke-width="0.12"/><circle cx="164.1" cy="480.1" r="0.8" fill="#e76422" stroke="#fff" stroke-width="0.12"/><circle cx="164.2" cy="479.2" r="0.8" fill="#e66222" stroke="#fff" stroke-width="0.12"/><circle cx="164.0" cy="477.1" r="0.8" fill="#e56122" stroke="#fff" stroke-width="0.12"/><circle cx="157.1" cy="471.5" r="0.8" fill="#e56122" stroke="#fff" stroke-width="0.12"/><circle cx="155.9" cy="471.4" r="0.8" fill="#e56022" stroke="#fff" stroke-width="0.12"/><circle cx="143.9" cy="483.2" r="0.8" fill="#e55f22" stroke="#fff" stroke-width="0.12"/><circle cx="160.8" cy="489.7" r="0.8" fill="#e45b22" stroke="#fff" stroke-width="0.12"/><circle cx="145.3" cy="491.0" r="0.8" fill="#e45a21" stroke="#fff" stroke-width="0.12"/><circle cx="144.6" cy="489.1" r="0.8" fill="#e35721" stroke="#fff" stroke-width="0.12"/><circle cx="149.2" cy="473.7" r="0.8" fill="#e25521" stroke="#fff" stroke-width="0.12"/><circle cx="163.7" cy="481.5" r="0.8" fill="#e25421" stroke="#fff" stroke-width="0.12"/><circle cx="154.3" cy="471.8" r="0.8" fill="#e25421" stroke="#fff" stroke-width="0.12"/><circle cx="157.1" cy="492.6" r="0.8" fill="#e15221" stroke="#fff" stroke-width="0.12"/><circle cx="153.7" cy="472.0" r="0.8" fill="#e15121" stroke="#fff" stroke-width="0.12"/><circle cx="147.6" cy="493.1" r="0.8" fill="#e15021" stroke="#fff" stroke-width="0.12"/><circle cx="146.8" cy="475.5" r="0.8" fill="#e15021" stroke="#fff" stroke-width="0.12"/><circle cx="145.6" cy="491.1" r="0.8" fill="#e15021" stroke="#fff" stroke-width="0.12"/><circle cx="146.4" cy="492.2" r="0.8" fill="#e04f21" stroke="#fff" stroke-width="0.12"/><circle cx="155.8" cy="471.7" r="0.8" fill="#e04f20" stroke="#fff" stroke-width="0.12"/><circle cx="149.2" cy="493.7" r="0.8" fill="#e04d20" stroke="#fff" stroke-width="0.12"/><circle cx="152.7" cy="472.3" r="0.8" fill="#df4b20" stroke="#fff" stroke-width="0.12"/><circle cx="163.1" cy="475.9" r="0.8" fill="#df4b20" stroke="#fff" stroke-width="0.12"/><circle cx="161.6" cy="474.1" r="0.8" fill="#df4920" stroke="#fff" stroke-width="0.12"/><circle cx="155.5" cy="471.8" r="0.8" fill="#df4920" stroke="#fff" stroke-width="0.12"/><circle cx="163.0" cy="484.0" r="0.8" fill="#de4720" stroke="#fff" stroke-width="0.12"/><circle cx="147.2" cy="492.6" r="0.8" fill="#de4620" stroke="#fff" stroke-width="0.12"/><circle cx="145.0" cy="489.2" r="0.8" fill="#dc401f" stroke="#fff" stroke-width="0.12"/><circle cx="159.9" cy="490.2" r="0.8" fill="#db3e1f" stroke="#fff" stroke-width="0.12"/><circle cx="158.5" cy="472.5" r="0.8" fill="#db3e1f" stroke="#fff" stroke-width="0.12"/><circle cx="153.6" cy="493.2" r="0.8" fill="#db3c1f" stroke="#fff" stroke-width="0.12"/><circle cx="145.8" cy="477.3" r="0.8" fill="#db3c1f" stroke="#fff" stroke-width="0.12"/><circle cx="144.3" cy="484.2" r="0.8" fill="#db3b1f" stroke="#fff" stroke-width="0.12"/><circle cx="156.4" cy="472.0" r="0.8" fill="#db3b1f" stroke="#fff" stroke-width="0.12"/><circle cx="157.8" cy="491.7" r="0.8" fill="#da381e" stroke="#fff" stroke-width="0.12"/><circle cx="144.9" cy="488.3" r="0.8" fill="#d8331e" stroke="#fff" stroke-width="0.12"/><circle cx="146.2" cy="491.2" r="0.8" fill="#d8331e" stroke="#fff" stroke-width="0.12"/><circle cx="162.9" cy="483.4" r="0.8" fill="#d8331e" stroke="#fff" stroke-width="0.12"/><circle cx="144.5" cy="485.8" r="0.8" fill="#d8331e" stroke="#fff" stroke-width="0.12"/><circle cx="160.0" cy="473.5" r="0.8" fill="#d8321e" stroke="#fff" stroke-width="0.12"/><circle cx="159.5" cy="473.2" r="0.8" fill="#d8321e" stroke="#fff" stroke-width="0.12"/><circle cx="162.7" cy="476.3" r="0.8" fill="#d8311e" stroke="#fff" stroke-width="0.12"/><circle cx="160.7" cy="488.9" r="0.8" fill="#d8311e" stroke="#fff" stroke-width="0.12"/><circle cx="154.1" cy="472.4" r="0.8" fill="#d8301e" stroke="#fff" stroke-width="0.12"/><circle cx="148.9" cy="474.4" r="0.8" fill="#d7301e" stroke="#fff" stroke-width="0.12"/><circle cx="145.5" cy="478.2" r="0.8" fill="#d72e1e" stroke="#fff" stroke-width="0.12"/><circle cx="156.7" cy="492.1" r="0.8" fill="#d72d1e" stroke="#fff" stroke-width="0.12"/><circle cx="144.5" cy="484.9" r="0.8" fill="#d72d1e" stroke="#fff" stroke-width="0.12"/><circle cx="146.6" cy="491.5" r="0.8" fill="#d72d1e" stroke="#fff" stroke-width="0.12"/><circle cx="149.4" cy="493.1" r="0.8" fill="#d72d1e" stroke="#fff" stroke-width="0.12"/><circle cx="145.9" cy="490.6" r="0.8" fill="#d62c1d" stroke="#fff" stroke-width="0.12"/><circle cx="149.4" cy="493.1" r="0.8" fill="#d62c1d" stroke="#fff" stroke-width="0.12"/><circle cx="150.1" cy="493.1" r="0.8" fill="#d52c1d" stroke="#fff" stroke-width="0.12"/><circle cx="145.8" cy="490.1" r="0.8" fill="#d42b1d" stroke="#fff" stroke-width="0.12"/><circle cx="146.1" cy="490.5" r="0.8" fill="#d42b1d" stroke="#fff" stroke-width="0.12"/><circle cx="147.1" cy="476.0" r="0.8" fill="#d42b1d" stroke="#fff" stroke-width="0.12"/><circle cx="150.1" cy="474.0" r="0.8" fill="#d32b1d" stroke="#fff" stroke-width="0.12"/><circle cx="145.4" cy="488.9" r="0.8" fill="#d32b1d" stroke="#fff" stroke-width="0.12"/><circle cx="145.0" cy="480.3" r="0.8" fill="#d32a1d" stroke="#fff" stroke-width="0.12"/><circle cx="145.6" cy="478.4" r="0.8" fill="#d22a1d" stroke="#fff" stroke-width="0.12"/><circle cx="157.6" cy="491.4" r="0.8" fill="#d22a1d" stroke="#fff" stroke-width="0.12"/><circle cx="145.8" cy="478.1" r="0.8" fill="#d22a1d" stroke="#fff" stroke-width="0.12"/><circle cx="158.8" cy="473.3" r="0.8" fill="#d22a1d" stroke="#fff" stroke-width="0.12"/><circle cx="158.0" cy="491.1" r="0.8" fill="#d12a1d" stroke="#fff" stroke-width="0.12"/><circle cx="144.7" cy="483.9" r="0.8" fill="#d12a1d" stroke="#fff" stroke-width="0.12"/><circle cx="162.4" cy="476.9" r="0.8" fill="#d12a1d" stroke="#fff" stroke-width="0.12"/><circle cx="159.9" cy="489.3" r="0.8" fill="#d1291d" stroke="#fff" stroke-width="0.12"/><circle cx="155.2" cy="492.3" r="0.8" fill="#d0291d" stroke="#fff" stroke-width="0.12"/><circle cx="146.0" cy="477.9" r="0.8" fill="#d0291d" stroke="#fff" stroke-width="0.12"/><circle cx="147.6" cy="475.9" r="0.8" fill="#cf291d" stroke="#fff" stroke-width="0.12"/><circle cx="146.0" cy="489.9" r="0.8" fill="#cf281c" stroke="#fff" stroke-width="0.12"/><circle cx="161.0" cy="475.3" r="0.8" fill="#cd271c" stroke="#fff" stroke-width="0.12"/><circle cx="148.4" cy="475.3" r="0.8" fill="#cc271c" stroke="#fff" stroke-width="0.12"/><circle cx="162.3" cy="483.3" r="0.8" fill="#cc271c" stroke="#fff" stroke-width="0.12"/><circle cx="162.0" cy="484.3" r="0.8" fill="#cc271c" stroke="#fff" stroke-width="0.12"/><circle cx="147.2" cy="476.5" r="0.8" fill="#cb271c" stroke="#fff" stroke-width="0.12"/><circle cx="161.4" cy="476.1" r="0.8" fill="#cb271c" stroke="#fff" stroke-width="0.12"/><circle cx="152.9" cy="492.4" r="0.8" fill="#cb261c" stroke="#fff" stroke-width="0.12"/><circle cx="148.8" cy="492.2" r="0.8" fill="#cb261c" stroke="#fff" stroke-width="0.12"/><circle cx="162.4" cy="482.2" r="0.8" fill="#cb261c" stroke="#fff" stroke-width="0.12"/><circle cx="146.2" cy="489.7" r="0.8" fill="#ca261c" stroke="#fff" stroke-width="0.12"/><circle cx="155.6" cy="491.8" r="0.8" fill="#ca261c" stroke="#fff" stroke-width="0.12"/><circle cx="160.4" cy="488.1" r="0.8" fill="#ca261c" stroke="#fff" stroke-width="0.12"/><circle cx="159.6" cy="474.4" r="0.8" fill="#c9261c" stroke="#fff" stroke-width="0.12"/><circle cx="145.3" cy="486.7" r="0.8" fill="#c9251c" stroke="#fff" stroke-width="0.12"/><circle cx="158.2" cy="473.8" r="0.8" fill="#c8251c" stroke="#fff" stroke-width="0.12"/><circle cx="162.1" cy="483.2" r="0.8" fill="#c8251c" stroke="#fff" stroke-width="0.12"/><circle cx="145.2" cy="482.7" r="0.8" fill="#c7241b" stroke="#fff" stroke-width="0.12"/><circle cx="155.0" cy="491.8" r="0.8" fill="#c7241b" stroke="#fff" stroke-width="0.12"/><circle cx="150.1" cy="474.6" r="0.8" fill="#c7241b" stroke="#fff" stroke-width="0.12"/><circle cx="145.4" cy="486.3" r="0.8" fill="#c6241b" stroke="#fff" stroke-width="0.12"/><circle cx="154.0" cy="491.9" r="0.8" fill="#c6241b" stroke="#fff" stroke-width="0.12"/><circle cx="149.8" cy="492.1" r="0.8" fill="#c6241b" stroke="#fff" stroke-width="0.12"/><circle cx="149.3" cy="492.0" r="0.8" fill="#c6231b" stroke="#fff" stroke-width="0.12"/><circle cx="145.2" cy="483.8" r="0.8" fill="#c6231b" stroke="#fff" stroke-width="0.12"/><circle cx="156.1" cy="491.3" r="0.8" fill="#c5231b" stroke="#fff" stroke-width="0.12"/><circle cx="154.6" cy="473.4" r="0.8" fill="#c5231b" stroke="#fff" stroke-width="0.12"/><circle cx="159.2" cy="474.6" r="0.8" fill="#c5231b" stroke="#fff" stroke-width="0.12"/><circle cx="154.4" cy="473.4" r="0.8" fill="#c4231b" stroke="#fff" stroke-width="0.12"/><circle cx="159.8" cy="488.4" r="0.8" fill="#c4231b" stroke="#fff" stroke-width="0.12"/><circle cx="145.9" cy="487.7" r="0.8" fill="#c3221b" stroke="#fff" stroke-width="0.12"/><circle cx="157.5" cy="490.5" r="0.8" fill="#c3221b" stroke="#fff" stroke-width="0.12"/><circle cx="159.2" cy="474.7" r="0.8" fill="#c3221b" stroke="#fff" stroke-width="0.12"/><circle cx="159.7" cy="488.5" r="0.8" fill="#c3221b" stroke="#fff" stroke-width="0.12"/><circle cx="145.7" cy="486.9" r="0.8" fill="#c2221b" stroke="#fff" stroke-width="0.12"/><circle cx="148.8" cy="491.5" r="0.8" fill="#c2221b" stroke="#fff" stroke-width="0.12"/><circle cx="148.1" cy="491.0" r="0.8" fill="#c1211b" stroke="#fff" stroke-width="0.12"/><circle cx="155.4" cy="473.6" r="0.8" fill="#c0211b" stroke="#fff" stroke-width="0.12"/><circle cx="145.5" cy="484.5" r="0.8" fill="#c0211b" stroke="#fff" stroke-width="0.12"/><circle cx="146.8" cy="489.5" r="0.8" fill="#c0201a" stroke="#fff" stroke-width="0.12"/><circle cx="150.2" cy="491.8" r="0.8" fill="#c0201a" stroke="#fff" stroke-width="0.12"/><circle cx="145.7" cy="480.9" r="0.8" fill="#bf201a" stroke="#fff" stroke-width="0.12"/><circle cx="161.0" cy="485.6" r="0.8" fill="#be1f1a" stroke="#fff" stroke-width="0.12"/><circle cx="156.5" cy="490.7" r="0.8" fill="#bd1f1a" stroke="#fff" stroke-width="0.12"/><circle cx="160.9" cy="485.8" r="0.8" fill="#bd1f1a" stroke="#fff" stroke-width="0.12"/><circle cx="154.3" cy="491.3" r="0.8" fill="#bd1f1a" stroke="#fff" stroke-width="0.12"/><circle cx="157.8" cy="474.4" r="0.8" fill="#bc1f1a" stroke="#fff" stroke-width="0.12"/><circle cx="153.7" cy="474.0" r="0.8" fill="#bc1e1a" stroke="#fff" stroke-width="0.12"/><circle cx="145.8" cy="486.0" r="0.8" fill="#bc1e1a" stroke="#fff" stroke-width="0.12"/><circle cx="147.3" cy="477.6" r="0.8" fill="#bc1e1a" stroke="#fff" stroke-width="0.12"/><circle cx="159.0" cy="488.8" r="0.8" fill="#bc1e1a" stroke="#fff" stroke-width="0.12"/><circle cx="146.5" cy="488.2" r="0.8" fill="#bc1e1a" stroke="#fff" stroke-width="0.12"/><circle cx="150.7" cy="491.6" r="0.8" fill="#bb1e1a" stroke="#fff" stroke-width="0.12"/><circle cx="145.9" cy="481.0" r="0.8" fill="#bb1e1a" stroke="#fff" stroke-width="0.12"/><circle cx="156.6" cy="474.1" r="0.8" fill="#bb1e1a" stroke="#fff" stroke-width="0.12"/><circle cx="147.7" cy="490.2" r="0.8" fill="#bb1e1a" stroke="#fff" stroke-width="0.12"/><circle cx="147.1" cy="477.9" r="0.8" fill="#bb1e1a" stroke="#fff" stroke-width="0.12"/><circle cx="159.4" cy="488.2" r="0.8" fill="#ba1d1a" stroke="#fff" stroke-width="0.12"/><circle cx="158.8" cy="488.9" r="0.8" fill="#ba1d1a" stroke="#fff" stroke-width="0.12"/><circle cx="150.8" cy="475.0" r="0.8" fill="#ba1d1a" stroke="#fff" stroke-width="0.12"/><circle cx="159.0" cy="475.4" r="0.8" fill="#b91d1a" stroke="#fff" stroke-width="0.12"/><circle cx="155.6" cy="490.7" r="0.8" fill="#b91d1a" stroke="#fff" stroke-width="0.12"/><circle cx="148.6" cy="490.7" r="0.8" fill="#b81c19" stroke="#fff" stroke-width="0.12"/><circle cx="161.3" cy="479.1" r="0.8" fill="#b81c19" stroke="#fff" stroke-width="0.12"/><circle cx="147.0" cy="488.8" r="0.8" fill="#b71c19" stroke="#fff" stroke-width="0.12"/><circle cx="160.1" cy="476.7" r="0.8" fill="#b71c19" stroke="#fff" stroke-width="0.12"/><circle cx="150.5" cy="475.3" r="0.8" fill="#b71c19" stroke="#fff" stroke-width="0.12"/><circle cx="161.3" cy="483.0" r="0.8" fill="#b71c19" stroke="#fff" stroke-width="0.12"/><circle cx="161.4" cy="480.0" r="0.8" fill="#b61b19" stroke="#fff" stroke-width="0.12"/><circle cx="149.5" cy="490.8" r="0.8" fill="#b41a19" stroke="#fff" stroke-width="0.12"/><circle cx="161.2" cy="482.5" r="0.8" fill="#b41a19" stroke="#fff" stroke-width="0.12"/><circle cx="150.3" cy="491.0" r="0.8" fill="#b41a19" stroke="#fff" stroke-width="0.12"/><circle cx="151.4" cy="475.1" r="0.8" fill="#b31a19" stroke="#fff" stroke-width="0.12"/><circle cx="147.6" cy="489.2" r="0.8" fill="#b21919" stroke="#fff" stroke-width="0.12"/><circle cx="151.2" cy="490.9" r="0.8" fill="#b11919" stroke="#fff" stroke-width="0.12"/><circle cx="161.0" cy="483.3" r="0.8" fill="#b11919" stroke="#fff" stroke-width="0.12"/><circle cx="147.1" cy="478.8" r="0.8" fill="#b11919" stroke="#fff" stroke-width="0.12"/><circle cx="154.4" cy="490.6" r="0.8" fill="#b11919" stroke="#fff" stroke-width="0.12"/><circle cx="146.9" cy="487.7" r="0.8" fill="#b11818" stroke="#fff" stroke-width="0.12"/><circle cx="149.0" cy="490.3" r="0.8" fill="#b11818" stroke="#fff" stroke-width="0.12"/><circle cx="146.7" cy="479.9" r="0.8" fill="#b01818" stroke="#fff" stroke-width="0.12"/><circle cx="146.2" cy="482.3" r="0.8" fill="#b01818" stroke="#fff" stroke-width="0.12"/><circle cx="156.3" cy="474.7" r="0.8" fill="#b01818" stroke="#fff" stroke-width="0.12"/><circle cx="158.5" cy="488.4" r="0.8" fill="#b01818" stroke="#fff" stroke-width="0.12"/><circle cx="160.9" cy="479.4" r="0.8" fill="#b01818" stroke="#fff" stroke-width="0.12"/><circle cx="154.0" cy="490.6" r="0.8" fill="#af1818" stroke="#fff" stroke-width="0.12"/><circle cx="147.9" cy="477.8" r="0.8" fill="#af1818" stroke="#fff" stroke-width="0.12"/><circle cx="148.0" cy="489.3" r="0.8" fill="#af1718" stroke="#fff" stroke-width="0.12"/><circle cx="155.8" cy="474.7" r="0.8" fill="#af1718" stroke="#fff" stroke-width="0.12"/><circle cx="147.0" cy="479.3" r="0.8" fill="#af1718" stroke="#fff" stroke-width="0.12"/><circle cx="158.8" cy="476.2" r="0.8" fill="#af1718" stroke="#fff" stroke-width="0.12"/><circle cx="160.7" cy="479.2" r="0.8" fill="#ae1718" stroke="#fff" stroke-width="0.12"/><circle cx="154.2" cy="490.5" r="0.8" fill="#ae1718" stroke="#fff" stroke-width="0.12"/><circle cx="147.7" cy="478.1" r="0.8" fill="#ae1718" stroke="#fff" stroke-width="0.12"/><circle cx="156.4" cy="474.9" r="0.8" fill="#ae1718" stroke="#fff" stroke-width="0.12"/><circle cx="154.7" cy="474.7" r="0.8" fill="#ad1718" stroke="#fff" stroke-width="0.12"/><circle cx="151.5" cy="475.4" r="0.8" fill="#ad1618" stroke="#fff" stroke-width="0.12"/><circle cx="160.8" cy="479.9" r="0.8" fill="#ad1618" stroke="#fff" stroke-width="0.12"/><circle cx="158.2" cy="488.4" r="0.8" fill="#ad1618" stroke="#fff" stroke-width="0.12"/><circle cx="159.0" cy="487.5" r="0.8" fill="#ac1618" stroke="#fff" stroke-width="0.12"/><circle cx="151.8" cy="490.6" r="0.8" fill="#ac1618" stroke="#fff" stroke-width="0.12"/><circle cx="149.1" cy="490.0" r="0.8" fill="#ac1618" stroke="#fff" stroke-width="0.12"/><circle cx="159.8" cy="477.6" r="0.8" fill="#ac1618" stroke="#fff" stroke-width="0.12"/><circle cx="146.6" cy="485.8" r="0.8" fill="#ac1618" stroke="#fff" stroke-width="0.12"/><circle cx="160.5" cy="484.1" r="0.8" fill="#ab1618" stroke="#fff" stroke-width="0.12"/><circle cx="160.8" cy="480.4" r="0.8" fill="#ab1518" stroke="#fff" stroke-width="0.12"/><circle cx="152.9" cy="490.5" r="0.8" fill="#ab1518" stroke="#fff" stroke-width="0.12"/><circle cx="153.2" cy="490.5" r="0.8" fill="#ab1518" stroke="#fff" stroke-width="0.12"/><circle cx="154.8" cy="474.9" r="0.8" fill="#ab1518" stroke="#fff" stroke-width="0.12"/><circle cx="159.3" cy="477.1" r="0.8" fill="#ab1518" stroke="#fff" stroke-width="0.12"/><circle cx="159.6" cy="486.4" r="0.8" fill="#ab1518" stroke="#fff" stroke-width="0.12"/><circle cx="148.3" cy="477.7" r="0.8" fill="#aa1518" stroke="#fff" stroke-width="0.12"/><circle cx="159.0" cy="476.8" r="0.8" fill="#aa1518" stroke="#fff" stroke-width="0.12"/><circle cx="159.1" cy="487.2" r="0.8" fill="#aa1518" stroke="#fff" stroke-width="0.12"/><circle cx="146.5" cy="482.4" r="0.8" fill="#aa1518" stroke="#fff" stroke-width="0.12"/><circle cx="149.5" cy="489.9" r="0.8" fill="#a81417" stroke="#fff" stroke-width="0.12"/><circle cx="146.6" cy="484.1" r="0.8" fill="#a81317" stroke="#fff" stroke-width="0.12"/><circle cx="158.0" cy="488.2" r="0.8" fill="#a71317" stroke="#fff" stroke-width="0.12"/><circle cx="155.2" cy="475.2" r="0.8" fill="#a71317" stroke="#fff" stroke-width="0.12"/><circle cx="151.3" cy="475.9" r="0.8" fill="#a71317" stroke="#fff" stroke-width="0.12"/><circle cx="153.8" cy="475.2" r="0.8" fill="#a71317" stroke="#fff" stroke-width="0.12"/><circle cx="149.1" cy="489.5" r="0.8" fill="#a61317" stroke="#fff" stroke-width="0.12"/><circle cx="155.7" cy="475.5" r="0.8" fill="#a41117" stroke="#fff" stroke-width="0.12"/><circle cx="160.1" cy="479.7" r="0.8" fill="#a31117" stroke="#fff" stroke-width="0.12"/><circle cx="151.3" cy="476.1" r="0.8" fill="#a31117" stroke="#fff" stroke-width="0.12"/><circle cx="158.9" cy="477.5" r="0.8" fill="#a31117" stroke="#fff" stroke-width="0.12"/><circle cx="160.3" cy="482.5" r="0.8" fill="#a21117" stroke="#fff" stroke-width="0.12"/><circle cx="154.6" cy="475.4" r="0.8" fill="#a21117" stroke="#fff" stroke-width="0.12"/><circle cx="159.8" cy="484.6" r="0.8" fill="#a21016" stroke="#fff" stroke-width="0.12"/><circle cx="159.9" cy="484.2" r="0.8" fill="#a11016" stroke="#fff" stroke-width="0.12"/><circle cx="157.6" cy="488.0" r="0.8" fill="#a11016" stroke="#fff" stroke-width="0.12"/><circle cx="159.5" cy="485.3" r="0.8" fill="#a11016" stroke="#fff" stroke-width="0.12"/><circle cx="160.1" cy="483.4" r="0.8" fill="#a11016" stroke="#fff" stroke-width="0.12"/><circle cx="147.0" cy="484.9" r="0.8" fill="#a11016" stroke="#fff" stroke-width="0.12"/><circle cx="147.8" cy="479.2" r="0.8" fill="#a01016" stroke="#fff" stroke-width="0.12"/><circle cx="149.3" cy="477.5" r="0.8" fill="#a00f16" stroke="#fff" stroke-width="0.12"/><circle cx="158.7" cy="486.7" r="0.8" fill="#9f0f16" stroke="#fff" stroke-width="0.12"/><circle cx="158.3" cy="477.2" r="0.8" fill="#9f0f16" stroke="#fff" stroke-width="0.12"/><circle cx="148.1" cy="478.9" r="0.8" fill="#9f0f16" stroke="#fff" stroke-width="0.12"/><circle cx="156.1" cy="475.9" r="0.8" fill="#9f0f16" stroke="#fff" stroke-width="0.12"/><circle cx="158.9" cy="477.9" r="0.8" fill="#9f0f16" stroke="#fff" stroke-width="0.12"/><circle cx="147.1" cy="484.6" r="0.8" fill="#9e0f16" stroke="#fff" stroke-width="0.12"/><circle cx="159.3" cy="485.5" r="0.8" fill="#9e0f16" stroke="#fff" stroke-width="0.12"/><circle cx="158.8" cy="477.7" r="0.8" fill="#9e0f16" stroke="#fff" stroke-width="0.12"/><circle cx="147.1" cy="481.6" r="0.8" fill="#9e0f16" stroke="#fff" stroke-width="0.12"/><circle cx="149.8" cy="477.2" r="0.8" fill="#9e0e16" stroke="#fff" stroke-width="0.12"/><circle cx="160.1" cy="481.4" r="0.8" fill="#9e0e16" stroke="#fff" stroke-width="0.12"/><circle cx="156.4" cy="488.6" r="0.8" fill="#9d0e16" stroke="#fff" stroke-width="0.12"/><circle cx="154.7" cy="475.8" r="0.8" fill="#9d0e16" stroke="#fff" stroke-width="0.12"/><circle cx="149.7" cy="477.3" r="0.8" fill="#9d0e16" stroke="#fff" stroke-width="0.12"/><circle cx="156.1" cy="476.1" r="0.8" fill="#9d0e16" stroke="#fff" stroke-width="0.12"/><circle cx="150.0" cy="489.2" r="0.8" fill="#9d0e16" stroke="#fff" stroke-width="0.12"/><circle cx="147.3" cy="481.4" r="0.8" fill="#9c0e16" stroke="#fff" stroke-width="0.12"/><circle cx="147.1" cy="483.6" r="0.8" fill="#9c0d16" stroke="#fff" stroke-width="0.12"/><circle cx="159.8" cy="483.2" r="0.8" fill="#9c0d16" stroke="#fff" stroke-width="0.12"/><circle cx="157.4" cy="476.8" r="0.8" fill="#9c0d16" stroke="#fff" stroke-width="0.12"/><circle cx="155.3" cy="476.0" r="0.8" fill="#9b0d16" stroke="#fff" stroke-width="0.12"/><circle cx="147.4" cy="485.4" r="0.8" fill="#9b0d16" stroke="#fff" stroke-width="0.12"/><circle cx="159.9" cy="482.5" r="0.8" fill="#9b0d16" stroke="#fff" stroke-width="0.12"/><circle cx="149.3" cy="488.5" r="0.8" fill="#9a0c15" stroke="#fff" stroke-width="0.12"/><circle cx="159.6" cy="483.8" r="0.8" fill="#9a0c15" stroke="#fff" stroke-width="0.12"/><circle cx="152.8" cy="476.2" r="0.8" fill="#9a0c15" stroke="#fff" stroke-width="0.12"/><circle cx="147.7" cy="480.3" r="0.8" fill="#990c15" stroke="#fff" stroke-width="0.12"/><circle cx="148.6" cy="478.7" r="0.8" fill="#990c15" stroke="#fff" stroke-width="0.12"/><circle cx="158.2" cy="486.6" r="0.8" fill="#990c15" stroke="#fff" stroke-width="0.12"/><circle cx="159.7" cy="482.7" r="0.8" fill="#990c15" stroke="#fff" stroke-width="0.12"/><circle cx="159.5" cy="480.2" r="0.8" fill="#980b15" stroke="#fff" stroke-width="0.12"/><circle cx="153.4" cy="489.2" r="0.8" fill="#980b15" stroke="#fff" stroke-width="0.12"/><circle cx="159.7" cy="481.6" r="0.8" fill="#980b15" stroke="#fff" stroke-width="0.12"/><circle cx="147.6" cy="485.1" r="0.8" fill="#980b15" stroke="#fff" stroke-width="0.12"/><circle cx="150.0" cy="477.4" r="0.8" fill="#980b15" stroke="#fff" stroke-width="0.12"/><circle cx="159.4" cy="483.9" r="0.8" fill="#970a15" stroke="#fff" stroke-width="0.12"/><circle cx="153.0" cy="489.1" r="0.8" fill="#970a15" stroke="#fff" stroke-width="0.12"/><circle cx="158.0" cy="486.6" r="0.8" fill="#960a15" stroke="#fff" stroke-width="0.12"/><circle cx="147.5" cy="483.9" r="0.8" fill="#960a15" stroke="#fff" stroke-width="0.12"/><circle cx="150.8" cy="488.9" r="0.8" fill="#950a15" stroke="#fff" stroke-width="0.12"/><circle cx="151.9" cy="489.0" r="0.8" fill="#940915" stroke="#fff" stroke-width="0.12"/><circle cx="147.9" cy="485.5" r="0.8" fill="#940915" stroke="#fff" stroke-width="0.12"/><circle cx="150.6" cy="477.3" r="0.8" fill="#940915" stroke="#fff" stroke-width="0.12"/><circle cx="159.4" cy="483.1" r="0.8" fill="#940915" stroke="#fff" stroke-width="0.12"/><circle cx="155.5" cy="488.3" r="0.8" fill="#940915" stroke="#fff" stroke-width="0.12"/><circle cx="159.1" cy="480.0" r="0.8" fill="#940915" stroke="#fff" stroke-width="0.12"/><circle cx="148.8" cy="478.9" r="0.8" fill="#930915" stroke="#fff" stroke-width="0.12"/><circle cx="159.2" cy="480.4" r="0.8" fill="#930814" stroke="#fff" stroke-width="0.12"/><circle cx="148.3" cy="479.8" r="0.8" fill="#930814" stroke="#fff" stroke-width="0.12"/><circle cx="148.6" cy="479.5" r="0.8" fill="#910714" stroke="#fff" stroke-width="0.12"/><circle cx="159.2" cy="483.2" r="0.8" fill="#910714" stroke="#fff" stroke-width="0.12"/><circle cx="158.1" cy="485.9" r="0.8" fill="#900714" stroke="#fff" stroke-width="0.12"/><circle cx="148.2" cy="480.5" r="0.8" fill="#900714" stroke="#fff" stroke-width="0.12"/><circle cx="158.9" cy="484.0" r="0.8" fill="#900714" stroke="#fff" stroke-width="0.12"/><circle cx="151.3" cy="477.2" r="0.8" fill="#900714" stroke="#fff" stroke-width="0.12"/><circle cx="148.4" cy="480.1" r="0.8" fill="#8f0714" stroke="#fff" stroke-width="0.12"/><circle cx="151.1" cy="488.4" r="0.8" fill="#8f0614" stroke="#fff" stroke-width="0.12"/><circle cx="150.1" cy="488.0" r="0.8" fill="#8f0614" stroke="#fff" stroke-width="0.12"/><circle cx="154.6" cy="488.3" r="0.8" fill="#8f0614" stroke="#fff" stroke-width="0.12"/><circle cx="159.0" cy="483.0" r="0.8" fill="#8d0614" stroke="#fff" stroke-width="0.12"/><circle cx="153.6" cy="488.4" r="0.8" fill="#8d0614" stroke="#fff" stroke-width="0.12"/><circle cx="158.8" cy="480.6" r="0.8" fill="#8d0514" stroke="#fff" stroke-width="0.12"/><circle cx="150.7" cy="488.1" r="0.8" fill="#8d0514" stroke="#fff" stroke-width="0.12"/><circle cx="158.4" cy="479.6" r="0.8" fill="#8c0514" stroke="#fff" stroke-width="0.12"/><circle cx="152.8" cy="478.5" r="0.8" fill="#8c0514" stroke="#fff" stroke-width="0.12"/><circle cx="154.1" cy="482.8" r="0.8" fill="#8c0514" stroke="#fff" stroke-width="0.12"/><circle cx="152.1" cy="486.1" r="0.8" fill="#8c0514" stroke="#fff" stroke-width="0.12"/><circle cx="154.7" cy="481.3" r="0.8" fill="#8c0514" stroke="#fff" stroke-width="0.12"/><circle cx="150.4" cy="483.3" r="0.8" fill="#8c0514" stroke="#fff" stroke-width="0.12"/><circle cx="157.1" cy="483.6" r="0.8" fill="#8c0514" stroke="#fff" stroke-width="0.12"/><circle cx="156.2" cy="478.9" r="0.8" fill="#8c0514" stroke="#fff" stroke-width="0.12"/><circle cx="156.0" cy="487.2" r="0.8" fill="#8c0514" stroke="#fff" stroke-width="0.12"/><circle cx="154.2" cy="481.9" r="0.8" fill="#8c0514" stroke="#fff" stroke-width="0.12"/><circle cx="152.7" cy="482.8" r="0.8" fill="#8c0514" stroke="#fff" stroke-width="0.12"/><circle cx="152.6" cy="480.8" r="0.8" fill="#8c0514" stroke="#fff" stroke-width="0.12"/><circle cx="153.4" cy="486.1" r="0.8" fill="#8c0514" stroke="#fff" stroke-width="0.12"/><circle cx="154.3" cy="484.0" r="0.8" fill="#8c0514" stroke="#fff" stroke-width="0.12"/><circle cx="151.2" cy="485.2" r="0.8" fill="#8c0514" stroke="#fff" stroke-width="0.12"/><circle cx="150.2" cy="478.8" r="0.8" fill="#8c0514" stroke="#fff" stroke-width="0.12"/><circle cx="154.8" cy="480.5" r="0.8" fill="#8c0514" stroke="#fff" stroke-width="0.12"/><circle cx="148.6" cy="482.8" r="0.8" fill="#8c0514" stroke="#fff" stroke-width="0.12"/><circle cx="157.5" cy="480.2" r="0.8" fill="#8c0514" stroke="#fff" stroke-width="0.12"/><circle cx="156.4" cy="480.1" r="0.8" fill="#8c0514" stroke="#fff" stroke-width="0.12"/><circle cx="153.7" cy="482.0" r="0.8" fill="#8c0514" stroke="#fff" stroke-width="0.12"/><circle cx="151.5" cy="478.0" r="0.8" fill="#8c0514" stroke="#fff" stroke-width="0.12"/><circle cx="157.9" cy="483.9" r="0.8" fill="#8c0514" stroke="#fff" stroke-width="0.12"/><circle cx="155.4" cy="484.5" r="0.8" fill="#8c0514" stroke="#fff" stroke-width="0.12"/><circle cx="155.4" cy="481.1" r="0.8" fill="#8c0514" stroke="#fff" stroke-width="0.12"/><circle cx="154.5" cy="482.7" r="0.8" fill="#8c0514" stroke="#fff" stroke-width="0.12"/><circle cx="153.9" cy="484.2" r="0.8" fill="#8c0514" stroke="#fff" stroke-width="0.12"/><circle cx="152.2" cy="483.1" r="0.8" fill="#8c0514" stroke="#fff" stroke-width="0.12"/><circle cx="150.1" cy="481.4" r="0.8" fill="#8c0514" stroke="#fff" stroke-width="0.12"/><circle cx="149.3" cy="482.8" r="0.8" fill="#8c0514" stroke="#fff" stroke-width="0.12"/><circle cx="158.1" cy="482.4" r="0.8" fill="#8c0514" stroke="#fff" stroke-width="0.12"/><circle cx="156.4" cy="477.9" r="0.8" fill="#8c0514" stroke="#fff" stroke-width="0.12"/><circle cx="148.3" cy="482.6" r="0.8" fill="#8c0514" stroke="#fff" stroke-width="0.12"/><circle cx="149.8" cy="484.5" r="0.8" fill="#8c0514" stroke="#fff" stroke-width="0.12"/><circle cx="157.8" cy="480.5" r="0.8" fill="#8c0514" stroke="#fff" stroke-width="0.12"/><circle cx="156.6" cy="484.8" r="0.8" fill="#8c0514" stroke="#fff" stroke-width="0.12"/><circle cx="151.1" cy="483.2" r="0.8" fill="#8c0514" stroke="#fff" stroke-width="0.12"/><circle cx="154.8" cy="483.2" r="0.8" fill="#8c0514" stroke="#fff" stroke-width="0.12"/><circle cx="155.5" cy="485.2" r="0.8" fill="#8c0514" stroke="#fff" stroke-width="0.12"/><circle cx="152.2" cy="477.6" r="0.8" fill="#8c0514" stroke="#fff" stroke-width="0.12"/><circle cx="154.4" cy="482.3" r="0.8" fill="#8c0514" stroke="#fff" stroke-width="0.12"/><circle cx="150.7" cy="479.8" r="0.8" fill="#8c0514" stroke="#fff" stroke-width="0.12"/><circle cx="158.1" cy="481.2" r="0.8" fill="#8c0514" stroke="#fff" stroke-width="0.12"/><circle cx="154.5" cy="486.8" r="0.8" fill="#8c0514" stroke="#fff" stroke-width="0.12"/><circle cx="149.6" cy="479.2" r="0.8" fill="#8c0514" stroke="#fff" stroke-width="0.12"/><circle cx="158.7" cy="480.4" r="0.8" fill="#8c0514" stroke="#fff" stroke-width="0.12"/><circle cx="152.4" cy="480.9" r="0.8" fill="#8c0514" stroke="#fff" stroke-width="0.12"/><circle cx="153.0" cy="480.6" r="0.8" fill="#8c0514" stroke="#fff" stroke-width="0.12"/><circle cx="151.3" cy="485.1" r="0.8" fill="#8c0514" stroke="#fff" stroke-width="0.12"/><circle cx="157.5" cy="480.3" r="0.8" fill="#8c0514" stroke="#fff" stroke-width="0.12"/><circle cx="151.6" cy="483.3" r="0.8" fill="#8c0514" stroke="#fff" stroke-width="0.12"/><circle cx="150.6" cy="484.2" r="0.8" fill="#8c0514" stroke="#fff" stroke-width="0.12"/><circle cx="153.1" cy="486.7" r="0.8" fill="#8c0514" stroke="#fff" stroke-width="0.12"/><circle cx="149.2" cy="481.3" r="0.8" fill="#8c0514" stroke="#fff" stroke-width="0.12"/><circle cx="151.9" cy="481.7" r="0.8" fill="#8c0514" stroke="#fff" stroke-width="0.12"/><circle cx="156.0" cy="479.0" r="0.8" fill="#8c0514" stroke="#fff" stroke-width="0.12"/><circle cx="152.5" cy="485.3" r="0.8" fill="#8c0514" stroke="#fff" stroke-width="0.12"/><circle cx="156.6" cy="482.5" r="0.8" fill="#8c0514" stroke="#fff" stroke-width="0.12"/><circle cx="154.4" cy="484.7" r="0.8" fill="#8c0514" stroke="#fff" stroke-width="0.12"/><circle cx="155.6" cy="480.3" r="0.8" fill="#8c0514" stroke="#fff" stroke-width="0.12"/><circle cx="149.2" cy="484.3" r="0.8" fill="#8c0514" stroke="#fff" stroke-width="0.12"/><circle cx="155.1" cy="481.4" r="0.8" fill="#8c0514" stroke="#fff" stroke-width="0.12"/><circle cx="151.7" cy="484.0" r="0.8" fill="#8c0514" stroke="#fff" stroke-width="0.12"/><circle cx="153.9" cy="486.1" r="0.8" fill="#8c0514" stroke="#fff" stroke-width="0.12"/><circle cx="153.2" cy="480.9" r="0.8" fill="#8c0514" stroke="#fff" stroke-width="0.12"/><circle cx="156.5" cy="483.4" r="0.8" fill="#8c0514" stroke="#fff" stroke-width="0.12"/><circle cx="152.3" cy="482.7" r="0.8" fill="#8c0514" stroke="#fff" stroke-width="0.12"/><circle cx="155.7" cy="486.3" r="0.8" fill="#8c0514" stroke="#fff" stroke-width="0.12"/><circle cx="154.6" cy="483.7" r="0.8" fill="#8c0514" stroke="#fff" stroke-width="0.12"/><circle cx="154.0" cy="482.1" r="0.8" fill="#8c0514" stroke="#fff" stroke-width="0.12"/><circle cx="154.4" cy="479.9" r="0.8" fill="#8c0514" stroke="#fff" stroke-width="0.12"/><circle cx="153.7" cy="488.2" r="0.8" fill="#8c0514" stroke="#fff" stroke-width="0.12"/><circle cx="149.7" cy="480.4" r="0.8" fill="#8c0514" stroke="#fff" stroke-width="0.12"/><circle cx="148.6" cy="480.6" r="0.8" fill="#8c0514" stroke="#fff" stroke-width="0.12"/><circle cx="149.1" cy="481.7" r="0.8" fill="#8c0514" stroke="#fff" stroke-width="0.12"/><circle cx="153.9" cy="479.5" r="0.8" fill="#8c0514" stroke="#fff" stroke-width="0.12"/><circle cx="153.3" cy="480.0" r="0.8" fill="#8c0514" stroke="#fff" stroke-width="0.12"/><circle cx="151.5" cy="481.6" r="0.8" fill="#8c0514" stroke="#fff" stroke-width="0.12"/><circle cx="154.2" cy="478.9" r="0.8" fill="#8c0514" stroke="#fff" stroke-width="0.12"/><circle cx="152.8" cy="482.4" r="0.8" fill="#8c0514" stroke="#fff" stroke-width="0.12"/><circle cx="155.3" cy="479.4" r="0.8" fill="#8c0514" stroke="#fff" stroke-width="0.12"/><circle cx="148.3" cy="484.5" r="0.8" fill="#8c0514" stroke="#fff" stroke-width="0.12"/><circle cx="157.9" cy="482.6" r="0.8" fill="#8c0514" stroke="#fff" stroke-width="0.12"/><circle cx="150.9" cy="482.4" r="0.8" fill="#8c0514" stroke="#fff" stroke-width="0.12"/><circle cx="149.9" cy="486.8" r="0.8" fill="#8c0514" stroke="#fff" stroke-width="0.12"/><circle cx="156.7" cy="478.9" r="0.8" fill="#8c0514" stroke="#fff" stroke-width="0.12"/><circle cx="153.3" cy="484.5" r="0.8" fill="#8c0514" stroke="#fff" stroke-width="0.12"/><circle cx="149.4" cy="483.6" r="0.8" fill="#8c0514" stroke="#fff" stroke-width="0.12"/><circle cx="152.5" cy="477.6" r="0.8" fill="#8c0514" stroke="#fff" stroke-width="0.12"/><circle cx="151.2" cy="481.6" r="0.8" fill="#8c0514" stroke="#fff" stroke-width="0.12"/><circle cx="153.2" cy="482.9" r="0.8" fill="#8c0514" stroke="#fff" stroke-width="0.12"/><circle cx="152.1" cy="481.8" r="0.8" fill="#8c0514" stroke="#fff" stroke-width="0.12"/><circle cx="154.2" cy="485.1" r="0.8" fill="#8c0514" stroke="#fff" stroke-width="0.12"/><circle cx="151.2" cy="486.5" r="0.8" fill="#8c0514" stroke="#fff" stroke-width="0.12"/><circle cx="156.7" cy="483.6" r="0.8" fill="#8c0514" stroke="#fff" stroke-width="0.12"/><circle cx="157.9" cy="482.6" r="0.8" fill="#8c0514" stroke="#fff" stroke-width="0.12"/><circle cx="156.7" cy="478.5" r="0.8" fill="#8c0514" stroke="#fff" stroke-width="0.12"/><circle cx="153.8" cy="477.0" r="0.8" fill="#8c0514" stroke="#fff" stroke-width="0.12"/><circle cx="150.9" cy="478.5" r="0.8" fill="#8c0514" stroke="#fff" stroke-width="0.12"/><circle cx="149.3" cy="482.1" r="0.8" fill="#8c0514" stroke="#fff" stroke-width="0.12"/><circle cx="157.2" cy="485.9" r="0.8" fill="#8c0514" stroke="#fff" stroke-width="0.12"/><circle cx="152.6" cy="486.7" r="0.8" fill="#8c0514" stroke="#fff" stroke-width="0.12"/><circle cx="153.6" cy="481.0" r="0.8" fill="#8c0514" stroke="#fff" stroke-width="0.12"/><circle cx="152.6" cy="480.8" r="0.8" fill="#8c0514" stroke="#fff" stroke-width="0.12"/><circle cx="153.4" cy="481.8" r="0.8" fill="#8c0514" stroke="#fff" stroke-width="0.12"/><circle cx="153.0" cy="484.1" r="0.8" fill="#8c0514" stroke="#fff" stroke-width="0.12"/><circle cx="152.0" cy="479.7" r="0.8" fill="#8c0514" stroke="#fff" stroke-width="0.12"/><circle cx="150.5" cy="481.3" r="0.8" fill="#8c0514" stroke="#fff" stroke-width="0.12"/><circle cx="157.2" cy="478.7" r="0.8" fill="#8c0514" stroke="#fff" stroke-width="0.12"/><circle cx="150.9" cy="485.1" r="0.8" fill="#8c0514" stroke="#fff" stroke-width="0.12"/><circle cx="153.6" cy="480.5" r="0.8" fill="#8c0514" stroke="#fff" stroke-width="0.12"/><circle cx="153.0" cy="485.7" r="0.8" fill="#8c0514" stroke="#fff" stroke-width="0.12"/><circle cx="149.2" cy="481.7" r="0.8" fill="#8c0514" stroke="#fff" stroke-width="0.12"/><circle cx="154.5" cy="477.7" r="0.8" fill="#8c0514" stroke="#fff" stroke-width="0.12"/><circle cx="151.2" cy="482.9" r="0.8" fill="#8c0514" stroke="#fff" stroke-width="0.12"/><circle cx="150.8" cy="486.2" r="0.8" fill="#8c0514" stroke="#fff" stroke-width="0.12"/><circle cx="152.3" cy="487.6" r="0.8" fill="#8c0514" stroke="#fff" stroke-width="0.12"/><circle cx="150.8" cy="483.1" r="0.8" fill="#8c0514" stroke="#fff" stroke-width="0.12"/><circle cx="155.9" cy="487.3" r="0.8" fill="#8c0514" stroke="#fff" stroke-width="0.12"/><circle cx="152.0" cy="477.4" r="0.8" fill="#8c0514" stroke="#fff" stroke-width="0.12"/><circle cx="154.2" cy="487.8" r="0.8" fill="#8c0514" stroke="#fff" stroke-width="0.12"/><circle cx="150.8" cy="483.8" r="0.8" fill="#8c0514" stroke="#fff" stroke-width="0.12"/><circle cx="158.2" cy="487.3" r="0.55" fill="#fff"/><circle cx="155.7" cy="484.1" r="0.55" fill="#fff"/><circle cx="158.8" cy="483.1" r="0.55" fill="#fff"/><circle cx="158.9" cy="486.4" r="0.55" fill="#fff"/><circle cx="159.4" cy="483.3" r="0.55" fill="#fff"/><circle cx="159.3" cy="482.3" r="0.55" fill="#fff"/><circle cx="148.5" cy="484.2" r="0.55" fill="#fff"/><circle cx="149.4" cy="484.3" r="0.55" fill="#fff"/><circle cx="151.1" cy="485.6" r="0.55" fill="#fff"/><circle cx="147.6" cy="483.2" r="0.55" fill="#fff"/><circle cx="157.3" cy="480.7" r="0.55" fill="#fff"/><circle cx="155.5" cy="475.1" r="0.55" fill="#fff"/><circle cx="159.7" cy="482.8" r="0.55" fill="#fff"/><circle cx="153.2" cy="480.8" r="0.55" fill="#fff"/><circle cx="151.7" cy="475.5" r="0.55" fill="#fff"/><circle cx="152.3" cy="485.9" r="0.55" fill="#fff"/><circle cx="155.5" cy="475.4" r="0.55" fill="#fff"/><circle cx="158.7" cy="477.1" r="0.55" fill="#fff"/><circle cx="154.6" cy="478.5" r="0.55" fill="#fff"/><circle cx="155.3" cy="479.2" r="0.55" fill="#fff"/><circle cx="150.9" cy="475.2" r="0.55" fill="#fff"/><circle cx="159.5" cy="480.4" r="0.55" fill="#fff"/><circle cx="152.3" cy="477.3" r="0.55" fill="#fff"/><circle cx="159.9" cy="482.6" r="0.55" fill="#fff"/><circle cx="147.5" cy="483.5" r="0.55" fill="#fff"/><circle cx="156.3" cy="479.4" r="0.55" fill="#fff"/><circle cx="159.4" cy="476.1" r="0.55" fill="#fff"/><circle cx="153.4" cy="486.4" r="0.55" fill="#fff"/><circle cx="147.9" cy="485.6" r="0.55" fill="#fff"/><circle cx="152.5" cy="485.5" r="0.55" fill="#fff"/><circle cx="156.8" cy="484.3" r="0.55" fill="#fff"/><circle cx="153.6" cy="491.3" r="0.55" fill="#fff"/><circle cx="158.8" cy="484.6" r="0.55" fill="#fff"/><circle cx="148.7" cy="482.8" r="0.55" fill="#fff"/><circle cx="154.9" cy="474.6" r="0.55" fill="#fff"/><circle cx="156.1" cy="486.1" r="0.55" fill="#fff"/><circle cx="154.3" cy="484.3" r="0.55" fill="#fff"/><circle cx="148.5" cy="485.0" r="0.55" fill="#fff"/><circle cx="156.3" cy="477.8" r="0.55" fill="#fff"/><circle cx="150.1" cy="486.8" r="0.55" fill="#fff"/><circle cx="160.2" cy="483.0" r="0.55" fill="#fff"/><circle cx="153.0" cy="488.8" r="0.55" fill="#fff"/><circle cx="151.4" cy="481.3" r="0.55" fill="#fff"/><circle cx="154.7" cy="488.3" r="0.55" fill="#fff"/><circle cx="147.9" cy="479.7" r="0.55" fill="#fff"/><circle cx="159.3" cy="477.3" r="0.55" fill="#fff"/><circle cx="154.1" cy="476.0" r="0.55" fill="#fff"/><circle cx="147.4" cy="484.6" r="0.55" fill="#fff"/><circle cx="158.6" cy="477.0" r="0.55" fill="#fff"/><circle cx="154.9" cy="480.1" r="0.55" fill="#fff"/><circle cx="149.9" cy="482.4" r="0.55" fill="#fff"/><circle cx="159.3" cy="480.0" r="0.55" fill="#fff"/><circle cx="154.9" cy="487.5" r="0.55" fill="#fff"/><circle cx="150.2" cy="490.3" r="0.55" fill="#fff"/><circle cx="159.1" cy="483.3" r="0.55" fill="#fff"/><circle cx="153.7" cy="482.3" r="0.55" fill="#fff"/><circle cx="149.8" cy="487.9" r="0.55" fill="#fff"/><circle cx="150.1" cy="482.6" r="0.55" fill="#fff"/><circle cx="156.1" cy="489.1" r="0.55" fill="#fff"/><circle cx="155.1" cy="480.6" r="0.55" fill="#fff"/><circle cx="149.5" cy="487.8" r="0.55" fill="#fff"/><circle cx="156.3" cy="476.2" r="0.55" fill="#fff"/><circle cx="147.2" cy="478.9" r="0.55" fill="#fff"/><circle cx="152.8" cy="488.1" r="0.55" fill="#fff"/><circle cx="156.9" cy="483.3" r="0.55" fill="#fff"/><circle cx="158.4" cy="486.8" r="0.55" fill="#fff"/><circle cx="154.4" cy="483.1" r="0.55" fill="#fff"/><circle cx="149.2" cy="491.0" r="0.55" fill="#fff"/><circle cx="148.4" cy="478.3" r="0.55" fill="#fff"/><circle cx="160.2" cy="485.8" r="0.55" fill="#fff"/><circle cx="150.8" cy="486.8" r="0.55" fill="#fff"/><circle cx="153.3" cy="480.6" r="0.55" fill="#fff"/><circle cx="159.1" cy="483.4" r="0.55" fill="#fff"/><circle cx="156.7" cy="477.0" r="0.55" fill="#fff"/><circle cx="147.8" cy="489.3" r="0.55" fill="#fff"/><circle cx="153.3" cy="481.5" r="0.55" fill="#fff"/><circle cx="150.3" cy="479.0" r="0.55" fill="#fff"/><circle cx="155.3" cy="474.2" r="0.55" fill="#fff"/><circle cx="146.8" cy="482.1" r="0.55" fill="#fff"/><circle cx="158.0" cy="480.7" r="0.55" fill="#fff"/><circle cx="159.3" cy="483.0" r="0.55" fill="#fff"/><circle cx="152.9" cy="490.9" r="0.55" fill="#fff"/><circle cx="152.9" cy="485.9" r="0.55" fill="#fff"/><circle cx="161.2" cy="483.7" r="0.55" fill="#fff"/><circle cx="151.1" cy="476.2" r="0.55" fill="#fff"/><circle cx="154.5" cy="490.8" r="0.55" fill="#fff"/><circle cx="153.8" cy="486.7" r="0.55" fill="#fff"/><circle cx="153.3" cy="479.5" r="0.55" fill="#fff"/><circle cx="157.9" cy="482.8" r="0.55" fill="#fff"/><circle cx="151.4" cy="490.7" r="0.55" fill="#fff"/><circle cx="159.4" cy="483.9" r="0.55" fill="#fff"/><circle cx="145.8" cy="481.7" r="0.55" fill="#fff"/><circle cx="152.4" cy="483.4" r="0.55" fill="#fff"/><circle cx="149.2" cy="478.8" r="0.55" fill="#fff"/><circle cx="150.8" cy="482.2" r="0.55" fill="#fff"/><circle cx="156.8" cy="478.8" r="0.55" fill="#fff"/><circle cx="159.9" cy="477.0" r="0.55" fill="#fff"/><circle cx="156.8" cy="483.7" r="0.55" fill="#fff"/><circle cx="146.4" cy="488.3" r="0.55" fill="#fff"/><circle cx="154.6" cy="479.3" r="0.55" fill="#fff"/><circle cx="156.7" cy="476.5" r="0.55" fill="#fff"/><circle cx="149.9" cy="481.5" r="0.55" fill="#fff"/><circle cx="156.8" cy="488.0" r="0.55" fill="#fff"/><circle cx="158.6" cy="486.0" r="0.55" fill="#fff"/><circle cx="150.7" cy="487.9" r="0.55" fill="#fff"/><circle cx="149.6" cy="484.3" r="0.55" fill="#fff"/><circle cx="154.6" cy="479.1" r="0.55" fill="#fff"/><circle cx="153.1" cy="483.2" r="0.55" fill="#fff"/><circle cx="160.5" cy="483.1" r="0.55" fill="#fff"/><circle cx="147.1" cy="484.6" r="0.55" fill="#fff"/><circle cx="147.6" cy="478.9" r="0.55" fill="#fff"/><circle cx="152.7" cy="481.6" r="0.55" fill="#fff"/><circle cx="146.1" cy="486.4" r="0.55" fill="#fff"/><circle cx="153.0" cy="482.4" r="0.55" fill="#fff"/><circle cx="154.2" cy="485.5" r="0.55" fill="#fff"/><circle cx="151.1" cy="489.9" r="0.55" fill="#fff"/><circle cx="153.1" cy="477.2" r="0.55" fill="#fff"/></g>
<rect x="102.5" y="398.5" width="117.5" height="116.5" fill="none" stroke="#2c4a80" stroke-width="2.4"/>
<line x1="98.4" y1="515.0" x2="101.3" y2="515.0" stroke="#000" stroke-width="1.1"/>
<text x="95.2" y="517.7" font-size="9.4" text-anchor="end" font-weight="normal" fill="#222"  stroke="#222" stroke-width="0.3">0</text>
<line x1="98.4" y1="491.8" x2="101.3" y2="491.8" stroke="#000" stroke-width="1.1"/>
<text x="95.2" y="494.5" font-size="9.4" text-anchor="end" font-weight="normal" fill="#222"  stroke="#222" stroke-width="0.3">0.02</text>
<line x1="98.4" y1="468.7" x2="101.3" y2="468.7" stroke="#000" stroke-width="1.1"/>
<text x="95.2" y="471.4" font-size="9.4" text-anchor="end" font-weight="normal" fill="#222"  stroke="#222" stroke-width="0.3">0.04</text>
<line x1="98.4" y1="445.5" x2="101.3" y2="445.5" stroke="#000" stroke-width="1.1"/>
<text x="95.2" y="448.2" font-size="9.4" text-anchor="end" font-weight="normal" fill="#222"  stroke="#222" stroke-width="0.3">0.06</text>
<line x1="98.4" y1="422.4" x2="101.3" y2="422.4" stroke="#000" stroke-width="1.1"/>
<text x="95.2" y="425.1" font-size="9.4" text-anchor="end" font-weight="normal" fill="#222"  stroke="#222" stroke-width="0.3">0.08</text>
<line x1="98.4" y1="399.2" x2="101.3" y2="399.2" stroke="#000" stroke-width="1.1"/>
<text x="95.2" y="401.9" font-size="9.4" text-anchor="end" font-weight="normal" fill="#222"  stroke="#222" stroke-width="0.3">0.1</text>
<line x1="102.5" y1="516.2" x2="102.5" y2="518.8" stroke="#000" stroke-width="1.1"/>
<line x1="119.3" y1="516.2" x2="119.3" y2="518.8" stroke="#000" stroke-width="1.1"/>
<line x1="136.1" y1="516.2" x2="136.1" y2="518.8" stroke="#000" stroke-width="1.1"/>
<line x1="152.9" y1="516.2" x2="152.9" y2="518.8" stroke="#000" stroke-width="1.1"/>
<line x1="169.7" y1="516.2" x2="169.7" y2="518.8" stroke="#000" stroke-width="1.1"/>
<line x1="186.4" y1="516.2" x2="186.4" y2="518.8" stroke="#000" stroke-width="1.1"/>
<line x1="203.2" y1="516.2" x2="203.2" y2="518.8" stroke="#000" stroke-width="1.1"/>
<line x1="220.0" y1="516.2" x2="220.0" y2="518.8" stroke="#000" stroke-width="1.1"/>
<text x="102.5" y="532.2" font-size="9.4" text-anchor="middle" font-weight="normal" fill="#222"  stroke="#222" stroke-width="0.3">10</text>
<text x="119.3" y="532.2" font-size="9.4" text-anchor="middle" font-weight="normal" fill="#222"  stroke="#222" stroke-width="0.3">20</text>
<text x="136.1" y="532.2" font-size="9.4" text-anchor="middle" font-weight="normal" fill="#222"  stroke="#222" stroke-width="0.3">30</text>
<text x="152.9" y="532.2" font-size="9.4" text-anchor="middle" font-weight="normal" fill="#222"  stroke="#222" stroke-width="0.3">40</text>
<text x="169.7" y="532.2" font-size="9.4" text-anchor="middle" font-weight="normal" fill="#222"  stroke="#222" stroke-width="0.3">50</text>
<text x="186.4" y="532.2" font-size="9.4" text-anchor="middle" font-weight="normal" fill="#222"  stroke="#222" stroke-width="0.3">60</text>
<text x="203.2" y="532.2" font-size="9.4" text-anchor="middle" font-weight="normal" fill="#222"  stroke="#222" stroke-width="0.3">70</text>
<text x="220.0" y="532.2" font-size="9.4" text-anchor="middle" font-weight="normal" fill="#222"  stroke="#222" stroke-width="0.3">80</text>
<text x="0" y="0" font-size="12" fill="#222" text-anchor="middle" textLength="56" lengthAdjust="spacingAndGlyphs" transform="translate(59.8,410.7) rotate(-90)" stroke="#222" stroke-width="0.3">Deformation</text>
<rect x="256.3" y="274.2" width="241.7" height="242.3" fill="none" stroke="#000" stroke-width="1.7"/>
<line x1="252.6" y1="516.5" x2="256.3" y2="516.5" stroke="#000" stroke-width="1.1"/>
<text x="249.2" y="519.8" font-size="9.4" text-anchor="end" font-weight="normal" fill="#222"  stroke="#222" stroke-width="0.3">0</text>
<line x1="252.6" y1="468.0" x2="256.3" y2="468.0" stroke="#000" stroke-width="1.1"/>
<text x="249.2" y="471.3" font-size="9.4" text-anchor="end" font-weight="normal" fill="#222"  stroke="#222" stroke-width="0.3">0.02</text>
<line x1="252.6" y1="419.6" x2="256.3" y2="419.6" stroke="#000" stroke-width="1.1"/>
<text x="249.2" y="422.9" font-size="9.4" text-anchor="end" font-weight="normal" fill="#222"  stroke="#222" stroke-width="0.3">0.04</text>
<line x1="252.6" y1="371.1" x2="256.3" y2="371.1" stroke="#000" stroke-width="1.1"/>
<text x="249.2" y="374.4" font-size="9.4" text-anchor="end" font-weight="normal" fill="#222"  stroke="#222" stroke-width="0.3">0.06</text>
<line x1="252.6" y1="322.7" x2="256.3" y2="322.7" stroke="#000" stroke-width="1.1"/>
<text x="249.2" y="326.0" font-size="9.4" text-anchor="end" font-weight="normal" fill="#222"  stroke="#222" stroke-width="0.3">0.08</text>
<line x1="252.6" y1="274.2" x2="256.3" y2="274.2" stroke="#000" stroke-width="1.1"/>
<text x="249.2" y="277.5" font-size="9.4" text-anchor="end" font-weight="normal" fill="#222"  stroke="#222" stroke-width="0.3">0.1</text>
<line x1="256.3" y1="516.5" x2="256.3" y2="520.4" stroke="#000" stroke-width="1.1"/>
<text x="256.3" y="533.4" font-size="9.4" text-anchor="middle" font-weight="normal" fill="#222"  stroke="#222" stroke-width="0.3">10</text>
<line x1="290.8" y1="516.5" x2="290.8" y2="520.4" stroke="#000" stroke-width="1.1"/>
<text x="290.8" y="533.4" font-size="9.4" text-anchor="middle" font-weight="normal" fill="#222"  stroke="#222" stroke-width="0.3">20</text>
<line x1="325.4" y1="516.5" x2="325.4" y2="520.4" stroke="#000" stroke-width="1.1"/>
<text x="325.4" y="533.4" font-size="9.4" text-anchor="middle" font-weight="normal" fill="#222"  stroke="#222" stroke-width="0.3">30</text>
<line x1="359.9" y1="516.5" x2="359.9" y2="520.4" stroke="#000" stroke-width="1.1"/>
<text x="359.9" y="533.4" font-size="9.4" text-anchor="middle" font-weight="normal" fill="#222"  stroke="#222" stroke-width="0.3">40</text>
<line x1="394.4" y1="516.5" x2="394.4" y2="520.4" stroke="#000" stroke-width="1.1"/>
<text x="394.4" y="533.4" font-size="9.4" text-anchor="middle" font-weight="normal" fill="#222"  stroke="#222" stroke-width="0.3">50</text>
<line x1="428.9" y1="516.5" x2="428.9" y2="520.4" stroke="#000" stroke-width="1.1"/>
<text x="428.9" y="533.4" font-size="9.4" text-anchor="middle" font-weight="normal" fill="#222"  stroke="#222" stroke-width="0.3">60</text>
<line x1="463.5" y1="516.5" x2="463.5" y2="520.4" stroke="#000" stroke-width="1.1"/>
<text x="463.5" y="533.4" font-size="9.4" text-anchor="middle" font-weight="normal" fill="#222"  stroke="#222" stroke-width="0.3">70</text>
<line x1="498.0" y1="516.5" x2="498.0" y2="520.4" stroke="#000" stroke-width="1.1"/>
<text x="498.0" y="533.4" font-size="9.4" text-anchor="middle" font-weight="normal" fill="#222"  stroke="#222" stroke-width="0.3">80</text>
<path d="M380.1,358.1 L368.1,370.3 L353.5,376.5 L336.9,405.4 L328.8,423.8 L325.4,449.2 L354.2,464.2 L380.8,456.2 L394.6,444.6 L402.7,426.2 L402,389.2 Z" fill="none" stroke="#6ea742" stroke-width="1.8" stroke-linejoin="round"/>
<path d="M379.6,401.2 L353.5,407.7 L336.9,419.2 L326.5,435.4 L320.8,455 L326.5,474.6 L354.2,482 L380.8,473.5 L405,453.8 L415.4,434.2 L410.8,415.8 L402.7,410.5 Z" fill="none" stroke="#2b4a84" stroke-width="1.8" stroke-linejoin="round"/>
<path d="M352.6,421.6 L361.8,428.6 L353.6,434.4 L351.4,428.2 Z" fill="none" stroke="#6ea742" stroke-width="2.3" stroke-linejoin="round"/>
<path d="M354,446.2 L363.8,455 L352.6,456.8 Z" fill="none" stroke="#2b4a84" stroke-width="2.3" stroke-linejoin="round"/>
<rect x="256.9" y="274.4" width="105.4" height="54.2" fill="#fff" stroke="#000" stroke-width="1.2"/>
<text x="309.8" y="292.6" font-size="9" text-anchor="middle" font-weight="normal" fill="#222"  stroke="#222" stroke-width="0.3">Reservoir</text>
<path d="M271.5,304.3 L293.1,300.3 L316,304.3 L330.8,308.4 L345.6,313.2 L334.8,317.8 L314.6,319.7 L293.1,318.3 L276.9,314.3 Z" fill="none" stroke="#2b4a84" stroke-width="1.3" stroke-linejoin="round"/>
<path d="M274.2,305.7 L293.1,302.5 L314.6,305.7 L332.1,311.6 L325.4,316.5 L303.8,317.8 L285,316.5 L275.6,311 Z" fill="none" stroke="#7aae4c" stroke-width="1.1" stroke-linejoin="round"/>
<path d="M290.5,312.6 Q293,310.4 300,311 L314.4,312.8 Q305,314.6 296,314.4 Q291,314.2 290.5,312.6 Z" fill="#2b4a84"/>
<text x="365.6" y="284.6" font-size="8.6" text-anchor="start" font-weight="normal" fill="#222"  stroke="#222" stroke-width="0.3">0.03</text>
<text x="365.6" y="329.2" font-size="8.6" text-anchor="start" font-weight="normal" fill="#222"  stroke="#222" stroke-width="0.3">0</text>
<text x="258.4" y="341" font-size="8.6" text-anchor="start" font-weight="normal" fill="#222"  stroke="#222" stroke-width="0.3">10</text>
<text x="355.8" y="341" font-size="8.6" text-anchor="start" font-weight="normal" fill="#222"  stroke="#222" stroke-width="0.3">80</text>
<text x="427.1" y="298" font-size="9.1" text-anchor="start" font-weight="bold" fill="#7fb052"  stroke="#7fb052" stroke-width="0.3">ALLO</text>
<text x="427.1" y="314.4" font-size="9.1" text-anchor="start" font-weight="bold" fill="#28407a"  stroke="#28407a" stroke-width="0.3">SYN</text>
<text x="258.5" y="561" font-size="11" fill="#222" textLength="49" lengthAdjust="spacingAndGlyphs" stroke="#222" stroke-width="0.3">Size [μm<tspan font-size="7.5" dy="-4">2</tspan><tspan dy="4">]</tspan></text>
<rect x="78.6" y="587.5" width="232.9" height="19.4" fill="#fff" stroke="#000" stroke-width="2"/>
<text x="194.8" y="601.3" font-size="11.6" fill="#222" text-anchor="middle" stroke="#222" stroke-width="0.3">Increased deformation</text>
<rect x="320.2" y="587.2" width="138.6" height="19.5" fill="#fff" stroke="#000" stroke-width="2"/>
<text x="389.4" y="601.3" font-size="11.7" fill="#222" text-anchor="middle" stroke="#222" stroke-width="0.3">Constant cell size</text>
<line x1="129.8" y1="636.7" x2="129.8" y2="823.4" stroke="#000" stroke-width="1.5"/>
<line x1="126" y1="639.5" x2="129.8" y2="639.5" stroke="#000" stroke-width="1.2"/>
<text x="121.8" y="642.8" font-size="9.4" text-anchor="end" font-weight="normal" fill="#222"  stroke="#222" stroke-width="0.3">0.06</text>
<line x1="126" y1="685.3" x2="129.8" y2="685.3" stroke="#000" stroke-width="1.2"/>
<text x="121.8" y="688.6" font-size="9.4" text-anchor="end" font-weight="normal" fill="#222"  stroke="#222" stroke-width="0.3">0.05</text>
<line x1="126" y1="731.1" x2="129.8" y2="731.1" stroke="#000" stroke-width="1.2"/>
<text x="121.8" y="734.4" font-size="9.4" text-anchor="end" font-weight="normal" fill="#222"  stroke="#222" stroke-width="0.3">0.04</text>
<line x1="126" y1="776.9" x2="129.8" y2="776.9" stroke="#000" stroke-width="1.2"/>
<text x="121.8" y="780.2" font-size="9.4" text-anchor="end" font-weight="normal" fill="#222"  stroke="#222" stroke-width="0.3">0.03</text>
<line x1="126" y1="822.7" x2="129.8" y2="822.7" stroke="#000" stroke-width="1.2"/>
<text x="121.8" y="826.0" font-size="9.4" text-anchor="end" font-weight="normal" fill="#222"  stroke="#222" stroke-width="0.3">0.02</text>
<line x1="129" y1="822.6" x2="227.3" y2="822.6" stroke="#000" stroke-width="1.6"/>
<line x1="161.8" y1="822.6" x2="161.8" y2="825.6" stroke="#000" stroke-width="1.2"/>
<line x1="193.2" y1="822.6" x2="193.2" y2="825.6" stroke="#000" stroke-width="1.2"/>
<line x1="225.6" y1="822.6" x2="225.6" y2="825.6" stroke="#000" stroke-width="1.2"/>
<rect x="152.8" y="663.3" width="18.2" height="159.3" fill="#6aaa3c" stroke="#5d9a34" stroke-width="0.8"/>
<path d="M162,663.3 L162,659.1 M157.3,659.1 L166.5,659.1" stroke="#111" stroke-width="1.6"/>
<rect x="184" y="708" width="17.8" height="114.6" fill="#2e4d84" stroke="#263f6c" stroke-width="0.8"/>
<path d="M192.6,708 L192.6,703.7 M188.2,703.7 L196.8,703.7" stroke="#111" stroke-width="1.6"/>
<path d="M161.4,644.8 L161.4,638.9 L192.5,638.9 L192.5,644.8" fill="none" stroke="#111" stroke-width="1.4"/>
<text x="176.7" y="638.6" font-size="11" text-anchor="middle" font-weight="bold" fill="#222"  stroke="#222" stroke-width="0.3">***</text>
<text x="0" y="0" font-size="12.6" fill="#222" text-anchor="middle" textLength="56.2" lengthAdjust="spacingAndGlyphs" transform="translate(93.5,728.7) rotate(-90)" stroke="#222" stroke-width="0.3">Deformation</text>
<text x="0" y="0" font-size="9.6" fill="#8dba63" text-anchor="end" transform="translate(167.7,835.6) rotate(-45)" stroke="#8dba63" stroke-width="0.3">ALLO</text>
<text x="0" y="0" font-size="9.6" fill="#45598a" text-anchor="end" transform="translate(198.2,834.8) rotate(-45)" stroke="#45598a" stroke-width="0.3">SYN</text>
<line x1="412.4" y1="635.9" x2="412.4" y2="823.4" stroke="#000" stroke-width="1.5"/>
<line x1="412.4" y1="639.5" x2="416.2" y2="639.5" stroke="#000" stroke-width="1.2"/>
<text x="418.6" y="642.8" font-size="9.4" text-anchor="start" font-weight="normal" fill="#222"  stroke="#222" stroke-width="0.3">60</text>
<line x1="412.4" y1="685.3" x2="416.2" y2="685.3" stroke="#000" stroke-width="1.2"/>
<text x="418.6" y="688.6" font-size="9.4" text-anchor="start" font-weight="normal" fill="#222"  stroke="#222" stroke-width="0.3">50</text>
<line x1="412.4" y1="731.1" x2="416.2" y2="731.1" stroke="#000" stroke-width="1.2"/>
<text x="418.6" y="734.4" font-size="9.4" text-anchor="start" font-weight="normal" fill="#222"  stroke="#222" stroke-width="0.3">40</text>
<line x1="412.4" y1="776.9" x2="416.2" y2="776.9" stroke="#000" stroke-width="1.2"/>
<text x="418.6" y="780.2" font-size="9.4" text-anchor="start" font-weight="normal" fill="#222"  stroke="#222" stroke-width="0.3">30</text>
<line x1="412.4" y1="822.7" x2="416.2" y2="822.7" stroke="#000" stroke-width="1.2"/>
<text x="418.6" y="826.0" font-size="9.4" text-anchor="start" font-weight="normal" fill="#222"  stroke="#222" stroke-width="0.3">20</text>
<line x1="315" y1="822.6" x2="413" y2="822.6" stroke="#000" stroke-width="1.6"/>
<line x1="318.8" y1="822.6" x2="318.8" y2="825.6" stroke="#000" stroke-width="1.2"/>
<line x1="348.8" y1="822.6" x2="348.8" y2="825.6" stroke="#000" stroke-width="1.2"/>
<line x1="380.4" y1="822.6" x2="380.4" y2="825.6" stroke="#000" stroke-width="1.2"/>
<rect x="339.4" y="684.9" width="18.2" height="137.7" fill="#6aaa3c" stroke="#5d9a34" stroke-width="0.8"/>
<path d="M348.5,684.9 L348.5,679.2 M344,679.2 L353,679.2" stroke="#111" stroke-width="1.6"/>
<rect x="371.4" y="695" width="17.8" height="127.6" fill="#2e4d84" stroke="#263f6c" stroke-width="0.8"/>
<path d="M379.7,695 L379.7,684.1 M375,684.1 L384.4,684.1" stroke="#111" stroke-width="1.6"/>
<path d="M347.6,641.8 L347.6,638.9 L379.8,638.9 L379.8,641.8" fill="none" stroke="#111" stroke-width="1.4"/>
<text x="363.5" y="635.6" font-size="8.8" text-anchor="middle" font-weight="normal" fill="#222"  stroke="#222" stroke-width="0.3">n.s.</text>
<text x="0" y="0" font-size="11.5" fill="#222" textLength="50" lengthAdjust="spacingAndGlyphs" transform="translate(440.6,704) rotate(90)" stroke="#222" stroke-width="0.3">Size [μm<tspan font-size="7.5" dy="-4">2</tspan><tspan dy="4">]</tspan></text>
<text x="0" y="0" font-size="9.6" fill="#8dba63" text-anchor="end" transform="translate(353.5,835) rotate(-45)" stroke="#8dba63" stroke-width="0.3">ALLO</text>
<text x="0" y="0" font-size="9.6" fill="#45598a" text-anchor="end" transform="translate(385,833.5) rotate(-45)" stroke="#45598a" stroke-width="0.3">SYN</text>
<defs><linearGradient id="tg5" gradientUnits="userSpaceOnUse" x1="0" y1="629.9" x2="0" y2="706.8"><stop offset="0.0312" stop-color="#5e5e5e"/><stop offset="0.1053" stop-color="#5a5a5a"/><stop offset="0.1248" stop-color="#424242"/><stop offset="0.2029" stop-color="#3e3e3e"/><stop offset="0.2224" stop-color="#848484"/><stop offset="0.6385" stop-color="#868686"/><stop offset="0.6905" stop-color="#8e8e8e"/><stop offset="0.7243" stop-color="#8a8a8a"/><stop offset="0.7360" stop-color="#303030"/><stop offset="0.7659" stop-color="#2c2c2c"/><stop offset="0.7815" stop-color="#626262"/><stop offset="0.9688" stop-color="#626262"/></linearGradient></defs>
<rect x="231" y="629.9" width="81.89999999999998" height="76.89999999999998" fill="url(#tg5)"/>
<rect x="231" y="629.9" width="81.89999999999998" height="76.89999999999998" fill="url(#noisepat)" opacity="0.09" style="mix-blend-mode:overlay"/>
<path d="M256.3,659 C262,657.2 266,657 270,657.2 C278,657.5 284,659.5 288,662.5 C292,665 294,668 293.5,670 C293,673 290,675.5 286,676.5 C281,678 276,678.4 271,678.4 C265,678.4 260,678 257.3,677 C256,672 256,664 256.3,659 Z" fill="none" stroke="#a2a6a4" stroke-width="6" opacity="0.55"/>
<path d="M256.3,659 C262,657.2 266,657 270,657.2 C278,657.5 284,659.5 288,662.5 C292,665 294,668 293.5,670 C293,673 290,675.5 286,676.5 C281,678 276,678.4 271,678.4 C265,678.4 260,678 257.3,677 C256,672 256,664 256.3,659 Z" fill="#505050"/>
<path d="M256.3,659 C262,657.2 266,657 270,657.2 C278,657.5 284,659.5 288,662.5 C292,665 294,668 293.5,670 C293,673 290,675.5 286,676.5 C281,678 276,678.4 271,678.4 C265,678.4 260,678 257.3,677 C256,672 256,664 256.3,659 Z" fill="url(#cellpat)" opacity="0.3"/>
<path d="M256.3,659 C262,657.2 266,657 270,657.2 C278,657.5 284,659.5 288,662.5 C292,665 294,668 293.5,670 C293,673 290,675.5 286,676.5 C281,678 276,678.4 271,678.4 C265,678.4 260,678 257.3,677 C256,672 256,664 256.3,659 Z" fill="none" stroke="#bb1e2c" stroke-width="1.3"/>
<rect x="293.2" y="698" width="13.300000000000011" height="2.6000000000000227" fill="#fff"/>
<rect x="232.2" y="631.1" width="79.49999999999997" height="74.49999999999997" fill="none" stroke="#6da544" stroke-width="2.4"/>
<defs><linearGradient id="tg6" gradientUnits="userSpaceOnUse" x1="0" y1="727.5" x2="0" y2="804.4"><stop offset="0.0260" stop-color="#666666"/><stop offset="0.1040" stop-color="#626262"/><stop offset="0.1235" stop-color="#4c4c4c"/><stop offset="0.1951" stop-color="#4a4a4a"/><stop offset="0.2211" stop-color="#707070"/><stop offset="0.2601" stop-color="#848484"/><stop offset="0.6437" stop-color="#868686"/><stop offset="0.6957" stop-color="#8c8c8c"/><stop offset="0.7256" stop-color="#888888"/><stop offset="0.7386" stop-color="#2a2a2a"/><stop offset="0.7802" stop-color="#2a2a2a"/><stop offset="0.7932" stop-color="#646464"/><stop offset="0.9688" stop-color="#646464"/></linearGradient></defs>
<rect x="231" y="727.5" width="81.89999999999998" height="76.89999999999998" fill="url(#tg6)"/>
<rect x="231" y="727.5" width="81.89999999999998" height="76.89999999999998" fill="url(#noisepat)" opacity="0.09" style="mix-blend-mode:overlay"/>
<path d="M266,763.5 C266,756 272,751.6 280,751.6 C289,751.6 297,756 297,763 C297,770 290,775 280,775 C272,775 266,770.5 266,763.5 Z" fill="none" stroke="#a2a6a4" stroke-width="6" opacity="0.55"/>
<path d="M266,763.5 C266,756 272,751.6 280,751.6 C289,751.6 297,756 297,763 C297,770 290,775 280,775 C272,775 266,770.5 266,763.5 Z" fill="#505050"/>
<path d="M266,763.5 C266,756 272,751.6 280,751.6 C289,751.6 297,756 297,763 C297,770 290,775 280,775 C272,775 266,770.5 266,763.5 Z" fill="url(#cellpat)" opacity="0.3"/>
<path d="M266,763.5 C266,756 272,751.6 280,751.6 C289,751.6 297,756 297,763 C297,770 290,775 280,775 C272,775 266,770.5 266,763.5 Z" fill="none" stroke="#bb1e2c" stroke-width="1.3"/>
<rect x="291.5" y="794.8" width="13.300000000000011" height="2.800000000000068" fill="#fff"/>
<rect x="232.05" y="728.55" width="79.79999999999998" height="74.79999999999998" fill="none" stroke="#2c4a80" stroke-width="2.1"/>
<rect x="0.5" y="0.5" width="518.7" height="861.7" fill="none" stroke="#000" stroke-width="1.2"/>
<line x1="519.25" y1="0" x2="519.25" y2="863" stroke="#000" stroke-width="1.5"/>
<line x1="0" y1="862.25" x2="520" y2="862.25" stroke="#000" stroke-width="1.5"/>
<text x="8.3" y="21" font-size="16.5" text-anchor="start" font-weight="bold" fill="#000"  stroke="#000" stroke-width="0.3">A</text>
<text x="303.5" y="20.8" font-size="16.5" text-anchor="start" font-weight="bold" fill="#000"  stroke="#000" stroke-width="0.3">B</text>
<text x="8.8" y="270" font-size="16.5" text-anchor="start" font-weight="bold" fill="#000"  stroke="#000" stroke-width="0.3">C</text>
<text x="8.8" y="589" font-size="16.5" text-anchor="start" font-weight="bold" fill="#000"  stroke="#000" stroke-width="0.3">D</text>
</svg>
</body></html>
